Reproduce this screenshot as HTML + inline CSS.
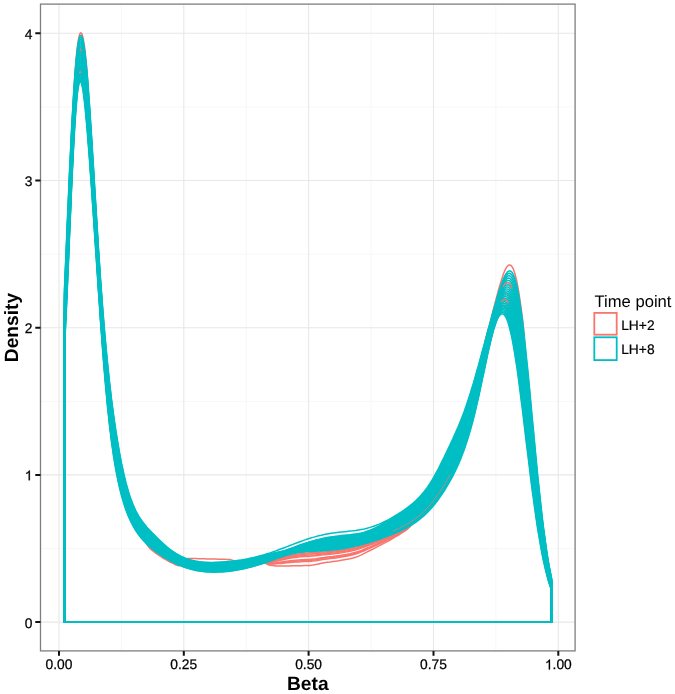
<!DOCTYPE html>
<html><head><meta charset="utf-8"><style>
html,body{margin:0;padding:0;background:#fff;}
svg{display:block;font-family:"Liberation Sans",sans-serif;text-rendering:geometricPrecision;filter:blur(0.3px);}
</style></head><body>
<svg width="675" height="694" viewBox="0 0 675 694">
<rect width="675" height="694" fill="#fff"/>
<path d="M121.4 4.1V650.9M246.2 4.1V650.9M371.1 4.1V650.9M495.9 4.1V650.9M40.5 548.5H575.1M40.5 401.3H575.1M40.5 254.1H575.1M40.5 106.9H575.1" stroke="#F7F7F7" stroke-width="1" fill="none"/>
<path d="M59.0 4.1V650.9M183.8 4.1V650.9M308.6 4.1V650.9M433.5 4.1V650.9M558.3 4.1V650.9M40.5 622.1H575.1M40.5 474.9H575.1M40.5 327.7H575.1M40.5 180.5H575.1M40.5 33.3H575.1" stroke="#E8E8E8" stroke-width="1.1" fill="none"/>
<g fill="none" stroke-width="1.5" stroke-linejoin="round">
<path d="M64.5 622.1L64.5 317.9L64.9 308.5L65.4 298.9L65.8 289.1L66.3 279.2L66.7 269.3L67.1 259.2L67.6 249.0L68.0 238.9L68.5 228.7L68.9 218.6L69.3 208.5L69.8 198.5L70.2 188.6L70.7 178.9L71.1 169.3L71.5 160.0L72.0 150.9L72.4 140.7L72.9 128.1L73.3 114.6L73.7 101.3L74.2 89.1L74.6 79.0L75.1 71.8L75.5 66.2L75.9 61.0L76.4 56.2L76.8 51.9L77.2 47.9L77.7 44.5L78.1 41.5L78.6 38.9L79.0 36.8L79.4 35.1L79.9 33.9L80.3 33.1L80.8 32.8L81.2 32.9L81.6 33.4L82.1 34.4L82.5 35.8L83.0 37.6L83.4 39.8L83.8 42.4L84.3 45.4L84.7 48.8L85.2 52.5L85.6 56.5L86.0 60.9L86.5 65.5L86.9 70.5L87.4 76.9L87.8 86.2L88.2 97.5L88.7 109.6L89.1 121.4L89.6 131.7L90.0 139.6L90.4 146.0L90.9 152.5L91.3 159.0L91.8 165.7L92.2 172.4L92.6 179.1L93.1 186.0L93.5 192.8L94.0 199.7L94.4 206.6L94.8 213.5L95.3 220.4L95.7 227.3L96.2 234.1L96.6 241.0L97.0 247.8L97.5 254.6L97.9 261.3L98.3 267.9L98.8 274.5L99.2 281.0L99.7 287.5L100.1 293.8L100.5 300.1L101.0 306.2L101.4 312.3L101.9 318.3L102.3 324.1L102.7 329.9L103.2 335.5L103.6 341.0L104.1 346.4L104.5 351.7L104.9 356.9L105.4 361.9L105.8 366.9L106.3 371.7L106.7 376.3L107.1 380.9L107.6 385.4L108.0 389.7L108.5 393.9L108.9 398.0L109.3 402.0L109.8 405.9L110.2 409.7L110.7 413.4L111.1 417.0L111.5 420.5L112.0 423.9L112.4 427.2L112.9 430.4L113.3 433.5L113.7 436.6L114.2 439.5L114.6 442.4L115.1 445.2L115.5 448.0L115.9 450.7L116.4 453.3L116.8 455.8L117.3 458.3L117.7 460.7L118.1 463.0L118.6 465.3L119.0 467.6L119.4 469.7L119.9 471.9L120.3 473.9L120.8 475.9L121.2 477.9L121.6 479.8L122.1 481.7L122.5 483.5L123.0 485.3L123.4 487.0L123.8 488.7L124.3 490.4L124.7 492.0L125.2 493.6L125.6 495.1L126.0 496.6L126.5 498.0L126.9 499.4L127.4 500.8L127.8 502.1L128.2 503.4L128.7 504.6L129.1 505.9L129.6 507.1L130.0 508.2L132.9 515.0L135.7 520.6L138.6 525.3L141.4 529.3L144.3 532.8L147.1 535.9L150.0 538.8L152.9 541.5L155.7 544.0L158.6 546.5L161.4 548.8L164.3 551.0L167.1 553.1L170.0 555.0L172.9 556.8L175.7 558.5L178.6 560.0L181.4 561.3L184.3 562.5L187.1 563.5L190.0 564.4L192.9 565.1L195.7 565.7L198.6 566.2L201.4 566.6L204.3 566.9L207.1 567.1L210.0 567.2L212.9 567.3L215.7 567.3L218.6 567.2L221.4 567.0L224.3 566.8L227.1 566.6L230.0 566.3L232.9 565.9L235.7 565.5L238.6 565.1L241.4 564.6L244.3 564.0L247.1 563.4L250.0 562.8L252.9 562.1L255.7 561.4L258.6 560.6L261.4 559.7L264.3 558.8L267.1 557.9L270.0 556.9L272.9 555.9L275.7 554.9L278.6 553.9L281.4 552.8L284.3 551.8L287.1 550.9L290.0 549.9L292.9 549.0L295.7 548.2L298.6 547.4L301.4 546.7L304.3 546.0L307.1 545.4L310.0 544.8L312.9 544.3L315.7 543.9L318.6 543.4L321.4 543.0L324.3 542.6L327.1 542.3L330.0 541.9L332.9 541.5L335.7 541.2L338.6 540.8L341.4 540.4L344.3 540.1L347.1 539.6L350.0 539.2L352.9 538.7L355.7 538.2L358.6 537.7L361.4 537.0L364.3 536.4L367.1 535.6L370.0 534.8L372.9 533.9L375.7 533.0L378.6 531.9L381.4 530.8L384.3 529.6L387.1 528.4L390.0 527.1L392.9 525.7L395.7 524.2L398.6 522.7L401.4 521.1L404.3 519.5L407.1 517.7L410.0 515.8L412.9 513.7L415.7 511.5L418.6 509.1L421.4 506.4L424.3 503.4L427.1 500.1L430.0 496.5L432.9 492.6L435.7 488.3L438.6 483.7L441.4 478.9L444.3 473.8L447.1 468.5L450.0 463.0L452.9 457.2L455.7 451.2L458.6 444.8L461.4 437.9L464.3 430.3L467.1 422.0L470.0 412.9L470.9 409.8L471.8 406.6L472.8 403.3L473.7 400.0L474.6 396.6L475.5 393.1L476.4 389.5L477.3 385.9L478.3 382.2L479.2 377.6L480.1 372.1L481.0 366.1L481.9 360.0L482.8 354.0L483.8 348.4L484.7 343.4L485.6 339.1L486.5 335.6L487.4 332.2L488.3 328.8L489.3 325.4L490.2 321.9L491.1 318.4L492.0 314.9L492.9 311.4L493.8 307.8L494.8 304.3L495.7 300.8L496.6 297.3L497.5 293.9L498.4 290.5L499.3 287.1L500.3 283.9L501.2 280.9L502.1 278.0L503.0 275.3L503.9 272.8L504.8 270.6L505.8 268.7L506.7 267.1L507.6 266.0L508.5 265.2L509.4 264.9L510.3 265.1L511.3 265.7L512.2 266.9L513.1 268.6L514.0 270.9L514.9 273.8L515.8 277.3L516.8 281.3L517.7 285.9L518.6 291.1L519.5 296.8L520.4 303.1L521.3 309.9L522.3 317.2L523.2 325.0L524.1 335.3L525.0 348.7L525.9 363.9L526.8 380.1L527.8 396.4L528.7 411.8L529.6 425.6L530.5 437.1L531.4 446.2L532.3 454.7L533.3 463.1L534.2 471.4L535.1 479.6L536.0 487.6L536.9 495.4L537.8 503.0L538.8 510.4L539.7 517.5L540.6 524.3L541.5 530.9L542.4 537.2L543.3 543.2L544.3 548.9L545.2 554.3L546.1 559.5L547.0 564.3L547.9 568.9L548.8 573.2L549.8 577.2L550.7 581.0L551.6 584.4L551.6 622.1Z" stroke="#F8766D"/>
<path d="M64.5 622.1L64.5 329.6L64.9 320.6L65.4 311.4L65.8 301.9L66.3 292.3L66.7 282.5L67.1 272.5L67.6 262.4L68.0 252.3L68.5 242.1L68.9 231.8L69.3 221.6L69.8 211.5L70.2 201.4L70.7 191.4L71.1 181.7L71.5 172.1L72.0 162.7L72.4 153.7L72.9 144.9L73.3 136.5L73.7 128.5L74.2 120.9L74.6 113.7L75.1 107.0L75.5 100.8L75.9 95.0L76.4 89.8L76.8 85.1L77.2 81.0L77.7 77.4L78.1 74.3L78.6 71.8L79.0 69.9L79.4 68.4L79.9 67.5L80.3 67.1L80.8 67.2L81.2 67.8L81.6 68.9L82.1 70.4L82.5 72.3L83.0 74.7L83.4 77.4L83.8 80.5L84.3 83.9L84.7 87.7L85.2 91.8L85.6 96.1L86.0 100.7L86.5 105.5L86.9 110.6L87.4 115.8L87.8 121.3L88.2 126.9L88.7 132.6L89.1 138.5L89.6 144.6L90.0 150.7L90.4 157.0L90.9 163.3L91.3 169.7L91.8 176.2L92.2 182.8L92.6 189.4L93.1 196.1L93.5 202.8L94.0 209.5L94.4 216.3L94.8 223.0L95.3 229.8L95.7 236.6L96.2 243.3L96.6 250.0L97.0 256.8L97.5 263.4L97.9 270.1L98.3 276.7L98.8 283.2L99.2 289.7L99.7 296.1L100.1 302.4L100.5 308.6L101.0 314.8L101.4 320.9L101.9 326.8L102.3 332.7L102.7 338.4L103.2 344.1L103.6 349.6L104.1 355.1L104.5 360.4L104.9 365.6L105.4 370.6L105.8 375.6L106.3 380.4L106.7 385.1L107.1 389.7L107.6 394.1L108.0 398.5L108.5 402.7L108.9 406.8L109.3 410.8L109.8 414.7L110.2 418.4L110.7 422.1L111.1 425.6L111.5 429.1L112.0 432.4L112.4 435.7L112.9 438.8L113.3 441.9L113.7 444.9L114.2 447.8L114.6 450.6L115.1 453.3L115.5 456.0L115.9 458.6L116.4 461.1L116.8 463.5L117.3 465.9L117.7 468.2L118.1 470.4L118.6 472.6L119.0 474.7L119.4 476.8L119.9 478.8L120.3 480.8L120.8 482.7L121.2 484.6L121.6 486.4L122.1 488.1L122.5 489.8L123.0 491.5L123.4 493.1L123.8 494.7L124.3 496.3L124.7 497.8L125.2 499.2L125.6 500.6L126.0 502.0L126.5 503.4L126.9 504.7L127.4 506.0L127.8 507.2L128.2 508.4L128.7 509.6L129.1 510.7L129.6 511.8L130.0 512.9L132.9 519.3L135.7 524.6L138.6 529.1L141.4 533.3L144.3 539.0L147.1 544.7L150.0 548.6L152.9 550.9L155.7 553.1L158.6 555.1L161.4 557.0L164.3 558.8L167.1 560.4L170.0 562.0L172.9 563.4L175.7 564.7L178.6 565.9L181.4 564.7L184.3 561.4L187.1 558.6L190.0 558.4L192.9 558.5L195.7 558.6L198.6 558.7L201.4 558.7L204.3 558.8L207.1 558.9L210.0 558.9L212.9 559.0L215.7 559.1L218.6 559.2L221.4 559.2L224.3 559.3L227.1 559.4L230.0 559.4L232.9 560.4L235.7 562.3L238.6 564.0L241.4 564.5L244.3 564.0L247.1 563.4L250.0 562.8L252.9 562.1L255.7 561.4L258.6 560.6L261.4 559.7L264.3 558.8L267.1 557.9L270.0 556.9L272.9 555.9L275.7 554.9L278.6 553.9L281.4 552.8L284.3 551.8L287.1 550.9L290.0 549.9L292.9 549.0L295.7 548.2L298.6 547.4L301.4 546.7L304.3 546.0L307.1 545.4L310.0 544.8L312.9 544.3L315.7 543.9L318.6 543.4L321.4 543.0L324.3 542.6L327.1 542.3L330.0 541.9L332.9 541.5L335.7 541.2L338.6 540.8L341.4 540.4L344.3 540.1L347.1 539.6L350.0 539.2L352.9 538.7L355.7 538.2L358.6 537.7L361.4 537.0L364.3 536.4L367.1 535.6L370.0 534.8L372.9 533.9L375.7 533.0L378.6 531.9L381.4 530.8L384.3 529.6L387.1 528.4L390.0 527.1L392.9 525.7L395.7 524.2L398.6 522.7L401.4 521.1L404.3 519.5L407.1 517.7L410.0 515.8L412.9 513.7L415.7 511.5L418.6 509.1L421.4 506.4L424.3 503.4L427.1 500.1L430.0 496.5L432.9 492.6L435.7 488.3L438.6 483.7L441.4 478.9L444.3 473.8L447.1 468.5L450.0 463.0L452.9 457.2L455.7 451.2L458.6 444.8L461.4 437.9L464.3 430.3L467.1 422.0L470.0 412.9L470.9 409.8L471.8 406.6L472.8 403.3L473.7 400.0L474.6 396.6L475.5 393.1L476.4 389.5L477.3 385.9L478.3 382.2L479.2 378.5L480.1 374.7L481.0 370.9L481.9 367.1L482.8 363.2L483.8 359.3L484.7 355.5L485.6 351.6L486.5 347.7L487.4 343.9L488.3 340.1L489.3 336.3L490.2 332.6L491.1 329.0L492.0 325.4L492.9 321.9L493.8 318.5L494.8 315.3L495.7 312.2L496.6 309.2L497.5 306.4L498.4 303.9L499.3 301.5L500.3 299.4L501.2 297.5L502.1 295.9L503.0 294.7L503.9 293.7L504.8 293.1L505.8 292.9L506.7 293.1L507.6 293.7L508.5 294.7L509.4 296.1L510.3 298.0L511.3 300.4L512.2 303.2L513.1 306.5L514.0 310.2L514.9 314.4L515.8 319.1L516.8 324.2L517.7 329.7L518.6 335.6L519.5 342.0L520.4 348.6L521.3 355.7L522.3 363.0L523.2 370.6L524.1 378.5L525.0 386.6L525.9 394.8L526.8 403.2L527.8 411.7L528.7 420.3L529.6 428.9L530.5 437.6L531.4 446.2L532.3 454.7L533.3 463.1L534.2 471.4L535.1 479.6L536.0 487.6L536.9 495.4L537.8 503.0L538.8 510.4L539.7 517.5L540.6 524.3L541.5 530.9L542.4 537.2L543.3 543.2L544.3 548.9L545.2 554.3L546.1 559.5L547.0 564.3L547.9 568.9L548.8 573.2L549.8 577.2L550.7 581.0L551.6 584.4L551.6 622.1Z" stroke="#F8766D"/>
<path d="M64.5 622.1L64.5 335.5L64.9 326.7L65.4 317.6L65.8 308.3L66.3 298.8L66.7 289.1L67.1 279.2L67.6 269.1L68.0 259.0L68.5 248.7L68.9 238.5L69.3 228.2L69.8 217.9L70.2 207.8L70.7 197.7L71.1 187.8L71.5 178.1L72.0 168.6L72.4 159.4L72.9 150.6L73.3 142.0L73.7 133.9L74.2 126.1L74.6 118.8L75.1 112.0L75.5 105.7L75.9 99.9L76.4 94.6L76.8 89.9L77.2 85.7L77.7 82.1L78.1 79.0L78.6 76.5L79.0 74.6L79.4 73.2L79.9 72.3L80.3 72.0L80.8 72.2L81.2 72.8L81.6 74.0L82.1 75.5L82.5 77.6L83.0 80.0L83.4 82.8L83.8 85.9L84.3 89.4L84.7 93.3L85.2 97.4L85.6 101.7L86.0 106.4L86.5 111.2L86.9 116.3L87.4 121.5L87.8 127.0L88.2 132.6L88.7 138.3L89.1 144.2L89.6 150.2L90.0 156.3L90.4 162.5L90.9 168.7L91.3 175.1L91.8 181.5L92.2 188.0L92.6 194.6L93.1 201.2L93.5 207.8L94.0 214.4L94.4 221.1L94.8 227.8L95.3 234.5L95.7 241.2L96.2 247.9L96.6 254.6L97.0 261.2L97.5 267.9L97.9 274.5L98.3 281.0L98.8 287.5L99.2 294.0L99.7 300.4L100.1 306.7L100.5 312.9L101.0 319.1L101.4 325.1L101.9 331.1L102.3 337.0L102.7 342.7L103.2 348.4L103.6 353.9L104.1 359.4L104.5 364.7L104.9 369.9L105.4 375.0L105.8 379.9L106.3 384.8L106.7 389.5L107.1 394.1L107.6 398.5L108.0 402.9L108.5 407.1L108.9 411.2L109.3 415.2L109.8 419.0L110.2 422.8L110.7 426.4L111.1 430.0L111.5 433.4L112.0 436.7L112.4 439.9L112.9 443.1L113.3 446.1L113.7 449.0L114.2 451.9L114.6 454.7L115.1 457.4L115.5 460.0L115.9 462.5L116.4 465.0L116.8 467.4L117.3 469.7L117.7 471.9L118.1 474.1L118.6 476.3L119.0 478.3L119.4 480.4L119.9 482.3L120.3 484.2L120.8 486.1L121.2 487.9L121.6 489.6L122.1 491.3L122.5 493.0L123.0 494.6L123.4 496.2L123.8 497.7L124.3 499.2L124.7 500.7L125.2 502.1L125.6 503.4L126.0 504.8L126.5 506.1L126.9 507.3L127.4 508.6L127.8 509.8L128.2 510.9L128.7 512.1L129.1 513.2L129.6 514.2L130.0 515.3L132.9 521.4L135.7 526.6L138.6 531.0L141.4 534.7L144.3 538.0L147.1 541.0L150.0 543.7L152.9 546.2L155.7 548.6L158.6 550.8L161.4 552.9L164.3 554.9L167.1 556.8L170.0 558.5L172.9 560.1L175.7 561.6L178.6 563.0L181.4 564.2L184.3 565.3L187.1 566.3L190.0 567.1L192.9 567.9L195.7 568.5L198.6 569.0L201.4 569.5L204.3 569.8L207.1 570.0L210.0 570.2L212.9 570.2L215.7 570.2L218.6 570.1L221.4 570.0L224.3 569.8L227.1 569.5L230.0 569.2L232.9 568.8L235.7 568.4L238.6 567.9L241.4 567.4L244.3 566.8L247.1 566.2L250.0 565.5L252.9 564.8L255.7 564.0L258.6 563.2L261.4 562.3L264.3 561.6L267.1 562.3L270.0 561.4L272.9 560.5L275.7 559.6L278.6 558.7L281.4 557.8L284.3 557.0L287.1 556.2L290.0 555.5L292.9 554.9L295.7 554.3L298.6 553.9L301.4 553.5L304.3 553.2L307.1 553.0L310.0 552.8L312.9 552.7L315.7 552.5L318.6 552.3L321.4 552.1L324.3 551.9L327.1 551.7L330.0 551.5L332.9 551.2L335.7 550.8L338.6 550.5L341.4 550.0L344.3 549.5L347.1 549.0L350.0 548.5L352.9 547.8L355.7 547.2L358.6 546.5L361.4 545.7L364.3 544.8L367.1 544.0L370.0 543.1L372.9 542.1L375.7 541.1L378.6 540.1L381.4 539.1L384.3 538.0L387.1 536.9L390.0 535.7L392.9 534.6L395.7 533.3L398.6 532.0L401.4 530.7L404.3 529.2L407.1 527.7L410.0 525.4L412.9 522.4L415.7 519.1L418.6 516.1L421.4 513.3L424.3 510.6L427.1 507.7L430.0 504.4L432.9 500.9L435.7 497.1L438.6 493.0L441.4 488.6L444.3 484.0L447.1 479.1L450.0 473.9L452.9 468.4L455.7 462.6L458.6 456.3L461.4 449.4L464.3 441.8L467.1 433.4L470.0 424.1L470.9 420.9L471.8 417.6L472.8 414.2L473.7 410.8L474.6 407.2L475.5 403.5L476.4 399.8L477.3 395.9L478.3 392.0L479.2 388.0L480.1 384.0L481.0 379.9L481.9 375.8L482.8 371.6L483.8 367.5L484.7 363.3L485.6 359.1L486.5 355.0L487.4 350.9L488.3 346.9L489.3 342.9L490.2 339.1L491.1 335.3L492.0 331.7L492.9 328.2L493.8 325.0L494.8 321.9L495.7 319.0L496.6 316.4L497.5 314.0L498.4 311.9L499.3 310.1L500.3 308.6L501.2 307.5L502.1 306.7L503.0 306.3L503.9 306.3L504.8 306.6L505.8 307.4L506.7 308.6L507.6 310.3L508.5 312.3L509.4 314.8L510.3 317.8L511.3 321.1L512.2 324.9L513.1 329.2L514.0 333.8L514.9 338.8L515.8 344.2L516.8 349.9L517.7 356.0L518.6 362.4L519.5 369.0L520.4 376.0L521.3 383.1L522.3 390.5L523.2 398.1L524.1 405.8L525.0 413.6L525.9 421.5L526.8 429.4L527.8 437.4L528.7 445.3L529.6 453.3L530.5 461.1L531.4 468.9L532.3 476.6L533.3 484.1L534.2 491.5L535.1 498.7L536.0 505.7L536.9 512.5L537.8 519.1L538.8 525.4L539.7 531.5L540.6 537.4L541.5 543.0L542.4 548.3L543.3 553.4L544.3 558.3L545.2 562.9L546.1 567.2L547.0 571.3L547.9 575.1L548.8 578.7L549.8 582.1L550.7 585.2L551.6 588.1L551.6 622.1Z" stroke="#F8766D"/>
<path d="M64.5 622.1L64.5 335.5L64.9 326.7L65.4 317.6L65.8 308.3L66.3 298.8L66.7 289.1L67.1 279.2L67.6 269.1L68.0 259.0L68.5 248.7L68.9 238.5L69.3 228.2L69.8 217.9L70.2 207.8L70.7 197.7L71.1 187.8L71.5 178.1L72.0 168.6L72.4 159.4L72.9 150.6L73.3 142.0L73.7 133.9L74.2 126.1L74.6 118.8L75.1 112.0L75.5 105.7L75.9 99.9L76.4 94.6L76.8 89.9L77.2 85.7L77.7 82.1L78.1 79.0L78.6 76.5L79.0 74.6L79.4 73.2L79.9 72.3L80.3 72.0L80.8 72.2L81.2 72.8L81.6 74.0L82.1 75.5L82.5 77.6L83.0 80.0L83.4 82.8L83.8 85.9L84.3 89.4L84.7 93.3L85.2 97.4L85.6 101.7L86.0 106.4L86.5 111.2L86.9 116.3L87.4 121.5L87.8 127.0L88.2 132.6L88.7 138.3L89.1 144.2L89.6 150.2L90.0 156.3L90.4 162.5L90.9 168.7L91.3 175.1L91.8 181.5L92.2 188.0L92.6 194.6L93.1 201.2L93.5 207.8L94.0 214.4L94.4 221.1L94.8 227.8L95.3 234.5L95.7 241.2L96.2 247.9L96.6 254.6L97.0 261.2L97.5 267.9L97.9 274.5L98.3 281.0L98.8 287.5L99.2 294.0L99.7 300.4L100.1 306.7L100.5 312.9L101.0 319.1L101.4 325.1L101.9 331.1L102.3 337.0L102.7 342.7L103.2 348.4L103.6 353.9L104.1 359.4L104.5 364.7L104.9 369.9L105.4 375.0L105.8 379.9L106.3 384.8L106.7 389.5L107.1 394.1L107.6 398.5L108.0 402.9L108.5 407.1L108.9 411.2L109.3 415.2L109.8 419.0L110.2 422.8L110.7 426.4L111.1 430.0L111.5 433.4L112.0 436.7L112.4 439.9L112.9 443.1L113.3 446.1L113.7 449.0L114.2 451.9L114.6 454.7L115.1 457.4L115.5 460.0L115.9 462.5L116.4 465.0L116.8 467.4L117.3 469.7L117.7 471.9L118.1 474.1L118.6 476.3L119.0 478.3L119.4 480.4L119.9 482.3L120.3 484.2L120.8 486.1L121.2 487.9L121.6 489.6L122.1 491.3L122.5 493.0L123.0 494.6L123.4 496.2L123.8 497.7L124.3 499.2L124.7 500.7L125.2 502.1L125.6 503.4L126.0 504.8L126.5 506.1L126.9 507.3L127.4 508.6L127.8 509.8L128.2 510.9L128.7 512.1L129.1 513.2L129.6 514.2L130.0 515.3L132.9 521.4L135.7 526.6L138.6 531.0L141.4 534.7L144.3 538.0L147.1 541.0L150.0 543.7L152.9 546.2L155.7 548.6L158.6 550.8L161.4 552.9L164.3 554.9L167.1 556.8L170.0 558.5L172.9 560.1L175.7 561.6L178.6 563.0L181.4 564.2L184.3 565.3L187.1 566.3L190.0 567.1L192.9 567.9L195.7 568.5L198.6 569.0L201.4 569.5L204.3 569.8L207.1 570.0L210.0 570.2L212.9 570.2L215.7 570.2L218.6 570.1L221.4 570.0L224.3 569.8L227.1 569.5L230.0 569.2L232.9 568.8L235.7 568.4L238.6 567.9L241.4 567.4L244.3 566.8L247.1 566.2L250.0 565.5L252.9 564.8L255.7 564.0L258.6 563.2L261.4 562.3L264.3 561.6L267.1 562.4L270.0 561.8L272.9 561.0L275.7 560.2L278.6 559.4L281.4 558.6L284.3 557.8L287.1 557.1L290.0 556.4L292.9 555.8L295.7 555.3L298.6 554.9L301.4 554.6L304.3 554.3L307.1 554.1L310.0 554.0L312.9 553.8L315.7 553.6L318.6 553.4L321.4 553.1L324.3 552.9L327.1 552.7L330.0 552.4L332.9 552.1L335.7 551.8L338.6 551.4L341.4 550.9L344.3 550.5L347.1 549.9L350.0 549.4L352.9 548.7L355.7 548.1L358.6 547.3L361.4 546.5L364.3 545.6L367.1 544.7L370.0 543.7L372.9 542.7L375.7 541.7L378.6 540.7L381.4 539.6L384.3 538.5L387.1 537.3L390.0 536.1L392.9 534.9L395.7 533.6L398.6 532.3L401.4 530.9L404.3 529.4L407.1 527.8L410.0 525.5L412.9 522.5L415.7 519.2L418.6 516.1L421.4 513.3L424.3 510.6L427.1 507.7L430.0 504.4L432.9 500.9L435.7 497.1L438.6 493.0L441.4 488.6L444.3 484.0L447.1 479.1L450.0 473.9L452.9 468.4L455.7 462.6L458.6 456.3L461.4 449.4L464.3 441.8L467.1 433.4L470.0 424.1L470.9 420.9L471.8 417.6L472.8 414.2L473.7 410.8L474.6 407.2L475.5 403.5L476.4 399.8L477.3 395.9L478.3 392.0L479.2 388.0L480.1 384.0L481.0 379.9L481.9 375.8L482.8 371.6L483.8 367.5L484.7 363.3L485.6 359.1L486.5 355.0L487.4 350.9L488.3 346.9L489.3 342.9L490.2 339.1L491.1 335.3L492.0 331.7L492.9 328.2L493.8 325.0L494.8 321.9L495.7 319.0L496.6 316.4L497.5 314.0L498.4 311.9L499.3 310.1L500.3 308.6L501.2 307.5L502.1 306.7L503.0 306.3L503.9 306.3L504.8 306.6L505.8 307.4L506.7 308.6L507.6 310.3L508.5 312.3L509.4 314.8L510.3 317.8L511.3 321.1L512.2 324.9L513.1 329.2L514.0 333.8L514.9 338.8L515.8 344.2L516.8 349.9L517.7 356.0L518.6 362.4L519.5 369.0L520.4 376.0L521.3 383.1L522.3 390.5L523.2 398.1L524.1 405.8L525.0 413.6L525.9 421.5L526.8 429.4L527.8 437.4L528.7 445.3L529.6 453.3L530.5 461.1L531.4 468.9L532.3 476.6L533.3 484.1L534.2 491.5L535.1 498.7L536.0 505.7L536.9 512.5L537.8 519.1L538.8 525.4L539.7 531.5L540.6 537.4L541.5 543.0L542.4 548.3L543.3 553.4L544.3 558.3L545.2 562.9L546.1 567.2L547.0 571.3L547.9 575.1L548.8 578.7L549.8 582.1L550.7 585.2L551.6 588.1L551.6 622.1Z" stroke="#F8766D"/>
<path d="M64.5 622.1L64.5 335.5L64.9 326.7L65.4 317.6L65.8 308.3L66.3 298.8L66.7 289.1L67.1 279.2L67.6 269.1L68.0 259.0L68.5 248.7L68.9 238.5L69.3 228.2L69.8 217.9L70.2 207.8L70.7 197.7L71.1 187.8L71.5 178.1L72.0 168.6L72.4 159.4L72.9 150.6L73.3 142.0L73.7 133.9L74.2 126.1L74.6 118.8L75.1 112.0L75.5 105.7L75.9 99.9L76.4 94.6L76.8 89.9L77.2 85.7L77.7 82.1L78.1 79.0L78.6 76.5L79.0 74.6L79.4 73.2L79.9 72.3L80.3 72.0L80.8 72.2L81.2 72.8L81.6 74.0L82.1 75.5L82.5 77.6L83.0 80.0L83.4 82.8L83.8 85.9L84.3 89.4L84.7 93.3L85.2 97.4L85.6 101.7L86.0 106.4L86.5 111.2L86.9 116.3L87.4 121.5L87.8 127.0L88.2 132.6L88.7 138.3L89.1 144.2L89.6 150.2L90.0 156.3L90.4 162.5L90.9 168.7L91.3 175.1L91.8 181.5L92.2 188.0L92.6 194.6L93.1 201.2L93.5 207.8L94.0 214.4L94.4 221.1L94.8 227.8L95.3 234.5L95.7 241.2L96.2 247.9L96.6 254.6L97.0 261.2L97.5 267.9L97.9 274.5L98.3 281.0L98.8 287.5L99.2 294.0L99.7 300.4L100.1 306.7L100.5 312.9L101.0 319.1L101.4 325.1L101.9 331.1L102.3 337.0L102.7 342.7L103.2 348.4L103.6 353.9L104.1 359.4L104.5 364.7L104.9 369.9L105.4 375.0L105.8 379.9L106.3 384.8L106.7 389.5L107.1 394.1L107.6 398.5L108.0 402.9L108.5 407.1L108.9 411.2L109.3 415.2L109.8 419.0L110.2 422.8L110.7 426.4L111.1 430.0L111.5 433.4L112.0 436.7L112.4 439.9L112.9 443.1L113.3 446.1L113.7 449.0L114.2 451.9L114.6 454.7L115.1 457.4L115.5 460.0L115.9 462.5L116.4 465.0L116.8 467.4L117.3 469.7L117.7 471.9L118.1 474.1L118.6 476.3L119.0 478.3L119.4 480.4L119.9 482.3L120.3 484.2L120.8 486.1L121.2 487.9L121.6 489.6L122.1 491.3L122.5 493.0L123.0 494.6L123.4 496.2L123.8 497.7L124.3 499.2L124.7 500.7L125.2 502.1L125.6 503.4L126.0 504.8L126.5 506.1L126.9 507.3L127.4 508.6L127.8 509.8L128.2 510.9L128.7 512.1L129.1 513.2L129.6 514.2L130.0 515.3L132.9 521.4L135.7 526.6L138.6 531.0L141.4 534.7L144.3 538.0L147.1 541.0L150.0 543.7L152.9 546.2L155.7 548.6L158.6 550.8L161.4 552.9L164.3 554.9L167.1 556.8L170.0 558.5L172.9 560.1L175.7 561.6L178.6 563.0L181.4 564.2L184.3 565.3L187.1 566.3L190.0 567.1L192.9 567.9L195.7 568.5L198.6 569.0L201.4 569.5L204.3 569.8L207.1 570.0L210.0 570.2L212.9 570.2L215.7 570.2L218.6 570.1L221.4 570.0L224.3 569.8L227.1 569.5L230.0 569.2L232.9 568.8L235.7 568.4L238.6 567.9L241.4 567.4L244.3 566.8L247.1 566.2L250.0 565.5L252.9 564.8L255.7 564.0L258.6 563.2L261.4 562.3L264.3 561.6L267.1 562.6L270.0 562.1L272.9 561.4L275.7 560.7L278.6 560.0L281.4 559.3L284.3 558.6L287.1 557.9L290.0 557.3L292.9 556.8L295.7 556.4L298.6 556.0L301.4 555.7L304.3 555.4L307.1 555.2L310.0 555.1L312.9 554.9L315.7 554.7L318.6 554.4L321.4 554.1L324.3 553.9L327.1 553.6L330.0 553.3L332.9 553.0L335.7 552.7L338.6 552.3L341.4 551.8L344.3 551.4L347.1 550.8L350.0 550.3L352.9 549.6L355.7 549.0L358.6 548.2L361.4 547.3L364.3 546.4L367.1 545.4L370.0 544.4L372.9 543.4L375.7 542.3L378.6 541.2L381.4 540.1L384.3 538.9L387.1 537.7L390.0 536.5L392.9 535.2L395.7 533.9L398.6 532.6L401.4 531.1L404.3 529.6L407.1 528.0L410.0 525.7L412.9 522.6L415.7 519.2L418.6 516.1L421.4 513.3L424.3 510.6L427.1 507.7L430.0 504.4L432.9 500.9L435.7 497.1L438.6 493.0L441.4 488.6L444.3 484.0L447.1 479.1L450.0 473.9L452.9 468.4L455.7 462.6L458.6 456.3L461.4 449.4L464.3 441.8L467.1 433.4L470.0 424.1L470.9 420.9L471.8 417.6L472.8 414.2L473.7 410.8L474.6 407.2L475.5 403.5L476.4 399.8L477.3 395.9L478.3 392.0L479.2 388.0L480.1 384.0L481.0 379.9L481.9 375.8L482.8 371.6L483.8 367.5L484.7 363.3L485.6 359.1L486.5 355.0L487.4 350.9L488.3 346.9L489.3 342.9L490.2 339.1L491.1 335.3L492.0 331.7L492.9 328.2L493.8 325.0L494.8 321.9L495.7 319.0L496.6 316.4L497.5 314.0L498.4 311.9L499.3 310.1L500.3 308.6L501.2 307.5L502.1 306.7L503.0 306.3L503.9 306.3L504.8 306.6L505.8 307.4L506.7 308.6L507.6 310.3L508.5 312.3L509.4 314.8L510.3 317.8L511.3 321.1L512.2 324.9L513.1 329.2L514.0 333.8L514.9 338.8L515.8 344.2L516.8 349.9L517.7 356.0L518.6 362.4L519.5 369.0L520.4 376.0L521.3 383.1L522.3 390.5L523.2 398.1L524.1 405.8L525.0 413.6L525.9 421.5L526.8 429.4L527.8 437.4L528.7 445.3L529.6 453.3L530.5 461.1L531.4 468.9L532.3 476.6L533.3 484.1L534.2 491.5L535.1 498.7L536.0 505.7L536.9 512.5L537.8 519.1L538.8 525.4L539.7 531.5L540.6 537.4L541.5 543.0L542.4 548.3L543.3 553.4L544.3 558.3L545.2 562.9L546.1 567.2L547.0 571.3L547.9 575.1L548.8 578.7L549.8 582.1L550.7 585.2L551.6 588.1L551.6 622.1Z" stroke="#F8766D"/>
<path d="M64.5 622.1L64.5 335.5L64.9 326.7L65.4 317.6L65.8 308.3L66.3 298.8L66.7 289.1L67.1 279.2L67.6 269.1L68.0 259.0L68.5 248.7L68.9 238.5L69.3 228.2L69.8 217.9L70.2 207.8L70.7 197.7L71.1 187.8L71.5 178.1L72.0 168.6L72.4 159.4L72.9 150.6L73.3 142.0L73.7 133.9L74.2 126.1L74.6 118.8L75.1 112.0L75.5 105.7L75.9 99.9L76.4 94.6L76.8 89.9L77.2 85.7L77.7 82.1L78.1 79.0L78.6 76.5L79.0 74.6L79.4 73.2L79.9 72.3L80.3 72.0L80.8 72.2L81.2 72.8L81.6 74.0L82.1 75.5L82.5 77.6L83.0 80.0L83.4 82.8L83.8 85.9L84.3 89.4L84.7 93.3L85.2 97.4L85.6 101.7L86.0 106.4L86.5 111.2L86.9 116.3L87.4 121.5L87.8 127.0L88.2 132.6L88.7 138.3L89.1 144.2L89.6 150.2L90.0 156.3L90.4 162.5L90.9 168.7L91.3 175.1L91.8 181.5L92.2 188.0L92.6 194.6L93.1 201.2L93.5 207.8L94.0 214.4L94.4 221.1L94.8 227.8L95.3 234.5L95.7 241.2L96.2 247.9L96.6 254.6L97.0 261.2L97.5 267.9L97.9 274.5L98.3 281.0L98.8 287.5L99.2 294.0L99.7 300.4L100.1 306.7L100.5 312.9L101.0 319.1L101.4 325.1L101.9 331.1L102.3 337.0L102.7 342.7L103.2 348.4L103.6 353.9L104.1 359.4L104.5 364.7L104.9 369.9L105.4 375.0L105.8 379.9L106.3 384.8L106.7 389.5L107.1 394.1L107.6 398.5L108.0 402.9L108.5 407.1L108.9 411.2L109.3 415.2L109.8 419.0L110.2 422.8L110.7 426.4L111.1 430.0L111.5 433.4L112.0 436.7L112.4 439.9L112.9 443.1L113.3 446.1L113.7 449.0L114.2 451.9L114.6 454.7L115.1 457.4L115.5 460.0L115.9 462.5L116.4 465.0L116.8 467.4L117.3 469.7L117.7 471.9L118.1 474.1L118.6 476.3L119.0 478.3L119.4 480.4L119.9 482.3L120.3 484.2L120.8 486.1L121.2 487.9L121.6 489.6L122.1 491.3L122.5 493.0L123.0 494.6L123.4 496.2L123.8 497.7L124.3 499.2L124.7 500.7L125.2 502.1L125.6 503.4L126.0 504.8L126.5 506.1L126.9 507.3L127.4 508.6L127.8 509.8L128.2 510.9L128.7 512.1L129.1 513.2L129.6 514.2L130.0 515.3L132.9 521.4L135.7 526.6L138.6 531.0L141.4 534.7L144.3 538.0L147.1 541.0L150.0 543.7L152.9 546.2L155.7 548.6L158.6 550.8L161.4 552.9L164.3 554.9L167.1 556.8L170.0 558.5L172.9 560.1L175.7 561.6L178.6 563.0L181.4 564.2L184.3 565.3L187.1 566.3L190.0 567.1L192.9 567.9L195.7 568.5L198.6 569.0L201.4 569.5L204.3 569.8L207.1 570.0L210.0 570.2L212.9 570.2L215.7 570.2L218.6 570.1L221.4 570.0L224.3 569.8L227.1 569.5L230.0 569.2L232.9 568.8L235.7 568.4L238.6 567.9L241.4 567.4L244.3 566.8L247.1 566.2L250.0 565.5L252.9 564.8L255.7 564.0L258.6 563.2L261.4 562.3L264.3 561.7L267.1 562.8L270.0 562.5L272.9 561.9L275.7 561.3L278.6 560.7L281.4 560.0L284.3 559.4L287.1 558.8L290.0 558.3L292.9 557.8L295.7 557.4L298.6 557.0L301.4 556.8L304.3 556.5L307.1 556.4L310.0 556.2L312.9 556.0L315.7 555.7L318.6 555.4L321.4 555.1L324.3 554.8L327.1 554.6L330.0 554.3L332.9 554.0L335.7 553.6L338.6 553.2L341.4 552.8L344.3 552.3L347.1 551.8L350.0 551.2L352.9 550.5L355.7 549.9L358.6 549.0L361.4 548.1L364.3 547.1L367.1 546.1L370.0 545.0L372.9 544.0L375.7 542.9L378.6 541.8L381.4 540.6L384.3 539.4L387.1 538.2L390.0 536.9L392.9 535.6L395.7 534.2L398.6 532.8L401.4 531.3L404.3 529.8L407.1 528.2L410.0 525.8L412.9 522.7L415.7 519.3L418.6 516.1L421.4 513.3L424.3 510.6L427.1 507.7L430.0 504.4L432.9 500.9L435.7 497.1L438.6 493.0L441.4 488.6L444.3 484.0L447.1 479.1L450.0 473.9L452.9 468.4L455.7 462.6L458.6 456.3L461.4 449.4L464.3 441.8L467.1 433.4L470.0 424.1L470.9 420.9L471.8 417.6L472.8 414.2L473.7 410.8L474.6 407.2L475.5 403.5L476.4 399.8L477.3 395.9L478.3 392.0L479.2 388.0L480.1 384.0L481.0 379.9L481.9 375.8L482.8 371.6L483.8 367.5L484.7 363.3L485.6 359.1L486.5 355.0L487.4 350.9L488.3 346.9L489.3 342.9L490.2 339.1L491.1 335.3L492.0 331.7L492.9 328.2L493.8 325.0L494.8 321.9L495.7 319.0L496.6 316.4L497.5 314.0L498.4 311.9L499.3 310.1L500.3 308.6L501.2 307.5L502.1 306.7L503.0 306.3L503.9 306.3L504.8 306.6L505.8 307.4L506.7 308.6L507.6 310.3L508.5 312.3L509.4 314.8L510.3 317.8L511.3 321.1L512.2 324.9L513.1 329.2L514.0 333.8L514.9 338.8L515.8 344.2L516.8 349.9L517.7 356.0L518.6 362.4L519.5 369.0L520.4 376.0L521.3 383.1L522.3 390.5L523.2 398.1L524.1 405.8L525.0 413.6L525.9 421.5L526.8 429.4L527.8 437.4L528.7 445.3L529.6 453.3L530.5 461.1L531.4 468.9L532.3 476.6L533.3 484.1L534.2 491.5L535.1 498.7L536.0 505.7L536.9 512.5L537.8 519.1L538.8 525.4L539.7 531.5L540.6 537.4L541.5 543.0L542.4 548.3L543.3 553.4L544.3 558.3L545.2 562.9L546.1 567.2L547.0 571.3L547.9 575.1L548.8 578.7L549.8 582.1L550.7 585.2L551.6 588.1L551.6 622.1Z" stroke="#F8766D"/>
<path d="M64.5 622.1L64.5 335.5L64.9 326.7L65.4 317.6L65.8 308.3L66.3 298.8L66.7 289.1L67.1 279.2L67.6 269.1L68.0 259.0L68.5 248.7L68.9 238.5L69.3 228.2L69.8 217.9L70.2 207.8L70.7 197.7L71.1 187.8L71.5 178.1L72.0 168.6L72.4 159.4L72.9 150.6L73.3 142.0L73.7 133.9L74.2 126.1L74.6 118.8L75.1 112.0L75.5 105.7L75.9 99.9L76.4 94.6L76.8 89.9L77.2 85.7L77.7 82.1L78.1 79.0L78.6 76.5L79.0 74.6L79.4 73.2L79.9 72.3L80.3 72.0L80.8 72.2L81.2 72.8L81.6 74.0L82.1 75.5L82.5 77.6L83.0 80.0L83.4 82.8L83.8 85.9L84.3 89.4L84.7 93.3L85.2 97.4L85.6 101.7L86.0 106.4L86.5 111.2L86.9 116.3L87.4 121.5L87.8 127.0L88.2 132.6L88.7 138.3L89.1 144.2L89.6 150.2L90.0 156.3L90.4 162.5L90.9 168.7L91.3 175.1L91.8 181.5L92.2 188.0L92.6 194.6L93.1 201.2L93.5 207.8L94.0 214.4L94.4 221.1L94.8 227.8L95.3 234.5L95.7 241.2L96.2 247.9L96.6 254.6L97.0 261.2L97.5 267.9L97.9 274.5L98.3 281.0L98.8 287.5L99.2 294.0L99.7 300.4L100.1 306.7L100.5 312.9L101.0 319.1L101.4 325.1L101.9 331.1L102.3 337.0L102.7 342.7L103.2 348.4L103.6 353.9L104.1 359.4L104.5 364.7L104.9 369.9L105.4 375.0L105.8 379.9L106.3 384.8L106.7 389.5L107.1 394.1L107.6 398.5L108.0 402.9L108.5 407.1L108.9 411.2L109.3 415.2L109.8 419.0L110.2 422.8L110.7 426.4L111.1 430.0L111.5 433.4L112.0 436.7L112.4 439.9L112.9 443.1L113.3 446.1L113.7 449.0L114.2 451.9L114.6 454.7L115.1 457.4L115.5 460.0L115.9 462.5L116.4 465.0L116.8 467.4L117.3 469.7L117.7 471.9L118.1 474.1L118.6 476.3L119.0 478.3L119.4 480.4L119.9 482.3L120.3 484.2L120.8 486.1L121.2 487.9L121.6 489.6L122.1 491.3L122.5 493.0L123.0 494.6L123.4 496.2L123.8 497.7L124.3 499.2L124.7 500.7L125.2 502.1L125.6 503.4L126.0 504.8L126.5 506.1L126.9 507.3L127.4 508.6L127.8 509.8L128.2 510.9L128.7 512.1L129.1 513.2L129.6 514.2L130.0 515.3L132.9 521.4L135.7 526.6L138.6 531.0L141.4 534.7L144.3 538.0L147.1 541.0L150.0 543.7L152.9 546.2L155.7 548.6L158.6 550.8L161.4 552.9L164.3 554.9L167.1 556.8L170.0 558.5L172.9 560.1L175.7 561.6L178.6 563.0L181.4 564.2L184.3 565.3L187.1 566.3L190.0 567.1L192.9 567.9L195.7 568.5L198.6 569.0L201.4 569.5L204.3 569.8L207.1 570.0L210.0 570.2L212.9 570.2L215.7 570.2L218.6 570.1L221.4 570.0L224.3 569.8L227.1 569.5L230.0 569.2L232.9 568.8L235.7 568.4L238.6 567.9L241.4 567.4L244.3 566.8L247.1 566.2L250.0 565.5L252.9 564.8L255.7 564.0L258.6 563.2L261.4 562.3L264.3 561.8L267.1 563.3L270.0 563.4L272.9 563.1L275.7 562.8L278.6 562.4L281.4 562.0L284.3 561.6L287.1 561.2L290.0 560.8L292.9 560.5L295.7 560.2L298.6 559.9L301.4 559.7L304.3 559.6L307.1 559.4L310.0 559.3L312.9 559.0L315.7 558.7L318.6 558.3L321.4 557.8L324.3 557.5L327.1 557.1L330.0 556.8L332.9 556.5L335.7 556.1L338.6 555.7L341.4 555.3L344.3 554.8L347.1 554.3L350.0 553.7L352.9 553.0L355.7 552.3L358.6 551.4L361.4 550.4L364.3 549.2L367.1 548.0L370.0 546.9L372.9 545.7L375.7 544.5L378.6 543.2L381.4 542.0L384.3 540.7L387.1 539.3L390.0 537.9L392.9 536.5L395.7 535.0L398.6 533.5L401.4 532.0L404.3 530.3L407.1 528.6L410.0 526.1L412.9 522.9L415.7 519.4L418.6 516.2L421.4 513.3L424.3 510.6L427.1 507.7L430.0 504.4L432.9 500.9L435.7 497.1L438.6 493.0L441.4 488.6L444.3 484.0L447.1 479.1L450.0 473.9L452.9 468.4L455.7 462.6L458.6 456.3L461.4 449.4L464.3 441.8L467.1 433.4L470.0 424.1L470.9 420.9L471.8 417.6L472.8 414.2L473.7 410.8L474.6 407.2L475.5 403.5L476.4 399.8L477.3 395.9L478.3 392.0L479.2 388.0L480.1 384.0L481.0 379.9L481.9 375.8L482.8 371.6L483.8 367.5L484.7 363.3L485.6 359.1L486.5 355.0L487.4 350.9L488.3 346.9L489.3 342.9L490.2 339.1L491.1 335.3L492.0 331.7L492.9 328.2L493.8 325.0L494.8 321.9L495.7 319.0L496.6 316.4L497.5 314.0L498.4 311.9L499.3 310.1L500.3 308.6L501.2 307.5L502.1 306.7L503.0 306.3L503.9 306.3L504.8 306.6L505.8 307.4L506.7 308.6L507.6 310.3L508.5 312.3L509.4 314.8L510.3 317.8L511.3 321.1L512.2 324.9L513.1 329.2L514.0 333.8L514.9 338.8L515.8 344.2L516.8 349.9L517.7 356.0L518.6 362.4L519.5 369.0L520.4 376.0L521.3 383.1L522.3 390.5L523.2 398.1L524.1 405.8L525.0 413.6L525.9 421.5L526.8 429.4L527.8 437.4L528.7 445.3L529.6 453.3L530.5 461.1L531.4 468.9L532.3 476.6L533.3 484.1L534.2 491.5L535.1 498.7L536.0 505.7L536.9 512.5L537.8 519.1L538.8 525.4L539.7 531.5L540.6 537.4L541.5 543.0L542.4 548.3L543.3 553.4L544.3 558.3L545.2 562.9L546.1 567.2L547.0 571.3L547.9 575.1L548.8 578.7L549.8 582.1L550.7 585.2L551.6 588.1L551.6 622.1Z" stroke="#F8766D"/>
<path d="M64.5 622.1L64.5 335.5L64.9 326.7L65.4 317.6L65.8 308.3L66.3 298.8L66.7 289.1L67.1 279.2L67.6 269.1L68.0 259.0L68.5 248.7L68.9 238.5L69.3 228.2L69.8 217.9L70.2 207.8L70.7 197.7L71.1 187.8L71.5 178.1L72.0 168.6L72.4 159.4L72.9 150.6L73.3 142.0L73.7 133.9L74.2 126.1L74.6 118.8L75.1 112.0L75.5 105.7L75.9 99.9L76.4 94.6L76.8 89.9L77.2 85.7L77.7 82.1L78.1 79.0L78.6 76.5L79.0 74.6L79.4 73.2L79.9 72.3L80.3 72.0L80.8 72.2L81.2 72.8L81.6 74.0L82.1 75.5L82.5 77.6L83.0 80.0L83.4 82.8L83.8 85.9L84.3 89.4L84.7 93.3L85.2 97.4L85.6 101.7L86.0 106.4L86.5 111.2L86.9 116.3L87.4 121.5L87.8 127.0L88.2 132.6L88.7 138.3L89.1 144.2L89.6 150.2L90.0 156.3L90.4 162.5L90.9 168.7L91.3 175.1L91.8 181.5L92.2 188.0L92.6 194.6L93.1 201.2L93.5 207.8L94.0 214.4L94.4 221.1L94.8 227.8L95.3 234.5L95.7 241.2L96.2 247.9L96.6 254.6L97.0 261.2L97.5 267.9L97.9 274.5L98.3 281.0L98.8 287.5L99.2 294.0L99.7 300.4L100.1 306.7L100.5 312.9L101.0 319.1L101.4 325.1L101.9 331.1L102.3 337.0L102.7 342.7L103.2 348.4L103.6 353.9L104.1 359.4L104.5 364.7L104.9 369.9L105.4 375.0L105.8 379.9L106.3 384.8L106.7 389.5L107.1 394.1L107.6 398.5L108.0 402.9L108.5 407.1L108.9 411.2L109.3 415.2L109.8 419.0L110.2 422.8L110.7 426.4L111.1 430.0L111.5 433.4L112.0 436.7L112.4 439.9L112.9 443.1L113.3 446.1L113.7 449.0L114.2 451.9L114.6 454.7L115.1 457.4L115.5 460.0L115.9 462.5L116.4 465.0L116.8 467.4L117.3 469.7L117.7 471.9L118.1 474.1L118.6 476.3L119.0 478.3L119.4 480.4L119.9 482.3L120.3 484.2L120.8 486.1L121.2 487.9L121.6 489.6L122.1 491.3L122.5 493.0L123.0 494.6L123.4 496.2L123.8 497.7L124.3 499.2L124.7 500.7L125.2 502.1L125.6 503.4L126.0 504.8L126.5 506.1L126.9 507.3L127.4 508.6L127.8 509.8L128.2 510.9L128.7 512.1L129.1 513.2L129.6 514.2L130.0 515.3L132.9 521.4L135.7 526.6L138.6 531.0L141.4 534.7L144.3 538.0L147.1 541.0L150.0 543.7L152.9 546.2L155.7 548.6L158.6 550.8L161.4 552.9L164.3 554.9L167.1 556.8L170.0 558.5L172.9 560.1L175.7 561.6L178.6 563.0L181.4 564.2L184.3 565.3L187.1 566.3L190.0 567.1L192.9 567.9L195.7 568.5L198.6 569.0L201.4 569.5L204.3 569.8L207.1 570.0L210.0 570.2L212.9 570.2L215.7 570.2L218.6 570.1L221.4 570.0L224.3 569.8L227.1 569.5L230.0 569.2L232.9 568.8L235.7 568.4L238.6 567.9L241.4 567.4L244.3 566.8L247.1 566.2L250.0 565.5L252.9 564.8L255.7 564.0L258.6 563.2L261.4 562.3L264.3 561.8L267.1 563.5L270.0 563.8L272.9 563.6L275.7 563.4L278.6 563.1L281.4 562.7L284.3 562.4L287.1 562.0L290.0 561.7L292.9 561.4L295.7 561.2L298.6 561.0L301.4 560.8L304.3 560.7L307.1 560.5L310.0 560.4L312.9 560.1L315.7 559.8L318.6 559.3L321.4 558.8L324.3 558.4L327.1 558.1L330.0 557.8L332.9 557.4L335.7 557.1L338.6 556.6L341.4 556.2L344.3 555.7L347.1 555.2L350.0 554.6L352.9 553.9L355.7 553.2L358.6 552.3L361.4 551.2L364.3 550.0L367.1 548.8L370.0 547.5L372.9 546.3L375.7 545.1L378.6 543.8L381.4 542.5L384.3 541.1L387.1 539.7L390.0 538.3L392.9 536.8L395.7 535.3L398.6 533.8L401.4 532.2L404.3 530.5L407.1 528.7L410.0 526.2L412.9 523.0L415.7 519.5L418.6 516.2L421.4 513.3L424.3 510.6L427.1 507.7L430.0 504.4L432.9 500.9L435.7 497.1L438.6 493.0L441.4 488.6L444.3 484.0L447.1 479.1L450.0 473.9L452.9 468.4L455.7 462.6L458.6 456.3L461.4 449.4L464.3 441.8L467.1 433.4L470.0 424.1L470.9 420.9L471.8 417.6L472.8 414.2L473.7 410.8L474.6 407.2L475.5 403.5L476.4 399.8L477.3 395.9L478.3 392.0L479.2 388.0L480.1 384.0L481.0 379.9L481.9 375.8L482.8 371.6L483.8 367.5L484.7 363.3L485.6 359.1L486.5 355.0L487.4 350.9L488.3 346.9L489.3 342.9L490.2 339.1L491.1 335.3L492.0 331.7L492.9 328.2L493.8 325.0L494.8 321.9L495.7 319.0L496.6 316.4L497.5 314.0L498.4 311.9L499.3 310.1L500.3 308.6L501.2 307.5L502.1 306.7L503.0 306.3L503.9 306.3L504.8 306.6L505.8 307.4L506.7 308.6L507.6 310.3L508.5 312.3L509.4 314.8L510.3 317.8L511.3 321.1L512.2 324.9L513.1 329.2L514.0 333.8L514.9 338.8L515.8 344.2L516.8 349.9L517.7 356.0L518.6 362.4L519.5 369.0L520.4 376.0L521.3 383.1L522.3 390.5L523.2 398.1L524.1 405.8L525.0 413.6L525.9 421.5L526.8 429.4L527.8 437.4L528.7 445.3L529.6 453.3L530.5 461.1L531.4 468.9L532.3 476.6L533.3 484.1L534.2 491.5L535.1 498.7L536.0 505.7L536.9 512.5L537.8 519.1L538.8 525.4L539.7 531.5L540.6 537.4L541.5 543.0L542.4 548.3L543.3 553.4L544.3 558.3L545.2 562.9L546.1 567.2L547.0 571.3L547.9 575.1L548.8 578.7L549.8 582.1L550.7 585.2L551.6 588.1L551.6 622.1Z" stroke="#F8766D"/>
<path d="M64.5 622.1L64.5 335.5L64.9 326.7L65.4 317.6L65.8 308.3L66.3 298.8L66.7 289.1L67.1 279.2L67.6 269.1L68.0 259.0L68.5 248.7L68.9 238.5L69.3 228.2L69.8 217.9L70.2 207.8L70.7 197.7L71.1 187.8L71.5 178.1L72.0 168.6L72.4 159.4L72.9 150.6L73.3 142.0L73.7 133.9L74.2 126.1L74.6 118.8L75.1 112.0L75.5 105.7L75.9 99.9L76.4 94.6L76.8 89.9L77.2 85.7L77.7 82.1L78.1 79.0L78.6 76.5L79.0 74.6L79.4 73.2L79.9 72.3L80.3 72.0L80.8 72.2L81.2 72.8L81.6 74.0L82.1 75.5L82.5 77.6L83.0 80.0L83.4 82.8L83.8 85.9L84.3 89.4L84.7 93.3L85.2 97.4L85.6 101.7L86.0 106.4L86.5 111.2L86.9 116.3L87.4 121.5L87.8 127.0L88.2 132.6L88.7 138.3L89.1 144.2L89.6 150.2L90.0 156.3L90.4 162.5L90.9 168.7L91.3 175.1L91.8 181.5L92.2 188.0L92.6 194.6L93.1 201.2L93.5 207.8L94.0 214.4L94.4 221.1L94.8 227.8L95.3 234.5L95.7 241.2L96.2 247.9L96.6 254.6L97.0 261.2L97.5 267.9L97.9 274.5L98.3 281.0L98.8 287.5L99.2 294.0L99.7 300.4L100.1 306.7L100.5 312.9L101.0 319.1L101.4 325.1L101.9 331.1L102.3 337.0L102.7 342.7L103.2 348.4L103.6 353.9L104.1 359.4L104.5 364.7L104.9 369.9L105.4 375.0L105.8 379.9L106.3 384.8L106.7 389.5L107.1 394.1L107.6 398.5L108.0 402.9L108.5 407.1L108.9 411.2L109.3 415.2L109.8 419.0L110.2 422.8L110.7 426.4L111.1 430.0L111.5 433.4L112.0 436.7L112.4 439.9L112.9 443.1L113.3 446.1L113.7 449.0L114.2 451.9L114.6 454.7L115.1 457.4L115.5 460.0L115.9 462.5L116.4 465.0L116.8 467.4L117.3 469.7L117.7 471.9L118.1 474.1L118.6 476.3L119.0 478.3L119.4 480.4L119.9 482.3L120.3 484.2L120.8 486.1L121.2 487.9L121.6 489.6L122.1 491.3L122.5 493.0L123.0 494.6L123.4 496.2L123.8 497.7L124.3 499.2L124.7 500.7L125.2 502.1L125.6 503.4L126.0 504.8L126.5 506.1L126.9 507.3L127.4 508.6L127.8 509.8L128.2 510.9L128.7 512.1L129.1 513.2L129.6 514.2L130.0 515.3L132.9 521.4L135.7 526.6L138.6 531.0L141.4 534.7L144.3 538.0L147.1 541.0L150.0 543.7L152.9 546.2L155.7 548.6L158.6 550.8L161.4 552.9L164.3 554.9L167.1 556.8L170.0 558.5L172.9 560.1L175.7 561.6L178.6 563.0L181.4 564.2L184.3 565.3L187.1 566.3L190.0 567.1L192.9 567.9L195.7 568.5L198.6 569.0L201.4 569.5L204.3 569.8L207.1 570.0L210.0 570.2L212.9 570.2L215.7 570.2L218.6 570.1L221.4 570.0L224.3 569.8L227.1 569.5L230.0 569.2L232.9 568.8L235.7 568.4L238.6 567.9L241.4 567.4L244.3 566.8L247.1 566.2L250.0 565.5L252.9 564.8L255.7 564.0L258.6 563.2L261.4 562.3L264.3 561.8L267.1 563.7L270.0 564.1L272.9 564.0L275.7 563.8L278.6 563.6L281.4 563.4L284.3 563.1L287.1 562.8L290.0 562.5L292.9 562.3L295.7 562.1L298.6 561.9L301.4 561.8L304.3 561.6L307.1 561.5L310.0 561.4L312.9 561.1L315.7 560.7L318.6 560.2L321.4 559.7L324.3 559.3L327.1 558.9L330.0 558.6L332.9 558.2L335.7 557.9L338.6 557.4L341.4 557.0L344.3 556.5L347.1 556.0L350.0 555.4L352.9 554.7L355.7 554.0L358.6 553.0L361.4 551.9L364.3 550.7L367.1 549.4L370.0 548.1L372.9 546.8L375.7 545.6L378.6 544.2L381.4 542.9L384.3 541.5L387.1 540.1L390.0 538.6L392.9 537.1L395.7 535.6L398.6 534.0L401.4 532.4L404.3 530.7L407.1 528.9L410.0 526.3L412.9 523.0L415.7 519.5L418.6 516.2L421.4 513.3L424.3 510.6L427.1 507.7L430.0 504.4L432.9 500.9L435.7 497.1L438.6 493.0L441.4 488.6L444.3 484.0L447.1 479.1L450.0 473.9L452.9 468.4L455.7 462.6L458.6 456.3L461.4 449.4L464.3 441.8L467.1 433.4L470.0 424.1L470.9 420.9L471.8 417.6L472.8 414.2L473.7 410.8L474.6 407.2L475.5 403.5L476.4 399.8L477.3 395.9L478.3 392.0L479.2 388.0L480.1 384.0L481.0 379.9L481.9 375.8L482.8 371.6L483.8 367.5L484.7 363.3L485.6 359.1L486.5 355.0L487.4 350.9L488.3 346.9L489.3 342.9L490.2 339.1L491.1 335.3L492.0 331.7L492.9 328.2L493.8 325.0L494.8 321.9L495.7 319.0L496.6 316.4L497.5 314.0L498.4 311.9L499.3 310.1L500.3 308.6L501.2 307.5L502.1 306.7L503.0 306.3L503.9 306.3L504.8 306.6L505.8 307.4L506.7 308.6L507.6 310.3L508.5 312.3L509.4 314.8L510.3 317.8L511.3 321.1L512.2 324.9L513.1 329.2L514.0 333.8L514.9 338.8L515.8 344.2L516.8 349.9L517.7 356.0L518.6 362.4L519.5 369.0L520.4 376.0L521.3 383.1L522.3 390.5L523.2 398.1L524.1 405.8L525.0 413.6L525.9 421.5L526.8 429.4L527.8 437.4L528.7 445.3L529.6 453.3L530.5 461.1L531.4 468.9L532.3 476.6L533.3 484.1L534.2 491.5L535.1 498.7L536.0 505.7L536.9 512.5L537.8 519.1L538.8 525.4L539.7 531.5L540.6 537.4L541.5 543.0L542.4 548.3L543.3 553.4L544.3 558.3L545.2 562.9L546.1 567.2L547.0 571.3L547.9 575.1L548.8 578.7L549.8 582.1L550.7 585.2L551.6 588.1L551.6 622.1Z" stroke="#F8766D"/>
<path d="M64.5 622.1L64.5 335.5L64.9 326.7L65.4 317.6L65.8 308.3L66.3 298.8L66.7 289.1L67.1 279.2L67.6 269.1L68.0 259.0L68.5 248.7L68.9 238.5L69.3 228.2L69.8 217.9L70.2 207.8L70.7 197.7L71.1 187.8L71.5 178.1L72.0 168.6L72.4 159.4L72.9 150.6L73.3 142.0L73.7 133.9L74.2 126.1L74.6 118.8L75.1 112.0L75.5 105.7L75.9 99.9L76.4 94.6L76.8 89.9L77.2 85.7L77.7 82.1L78.1 79.0L78.6 76.5L79.0 74.6L79.4 73.2L79.9 72.3L80.3 72.0L80.8 72.2L81.2 72.8L81.6 74.0L82.1 75.5L82.5 77.6L83.0 80.0L83.4 82.8L83.8 85.9L84.3 89.4L84.7 93.3L85.2 97.4L85.6 101.7L86.0 106.4L86.5 111.2L86.9 116.3L87.4 121.5L87.8 127.0L88.2 132.6L88.7 138.3L89.1 144.2L89.6 150.2L90.0 156.3L90.4 162.5L90.9 168.7L91.3 175.1L91.8 181.5L92.2 188.0L92.6 194.6L93.1 201.2L93.5 207.8L94.0 214.4L94.4 221.1L94.8 227.8L95.3 234.5L95.7 241.2L96.2 247.9L96.6 254.6L97.0 261.2L97.5 267.9L97.9 274.5L98.3 281.0L98.8 287.5L99.2 294.0L99.7 300.4L100.1 306.7L100.5 312.9L101.0 319.1L101.4 325.1L101.9 331.1L102.3 337.0L102.7 342.7L103.2 348.4L103.6 353.9L104.1 359.4L104.5 364.7L104.9 369.9L105.4 375.0L105.8 379.9L106.3 384.8L106.7 389.5L107.1 394.1L107.6 398.5L108.0 402.9L108.5 407.1L108.9 411.2L109.3 415.2L109.8 419.0L110.2 422.8L110.7 426.4L111.1 430.0L111.5 433.4L112.0 436.7L112.4 439.9L112.9 443.1L113.3 446.1L113.7 449.0L114.2 451.9L114.6 454.7L115.1 457.4L115.5 460.0L115.9 462.5L116.4 465.0L116.8 467.4L117.3 469.7L117.7 471.9L118.1 474.1L118.6 476.3L119.0 478.3L119.4 480.4L119.9 482.3L120.3 484.2L120.8 486.1L121.2 487.9L121.6 489.6L122.1 491.3L122.5 493.0L123.0 494.6L123.4 496.2L123.8 497.7L124.3 499.2L124.7 500.7L125.2 502.1L125.6 503.4L126.0 504.8L126.5 506.1L126.9 507.3L127.4 508.6L127.8 509.8L128.2 510.9L128.7 512.1L129.1 513.2L129.6 514.2L130.0 515.3L132.9 521.4L135.7 526.6L138.6 531.0L141.4 534.7L144.3 538.0L147.1 541.0L150.0 543.7L152.9 546.2L155.7 548.6L158.6 550.8L161.4 552.9L164.3 554.9L167.1 556.8L170.0 558.5L172.9 560.1L175.7 561.6L178.6 563.0L181.4 564.2L184.3 565.3L187.1 566.3L190.0 567.1L192.9 567.9L195.7 568.5L198.6 569.0L201.4 569.5L204.3 569.8L207.1 570.0L210.0 570.2L212.9 570.2L215.7 570.2L218.6 570.1L221.4 570.0L224.3 569.8L227.1 569.5L230.0 569.2L232.9 568.8L235.7 568.4L238.6 567.9L241.4 567.4L244.3 566.8L247.1 566.2L250.0 565.5L252.9 564.8L255.7 564.0L258.6 563.2L261.4 562.3L264.3 561.9L267.1 564.3L270.0 565.3L272.9 565.6L275.7 565.9L278.6 566.0L281.4 566.0L284.3 566.0L287.1 565.9L290.0 565.9L292.9 565.8L295.7 565.8L298.6 565.7L301.4 565.7L304.3 565.6L307.1 565.5L310.0 565.4L312.9 565.1L315.7 564.6L318.6 563.9L321.4 563.3L324.3 562.8L327.1 562.3L330.0 562.0L332.9 561.6L335.7 561.2L338.6 560.8L341.4 560.3L344.3 559.8L347.1 559.3L350.0 558.7L352.9 558.0L355.7 557.2L358.6 556.1L361.4 554.9L364.3 553.4L367.1 551.9L370.0 550.5L372.9 549.1L375.7 547.7L378.6 546.2L381.4 544.7L384.3 543.2L387.1 541.6L390.0 540.0L392.9 538.4L395.7 536.7L398.6 535.0L401.4 533.2L404.3 531.4L407.1 529.4L410.0 526.8L412.9 523.4L415.7 519.7L418.6 516.3L421.4 513.3L424.3 510.6L427.1 507.7L430.0 504.4L432.9 500.9L435.7 497.1L438.6 493.0L441.4 488.6L444.3 484.0L447.1 479.1L450.0 473.9L452.9 468.4L455.7 462.6L458.6 456.3L461.4 449.4L464.3 441.8L467.1 433.4L470.0 424.1L470.9 420.9L471.8 417.6L472.8 414.2L473.7 410.8L474.6 407.2L475.5 403.5L476.4 399.8L477.3 395.9L478.3 392.0L479.2 388.0L480.1 384.0L481.0 379.9L481.9 375.8L482.8 371.6L483.8 367.5L484.7 363.3L485.6 359.1L486.5 355.0L487.4 350.9L488.3 346.9L489.3 342.9L490.2 339.1L491.1 335.3L492.0 331.7L492.9 328.2L493.8 325.0L494.8 321.9L495.7 319.0L496.6 316.4L497.5 314.0L498.4 311.9L499.3 310.1L500.3 308.6L501.2 307.5L502.1 306.7L503.0 306.3L503.9 306.3L504.8 306.6L505.8 307.4L506.7 308.6L507.6 310.3L508.5 312.3L509.4 314.8L510.3 317.8L511.3 321.1L512.2 324.9L513.1 329.2L514.0 333.8L514.9 338.8L515.8 344.2L516.8 349.9L517.7 356.0L518.6 362.4L519.5 369.0L520.4 376.0L521.3 383.1L522.3 390.5L523.2 398.1L524.1 405.8L525.0 413.6L525.9 421.5L526.8 429.4L527.8 437.4L528.7 445.3L529.6 453.3L530.5 461.1L531.4 468.9L532.3 476.6L533.3 484.1L534.2 491.5L535.1 498.7L536.0 505.7L536.9 512.5L537.8 519.1L538.8 525.4L539.7 531.5L540.6 537.4L541.5 543.0L542.4 548.3L543.3 553.4L544.3 558.3L545.2 562.9L546.1 567.2L547.0 571.3L547.9 575.1L548.8 578.7L549.8 582.1L550.7 585.2L551.6 588.1L551.6 622.1Z" stroke="#F8766D"/>
<path d="M64.5 622.1L64.5 347.2L64.9 338.8L65.4 330.1L65.8 321.1L66.3 311.8L66.7 302.3L67.1 292.5L67.6 282.5L68.0 272.4L68.5 262.1L68.9 251.7L69.3 241.3L69.8 230.9L70.2 220.6L70.7 210.3L71.1 200.2L71.5 190.2L72.0 180.4L72.4 171.0L72.9 161.8L73.3 153.0L73.7 144.6L74.2 136.6L74.6 129.1L75.1 122.1L75.5 115.6L75.9 109.6L76.4 104.2L76.8 99.4L77.2 95.1L77.7 91.5L78.1 88.4L78.6 85.9L79.0 84.0L79.4 82.7L79.9 81.9L80.3 81.7L80.8 82.0L81.2 82.8L81.6 84.1L82.1 85.8L82.5 88.0L83.0 90.6L83.4 93.5L83.8 96.8L84.3 100.5L84.7 104.4L85.2 108.6L85.6 113.1L86.0 117.7L86.5 122.6L86.9 127.7L87.4 133.0L87.8 138.4L88.2 144.0L88.7 149.7L89.1 155.5L89.6 161.4L90.0 167.4L90.4 173.5L90.9 179.6L91.3 185.8L91.8 192.1L92.2 198.5L92.6 204.9L93.1 211.3L93.5 217.8L94.0 224.3L94.4 230.8L94.8 237.3L95.3 243.9L95.7 250.5L96.2 257.1L96.6 263.6L97.0 270.2L97.5 276.7L97.9 283.3L98.3 289.8L98.8 296.2L99.2 302.6L99.7 309.0L100.1 315.2L100.5 321.5L101.0 327.6L101.4 333.7L101.9 339.6L102.3 345.5L102.7 351.3L103.2 357.0L103.6 362.6L104.1 368.0L104.5 373.3L104.9 378.6L105.4 383.7L105.8 388.6L106.3 393.5L106.7 398.2L107.1 402.8L107.6 407.3L108.0 411.6L108.5 415.8L108.9 419.9L109.3 423.9L109.8 427.8L110.2 431.5L110.7 435.1L111.1 438.6L111.5 442.0L112.0 445.3L112.4 448.4L112.9 451.5L113.3 454.5L113.7 457.4L114.2 460.1L114.6 462.8L115.1 465.4L115.5 468.0L115.9 470.4L116.4 472.8L116.8 475.1L117.3 477.3L117.7 479.5L118.1 481.5L118.6 483.6L119.0 485.5L119.4 487.4L119.9 489.3L120.3 491.1L120.8 492.8L121.2 494.5L121.6 496.2L122.1 497.7L122.5 499.3L123.0 500.8L123.4 502.3L123.8 503.7L124.3 505.1L124.7 506.4L125.2 507.7L125.6 509.0L126.0 510.2L126.5 511.5L126.9 512.6L127.4 513.8L127.8 514.9L128.2 516.0L128.7 517.0L129.1 518.0L129.6 519.0L130.0 520.0L132.9 525.7L135.7 530.6L138.6 534.7L141.4 538.3L144.3 541.5L147.1 544.4L150.0 547.0L152.9 549.4L155.7 551.6L158.6 553.7L161.4 555.6L164.3 557.5L167.1 559.2L170.0 560.8L172.9 562.3L175.7 563.7L178.6 565.0L181.4 566.1L184.3 567.2L187.1 568.1L190.0 569.0L192.9 569.7L195.7 570.4L198.6 570.9L201.4 571.3L204.3 571.7L207.1 571.9L210.0 572.1L212.9 572.2L215.7 572.2L218.6 572.1L221.4 572.0L224.3 571.8L227.1 571.5L230.0 571.2L232.9 570.8L235.7 570.3L238.6 569.8L241.4 569.3L244.3 568.7L247.1 568.0L250.0 567.3L252.9 566.6L255.7 565.8L258.6 564.9L261.4 564.0L264.3 563.0L267.1 562.0L270.0 561.0L272.9 560.0L275.7 558.9L278.6 557.9L281.4 556.9L284.3 556.0L287.1 555.1L290.0 554.3L292.9 553.6L295.7 553.1L298.6 552.6L301.4 552.2L304.3 551.9L307.1 551.6L310.0 551.4L312.9 551.3L315.7 551.2L318.6 551.0L321.4 550.9L324.3 550.7L327.1 550.5L330.0 550.3L332.9 550.0L335.7 549.7L338.6 549.3L341.4 548.9L344.3 548.4L347.1 547.9L350.0 547.3L352.9 546.7L355.7 546.1L358.6 545.4L361.4 544.7L364.3 543.9L367.1 543.1L370.0 542.2L372.9 541.3L375.7 540.4L378.6 539.5L381.4 538.5L384.3 537.4L387.1 536.4L390.0 535.3L392.9 534.1L395.7 532.9L398.6 531.7L401.4 530.4L404.3 529.0L407.1 527.5L410.0 525.9L412.9 524.2L415.7 522.3L418.6 520.2L421.4 517.9L424.3 515.4L427.1 512.7L430.0 509.7L432.9 506.5L435.7 503.0L438.6 499.2L441.4 495.1L444.3 490.8L447.1 486.2L450.0 481.2L452.9 475.9L455.7 470.2L458.6 463.9L461.4 457.1L464.3 449.5L467.1 441.0L470.0 431.6L470.9 428.3L471.8 425.0L472.8 421.5L473.7 417.9L474.6 414.2L475.5 410.5L476.4 406.6L477.3 402.6L478.3 398.5L479.2 394.4L480.1 390.2L481.0 385.9L481.9 381.6L482.8 377.2L483.8 372.9L484.7 368.5L485.6 364.2L486.5 359.8L487.4 355.6L488.3 351.4L489.3 347.3L490.2 343.4L491.1 339.5L492.0 335.9L492.9 332.5L493.8 329.2L494.8 326.3L495.7 323.5L496.6 321.1L497.5 319.0L498.4 317.2L499.3 315.8L500.3 314.8L501.2 314.1L502.1 313.9L503.0 314.0L503.9 314.6L504.8 315.6L505.8 317.1L506.7 319.0L507.6 321.3L508.5 324.1L509.4 327.3L510.3 331.0L511.3 335.0L512.2 339.5L513.1 344.3L514.0 349.5L514.9 355.0L515.8 360.9L516.8 367.0L517.7 373.5L518.6 380.2L519.5 387.1L520.4 394.2L521.3 401.5L522.3 408.9L523.2 416.4L524.1 423.9L525.0 431.6L525.9 439.2L526.8 446.9L527.8 454.5L528.7 462.0L529.6 469.5L530.5 476.8L531.4 484.1L532.3 491.2L533.3 498.1L534.2 504.8L535.1 511.4L536.0 517.7L536.9 523.8L537.8 529.8L538.8 535.4L539.7 540.9L540.6 546.1L541.5 551.1L542.4 555.8L543.3 560.3L544.3 564.5L545.2 568.5L546.1 572.3L547.0 575.9L547.9 579.2L548.8 582.4L549.8 585.3L550.7 588.0L551.6 590.6L551.6 622.1Z" stroke="#00BFC4"/>
<path d="M64.5 622.1L64.5 344.6L64.9 336.2L65.4 327.4L65.8 318.3L66.3 309.0L66.7 299.4L67.1 289.6L67.6 279.6L68.0 269.5L68.5 259.2L68.9 248.9L69.3 238.5L69.8 228.1L70.2 217.8L70.7 207.6L71.1 197.5L71.5 187.6L72.0 177.9L72.4 168.5L72.9 159.4L73.3 150.7L73.7 142.3L74.2 134.4L74.6 126.9L75.1 120.0L75.5 113.5L75.9 107.6L76.4 102.2L76.8 97.4L77.2 93.2L77.7 89.5L78.1 86.5L78.6 84.0L79.0 82.1L79.4 80.7L79.9 80.0L80.3 79.7L80.8 80.0L81.2 80.8L81.6 82.0L82.1 83.7L82.5 85.8L83.0 88.4L83.4 91.3L83.8 94.5L84.3 98.1L84.7 102.0L85.2 106.2L85.6 110.7L86.0 115.3L86.5 120.2L86.9 125.3L87.4 130.6L87.8 136.0L88.2 141.5L88.7 147.2L89.1 153.0L89.6 159.0L90.0 165.0L90.4 171.1L90.9 177.3L91.3 183.5L91.8 189.8L92.2 196.2L92.6 202.6L93.1 209.1L93.5 215.6L94.0 222.1L94.4 228.7L94.8 235.3L95.3 241.9L95.7 248.5L96.2 255.1L96.6 261.7L97.0 268.2L97.5 274.8L97.9 281.4L98.3 287.9L98.8 294.3L99.2 300.7L99.7 307.1L100.1 313.4L100.5 319.6L101.0 325.7L101.4 331.8L101.9 337.8L102.3 343.7L102.7 349.4L103.2 355.1L103.6 360.7L104.1 366.1L104.5 371.5L104.9 376.7L105.4 381.8L105.8 386.7L106.3 391.6L106.7 396.3L107.1 400.9L107.6 405.4L108.0 409.7L108.5 413.9L108.9 418.0L109.3 422.0L109.8 425.9L110.2 429.6L110.7 433.2L111.1 436.7L111.5 440.1L112.0 443.4L112.4 446.6L112.9 449.7L113.3 452.7L113.7 455.6L114.2 458.4L114.6 461.1L115.1 463.7L115.5 466.2L115.9 468.7L116.4 471.1L116.8 473.4L117.3 475.6L117.7 477.8L118.1 479.9L118.6 482.0L119.0 484.0L119.4 485.9L119.9 487.8L120.3 489.6L120.8 491.4L121.2 493.1L121.6 494.7L122.1 496.4L122.5 497.9L123.0 499.5L123.4 500.9L123.8 502.4L124.3 503.8L124.7 505.2L125.2 506.5L125.6 507.8L126.0 509.1L126.5 510.3L126.9 511.5L127.4 512.6L127.8 513.8L128.2 514.9L128.7 515.9L129.1 517.0L129.6 518.0L130.0 519.0L132.9 524.8L135.7 529.7L138.6 533.9L141.4 537.6L144.3 540.8L147.1 543.6L150.0 546.3L152.9 548.7L155.7 550.9L158.6 553.1L161.4 555.0L164.3 556.9L167.1 558.7L170.0 560.3L172.9 561.8L175.7 563.2L178.6 564.5L181.4 565.7L184.3 566.8L187.1 567.7L190.0 568.6L192.9 569.3L195.7 570.0L198.6 570.5L201.4 570.9L204.3 571.3L207.1 571.5L210.0 571.7L212.9 571.8L215.7 571.8L218.6 571.7L221.4 571.6L224.3 571.4L227.1 571.1L230.0 570.8L232.9 570.4L235.7 569.9L238.6 569.4L241.4 568.9L244.3 568.3L247.1 567.6L250.0 566.9L252.9 566.2L255.7 565.4L258.6 564.5L261.4 563.6L264.3 562.7L267.1 561.7L270.0 560.7L272.9 559.7L275.7 558.6L278.6 557.6L281.4 556.7L284.3 555.7L287.1 554.9L290.0 554.1L292.9 553.4L295.7 552.8L298.6 552.2L301.4 551.8L304.3 551.5L307.1 551.2L310.0 551.0L312.9 550.8L315.7 550.7L318.6 550.5L321.4 550.4L324.3 550.2L327.1 550.0L330.0 549.7L332.9 549.4L335.7 549.1L338.6 548.7L341.4 548.3L344.3 547.8L347.1 547.3L350.0 546.8L352.9 546.2L355.7 545.5L358.6 544.8L361.4 544.1L364.3 543.4L367.1 542.5L370.0 541.7L372.9 540.8L375.7 539.8L378.6 538.9L381.4 537.8L384.3 536.8L387.1 535.7L390.0 534.6L392.9 533.4L395.7 532.2L398.6 530.9L401.4 529.6L404.3 528.2L407.1 526.7L410.0 525.0L412.9 523.3L415.7 521.3L418.6 519.2L421.4 516.9L424.3 514.4L427.1 511.6L430.0 508.6L432.9 505.3L435.7 501.7L438.6 497.8L441.4 493.7L444.3 489.3L447.1 484.6L450.0 479.6L452.9 474.3L455.7 468.5L458.6 462.3L461.4 455.4L464.3 447.8L467.1 439.4L470.0 430.0L470.9 426.7L471.8 423.4L472.8 419.9L473.7 416.4L474.6 412.7L475.5 409.0L476.4 405.1L477.3 401.2L478.3 397.1L479.2 393.0L480.1 388.8L481.0 384.6L481.9 380.3L482.8 376.0L483.8 371.7L484.7 367.4L485.6 363.1L486.5 358.8L487.4 354.6L488.3 350.4L489.3 346.4L490.2 342.4L491.1 338.7L492.0 335.0L492.9 331.6L493.8 328.4L494.8 325.4L495.7 322.6L496.6 320.2L497.5 318.0L498.4 316.2L499.3 314.7L500.3 313.6L501.2 312.9L502.1 312.5L503.0 312.6L503.9 313.0L504.8 313.9L505.8 315.2L506.7 317.0L507.6 319.2L508.5 321.8L509.4 324.9L510.3 328.4L511.3 332.2L512.2 336.5L513.1 341.2L514.0 346.3L514.9 351.7L515.8 357.5L516.8 363.5L517.7 369.9L518.6 376.5L519.5 383.3L520.4 390.4L521.3 397.6L522.3 405.0L523.2 412.5L524.1 420.1L525.0 427.7L525.9 435.4L526.8 443.1L527.8 450.8L528.7 458.4L529.6 466.0L530.5 473.4L531.4 480.8L532.3 488.0L533.3 495.0L534.2 501.9L535.1 508.6L536.0 515.1L536.9 521.4L537.8 527.4L538.8 533.3L539.7 538.8L540.6 544.2L541.5 549.3L542.4 554.2L543.3 558.8L544.3 563.2L545.2 567.3L546.1 571.2L547.0 574.9L547.9 578.3L548.8 581.6L549.8 584.6L550.7 587.4L551.6 590.0L551.6 622.1Z" stroke="#00BFC4"/>
<path d="M64.5 622.1L64.5 342.1L64.9 333.5L65.4 324.7L65.8 315.5L66.3 306.1L66.7 296.5L67.1 286.7L67.6 276.7L68.0 266.5L68.5 256.3L68.9 246.0L69.3 235.6L69.8 225.3L70.2 215.0L70.7 204.8L71.1 194.8L71.5 185.0L72.0 175.3L72.4 166.0L72.9 157.0L73.3 148.3L73.7 140.0L74.2 132.1L74.6 124.7L75.1 117.8L75.5 111.4L75.9 105.5L76.4 100.2L76.8 95.4L77.2 91.2L77.7 87.6L78.1 84.5L78.6 82.0L79.0 80.1L79.4 78.8L79.9 78.0L80.3 77.7L80.8 78.0L81.2 78.7L81.6 79.9L82.1 81.6L82.5 83.7L83.0 86.2L83.4 89.0L83.8 92.3L84.3 95.8L84.7 99.7L85.2 103.9L85.6 108.3L86.0 112.9L86.5 117.8L86.9 122.9L87.4 128.1L87.8 133.5L88.2 139.1L88.7 144.8L89.1 150.6L89.6 156.5L90.0 162.6L90.4 168.7L90.9 174.9L91.3 181.2L91.8 187.5L92.2 193.9L92.6 200.4L93.1 206.9L93.5 213.4L94.0 220.0L94.4 226.6L94.8 233.2L95.3 239.8L95.7 246.4L96.2 253.1L96.6 259.7L97.0 266.3L97.5 272.9L97.9 279.4L98.3 286.0L98.8 292.4L99.2 298.8L99.7 305.2L100.1 311.5L100.5 317.7L101.0 323.9L101.4 329.9L101.9 335.9L102.3 341.8L102.7 347.6L103.2 353.2L103.6 358.8L104.1 364.3L104.5 369.6L104.9 374.8L105.4 379.9L105.8 384.9L106.3 389.7L106.7 394.4L107.1 399.0L107.6 403.5L108.0 407.8L108.5 412.0L108.9 416.1L109.3 420.1L109.8 424.0L110.2 427.7L110.7 431.3L111.1 434.8L111.5 438.2L112.0 441.5L112.4 444.7L112.9 447.8L113.3 450.8L113.7 453.7L114.2 456.6L114.6 459.3L115.1 461.9L115.5 464.5L115.9 467.0L116.4 469.4L116.8 471.7L117.3 474.0L117.7 476.2L118.1 478.3L118.6 480.4L119.0 482.4L119.4 484.4L119.9 486.3L120.3 488.1L120.8 489.9L121.2 491.6L121.6 493.3L122.1 495.0L122.5 496.6L123.0 498.1L123.4 499.6L123.8 501.1L124.3 502.5L124.7 503.9L125.2 505.3L125.6 506.6L126.0 507.9L126.5 509.1L126.9 510.3L127.4 511.5L127.8 512.7L128.2 513.8L128.7 514.9L129.1 515.9L129.6 517.0L130.0 518.0L132.9 523.9L135.7 528.8L138.6 533.1L141.4 536.8L144.3 540.0L147.1 542.9L150.0 545.5L152.9 548.0L155.7 550.3L158.6 552.4L161.4 554.4L164.3 556.3L167.1 558.1L170.0 559.8L172.9 561.4L175.7 562.8L178.6 564.1L181.4 565.3L184.3 566.4L187.1 567.3L190.0 568.2L192.9 568.9L195.7 569.6L198.6 570.1L201.4 570.5L204.3 570.9L207.1 571.1L210.0 571.3L212.9 571.3L215.7 571.3L218.6 571.3L221.4 571.1L224.3 570.9L227.1 570.7L230.0 570.3L232.9 569.9L235.7 569.5L238.6 569.0L241.4 568.5L244.3 567.9L247.1 567.2L250.0 566.5L252.9 565.8L255.7 565.0L258.6 564.1L261.4 563.2L264.3 562.3L267.1 561.3L270.0 560.4L272.9 559.4L275.7 558.4L278.6 557.4L281.4 556.4L284.3 555.5L287.1 554.6L290.0 553.8L292.9 553.1L295.7 552.5L298.6 551.9L301.4 551.5L304.3 551.1L307.1 550.8L310.0 550.6L312.9 550.4L315.7 550.2L318.6 550.0L321.4 549.8L324.3 549.6L327.1 549.4L330.0 549.1L332.9 548.8L335.7 548.5L338.6 548.1L341.4 547.7L344.3 547.2L347.1 546.7L350.0 546.2L352.9 545.6L355.7 545.0L358.6 544.3L361.4 543.6L364.3 542.8L367.1 542.0L370.0 541.1L372.9 540.2L375.7 539.3L378.6 538.2L381.4 537.2L384.3 536.1L387.1 535.0L390.0 533.8L392.9 532.7L395.7 531.4L398.6 530.1L401.4 528.8L404.3 527.3L407.1 525.8L410.0 524.1L412.9 522.4L415.7 520.4L418.6 518.3L421.4 515.9L424.3 513.3L427.1 510.5L430.0 507.4L432.9 504.0L435.7 500.4L438.6 496.5L441.4 492.3L444.3 487.8L447.1 483.1L450.0 478.0L452.9 472.7L455.7 466.9L458.6 460.6L461.4 453.7L464.3 446.2L467.1 437.7L470.0 428.3L470.9 425.1L471.8 421.8L472.8 418.3L473.7 414.8L474.6 411.2L475.5 407.4L476.4 403.6L477.3 399.7L478.3 395.7L479.2 391.6L480.1 387.5L481.0 383.3L481.9 379.1L482.8 374.8L483.8 370.5L484.7 366.3L485.6 362.0L486.5 357.8L487.4 353.6L488.3 349.5L489.3 345.4L490.2 341.5L491.1 337.8L492.0 334.2L492.9 330.7L493.8 327.5L494.8 324.5L495.7 321.7L496.6 319.2L497.5 317.0L498.4 315.2L499.3 313.6L500.3 312.4L501.2 311.6L502.1 311.1L503.0 311.1L503.9 311.4L504.8 312.2L505.8 313.4L506.7 315.0L507.6 317.0L508.5 319.5L509.4 322.4L510.3 325.7L511.3 329.5L512.2 333.6L513.1 338.2L514.0 343.1L514.9 348.4L515.8 354.0L516.8 360.0L517.7 366.2L518.6 372.7L519.5 379.5L520.4 386.5L521.3 393.7L522.3 401.1L523.2 408.6L524.1 416.2L525.0 423.9L525.9 431.6L526.8 439.4L527.8 447.1L528.7 454.8L529.6 462.5L530.5 470.0L531.4 477.5L532.3 484.8L533.3 492.0L534.2 499.0L535.1 505.9L536.0 512.5L536.9 518.9L537.8 525.1L538.8 531.1L539.7 536.8L540.6 542.3L541.5 547.5L542.4 552.5L543.3 557.3L544.3 561.8L545.2 566.1L546.1 570.1L547.0 573.9L547.9 577.4L548.8 580.8L549.8 583.9L550.7 586.8L551.6 589.5L551.6 622.1Z" stroke="#00BFC4"/>
<path d="M64.5 622.1L64.5 339.5L64.9 330.9L65.4 322.0L65.8 312.8L66.3 303.3L66.7 293.7L67.1 283.8L67.6 273.8L68.0 263.6L68.5 253.4L68.9 243.1L69.3 232.8L69.8 222.5L70.2 212.2L70.7 202.1L71.1 192.1L71.5 182.4L72.0 172.8L72.4 163.5L72.9 154.5L73.3 145.9L73.7 137.7L74.2 129.9L74.6 122.5L75.1 115.7L75.5 109.3L75.9 103.5L76.4 98.2L76.8 93.4L77.2 89.2L77.7 85.6L78.1 82.6L78.6 80.1L79.0 78.2L79.4 76.8L79.9 76.0L80.3 75.7L80.8 75.9L81.2 76.6L81.6 77.8L82.1 79.4L82.5 81.5L83.0 84.0L83.4 86.8L83.8 90.0L84.3 93.5L84.7 97.4L85.2 101.5L85.6 105.9L86.0 110.5L86.5 115.4L86.9 120.4L87.4 125.6L87.8 131.1L88.2 136.6L88.7 142.3L89.1 148.2L89.6 154.1L90.0 160.2L90.4 166.3L90.9 172.6L91.3 178.9L91.8 185.2L92.2 191.7L92.6 198.2L93.1 204.7L93.5 211.3L94.0 217.9L94.4 224.5L94.8 231.1L95.3 237.8L95.7 244.4L96.2 251.1L96.6 257.7L97.0 264.4L97.5 271.0L97.9 277.5L98.3 284.1L98.8 290.5L99.2 297.0L99.7 303.3L100.1 309.6L100.5 315.9L101.0 322.0L101.4 328.1L101.9 334.1L102.3 339.9L102.7 345.7L103.2 351.4L103.6 356.9L104.1 362.4L104.5 367.7L104.9 372.9L105.4 378.0L105.8 383.0L106.3 387.8L106.7 392.5L107.1 397.1L107.6 401.6L108.0 405.9L108.5 410.1L108.9 414.2L109.3 418.2L109.8 422.1L110.2 425.8L110.7 429.4L111.1 433.0L111.5 436.4L112.0 439.7L112.4 442.9L112.9 446.0L113.3 449.0L113.7 451.9L114.2 454.8L114.6 457.5L115.1 460.2L115.5 462.8L115.9 465.3L116.4 467.7L116.8 470.0L117.3 472.3L117.7 474.6L118.1 476.7L118.6 478.8L119.0 480.8L119.4 482.8L119.9 484.7L120.3 486.6L120.8 488.4L121.2 490.2L121.6 491.9L122.1 493.6L122.5 495.2L123.0 496.8L123.4 498.3L123.8 499.8L124.3 501.2L124.7 502.7L125.2 504.0L125.6 505.4L126.0 506.7L126.5 507.9L126.9 509.2L127.4 510.4L127.8 511.5L128.2 512.7L128.7 513.8L129.1 514.9L129.6 515.9L130.0 516.9L132.9 522.9L135.7 528.0L138.6 532.3L141.4 536.0L144.3 539.2L147.1 542.2L150.0 544.8L152.9 547.3L155.7 549.6L158.6 551.8L161.4 553.9L164.3 555.8L167.1 557.6L170.0 559.3L172.9 560.9L175.7 562.3L178.6 563.7L181.4 564.9L184.3 566.0L187.1 566.9L190.0 567.8L192.9 568.5L195.7 569.2L198.6 569.7L201.4 570.1L204.3 570.4L207.1 570.7L210.0 570.8L212.9 570.9L215.7 570.9L218.6 570.8L221.4 570.7L224.3 570.5L227.1 570.2L230.0 569.9L232.9 569.5L235.7 569.1L238.6 568.6L241.4 568.1L244.3 567.5L247.1 566.8L250.0 566.1L252.9 565.4L255.7 564.6L258.6 563.8L261.4 562.9L264.3 561.9L267.1 561.0L270.0 560.0L272.9 559.0L275.7 558.1L278.6 557.1L281.4 556.2L284.3 555.2L287.1 554.4L290.0 553.6L292.9 552.8L295.7 552.2L298.6 551.6L301.4 551.1L304.3 550.7L307.1 550.4L310.0 550.1L312.9 549.9L315.7 549.7L318.6 549.5L321.4 549.2L324.3 549.0L327.1 548.8L330.0 548.5L332.9 548.2L335.7 547.9L338.6 547.5L341.4 547.1L344.3 546.6L347.1 546.1L350.0 545.6L352.9 545.0L355.7 544.4L358.6 543.8L361.4 543.1L364.3 542.3L367.1 541.5L370.0 540.6L372.9 539.7L375.7 538.7L378.6 537.6L381.4 536.6L384.3 535.5L387.1 534.3L390.0 533.1L392.9 531.9L395.7 530.7L398.6 529.4L401.4 528.0L404.3 526.5L407.1 524.9L410.0 523.3L412.9 521.4L415.7 519.5L418.6 517.3L421.4 514.9L424.3 512.3L427.1 509.4L430.0 506.3L432.9 502.8L435.7 499.1L438.6 495.1L441.4 490.9L444.3 486.3L447.1 481.5L450.0 476.5L452.9 471.0L455.7 465.2L458.6 459.0L461.4 452.1L464.3 444.5L467.1 436.1L470.0 426.7L470.9 423.5L471.8 420.2L472.8 416.8L473.7 413.2L474.6 409.6L475.5 405.9L476.4 402.1L477.3 398.2L478.3 394.3L479.2 390.2L480.1 386.2L481.0 382.0L481.9 377.8L482.8 373.6L483.8 369.4L484.7 365.1L485.6 360.9L486.5 356.7L487.4 352.6L488.3 348.5L489.3 344.5L490.2 340.6L491.1 336.9L492.0 333.3L492.9 329.9L493.8 326.6L494.8 323.6L495.7 320.8L496.6 318.3L497.5 316.1L498.4 314.1L499.3 312.5L500.3 311.2L501.2 310.3L502.1 309.7L503.0 309.6L503.9 309.8L504.8 310.5L505.8 311.5L506.7 313.0L507.6 314.9L508.5 317.2L509.4 320.0L510.3 323.1L511.3 326.7L512.2 330.7L513.1 335.1L514.0 339.9L514.9 345.1L515.8 350.6L516.8 356.4L517.7 362.6L518.6 369.0L519.5 375.7L520.4 382.7L521.3 389.8L522.3 397.2L523.2 404.7L524.1 412.3L525.0 420.0L525.9 427.8L526.8 435.6L527.8 443.4L528.7 451.2L529.6 459.0L530.5 466.6L531.4 474.2L532.3 481.7L533.3 489.0L534.2 496.1L535.1 503.1L536.0 509.9L536.9 516.4L537.8 522.8L538.8 528.9L539.7 534.8L540.6 540.4L541.5 545.8L542.4 550.9L543.3 555.8L544.3 560.4L545.2 564.8L546.1 569.0L547.0 572.9L547.9 576.5L548.8 580.0L549.8 583.2L550.7 586.2L551.6 589.0L551.6 622.1Z" stroke="#00BFC4"/>
<path d="M64.5 622.1L64.5 337.0L64.9 328.3L65.4 319.2L65.8 310.0L66.3 300.5L66.7 290.8L67.1 280.9L67.6 270.9L68.0 260.7L68.5 250.5L68.9 240.2L69.3 229.9L69.8 219.7L70.2 209.5L70.7 199.4L71.1 189.5L71.5 179.7L72.0 170.2L72.4 161.0L72.9 152.1L73.3 143.6L73.7 135.4L74.2 127.7L74.6 120.4L75.1 113.5L75.5 107.2L75.9 101.4L76.4 96.1L76.8 91.4L77.2 87.3L77.7 83.7L78.1 80.6L78.6 78.2L79.0 76.2L79.4 74.9L79.9 74.0L80.3 73.7L80.8 73.9L81.2 74.6L81.6 75.7L82.1 77.3L82.5 79.3L83.0 81.8L83.4 84.6L83.8 87.7L84.3 91.2L84.7 95.0L85.2 99.1L85.6 103.5L86.0 108.1L86.5 112.9L86.9 118.0L87.4 123.2L87.8 128.6L88.2 134.2L88.7 139.9L89.1 145.7L89.6 151.7L90.0 157.8L90.4 163.9L90.9 170.2L91.3 176.5L91.8 182.9L92.2 189.4L92.6 195.9L93.1 202.5L93.5 209.1L94.0 215.7L94.4 222.4L94.8 229.0L95.3 235.7L95.7 242.4L96.2 249.1L96.6 255.8L97.0 262.4L97.5 269.0L97.9 275.6L98.3 282.2L98.8 288.7L99.2 295.1L99.7 301.5L100.1 307.8L100.5 314.0L101.0 320.2L101.4 326.2L101.9 332.2L102.3 338.1L102.7 343.9L103.2 349.5L103.6 355.1L104.1 360.5L104.5 365.8L104.9 371.0L105.4 376.1L105.8 381.1L106.3 385.9L106.7 390.6L107.1 395.2L107.6 399.7L108.0 404.0L108.5 408.2L108.9 412.3L109.3 416.3L109.8 420.2L110.2 423.9L110.7 427.6L111.1 431.1L111.5 434.5L112.0 437.8L112.4 441.0L112.9 444.2L113.3 447.2L113.7 450.1L114.2 453.0L114.6 455.7L115.1 458.4L115.5 461.0L115.9 463.5L116.4 466.0L116.8 468.4L117.3 470.7L117.7 472.9L118.1 475.1L118.6 477.2L119.0 479.3L119.4 481.3L119.9 483.2L120.3 485.1L120.8 487.0L121.2 488.7L121.6 490.5L122.1 492.2L122.5 493.8L123.0 495.4L123.4 497.0L123.8 498.5L124.3 500.0L124.7 501.4L125.2 502.8L125.6 504.2L126.0 505.5L126.5 506.8L126.9 508.0L127.4 509.2L127.8 510.4L128.2 511.6L128.7 512.7L129.1 513.8L129.6 514.9L130.0 515.9L132.9 522.0L135.7 527.1L138.6 531.5L141.4 535.2L144.3 538.5L147.1 541.4L150.0 544.1L152.9 546.6L155.7 549.0L158.6 551.2L161.4 553.3L164.3 555.2L167.1 557.1L170.0 558.8L172.9 560.4L175.7 561.9L178.6 563.2L181.4 564.4L184.3 565.5L187.1 566.5L190.0 567.4L192.9 568.1L195.7 568.8L198.6 569.3L201.4 569.7L204.3 570.0L207.1 570.3L210.0 570.4L212.9 570.5L215.7 570.5L218.6 570.4L221.4 570.3L224.3 570.1L227.1 569.8L230.0 569.5L232.9 569.1L235.7 568.7L238.6 568.2L241.4 567.6L244.3 567.1L247.1 566.4L250.0 565.7L252.9 565.0L255.7 564.2L258.6 563.4L261.4 562.5L264.3 561.6L267.1 560.6L270.0 559.7L272.9 558.7L275.7 557.8L278.6 556.8L281.4 555.9L284.3 555.0L287.1 554.1L290.0 553.3L292.9 552.6L295.7 551.9L298.6 551.3L301.4 550.8L304.3 550.3L307.1 550.0L310.0 549.7L312.9 549.4L315.7 549.2L318.6 548.9L321.4 548.7L324.3 548.4L327.1 548.2L330.0 547.9L332.9 547.6L335.7 547.2L338.6 546.9L341.4 546.5L344.3 546.0L347.1 545.5L350.0 545.0L352.9 544.5L355.7 543.9L358.6 543.2L361.4 542.5L364.3 541.8L367.1 540.9L370.0 540.0L372.9 539.1L375.7 538.1L378.6 537.0L381.4 535.9L384.3 534.8L387.1 533.6L390.0 532.4L392.9 531.2L395.7 529.9L398.6 528.6L401.4 527.2L404.3 525.7L407.1 524.1L410.0 522.4L412.9 520.5L415.7 518.5L418.6 516.3L421.4 513.9L424.3 511.2L427.1 508.3L430.0 505.1L432.9 501.6L435.7 497.9L438.6 493.8L441.4 489.5L444.3 484.9L447.1 480.0L450.0 474.9L452.9 469.4L455.7 463.6L458.6 457.3L461.4 450.4L464.3 442.8L467.1 434.4L470.0 425.1L470.9 421.9L471.8 418.6L472.8 415.2L473.7 411.7L474.6 408.1L475.5 404.4L476.4 400.6L477.3 396.8L478.3 392.9L479.2 388.9L480.1 384.8L481.0 380.7L481.9 376.6L482.8 372.4L483.8 368.2L484.7 364.0L485.6 359.8L486.5 355.7L487.4 351.6L488.3 347.5L489.3 343.6L490.2 339.7L491.1 336.0L492.0 332.4L492.9 329.0L493.8 325.7L494.8 322.7L495.7 319.9L496.6 317.4L497.5 315.1L498.4 313.1L499.3 311.4L500.3 310.0L501.2 309.0L502.1 308.4L503.0 308.1L503.9 308.2L504.8 308.7L505.8 309.6L506.7 311.0L507.6 312.7L508.5 314.9L509.4 317.5L510.3 320.5L511.3 324.0L512.2 327.8L513.1 332.1L514.0 336.7L514.9 341.8L515.8 347.2L516.8 352.9L517.7 358.9L518.6 365.3L519.5 372.0L520.4 378.8L521.3 386.0L522.3 393.3L523.2 400.8L524.1 408.4L525.0 416.2L525.9 424.0L526.8 431.9L527.8 439.7L528.7 447.6L529.6 455.5L530.5 463.2L531.4 470.9L532.3 478.5L533.3 486.0L534.2 493.2L535.1 500.3L536.0 507.3L536.9 514.0L537.8 520.5L538.8 526.7L539.7 532.7L540.6 538.5L541.5 544.0L542.4 549.3L543.3 554.3L544.3 559.1L545.2 563.6L546.1 567.9L547.0 571.9L547.9 575.6L548.8 579.2L549.8 582.5L550.7 585.6L551.6 588.4L551.6 622.1Z" stroke="#00BFC4"/>
<path d="M64.5 622.1L64.5 334.5L64.9 325.6L65.4 316.5L65.8 307.2L66.3 297.7L66.7 287.9L67.1 278.0L67.6 268.0L68.0 257.8L68.5 247.6L68.9 237.3L69.3 227.1L69.8 216.8L70.2 206.7L70.7 196.7L71.1 186.8L71.5 177.1L72.0 167.7L72.4 158.5L72.9 149.7L73.3 141.2L73.7 133.1L74.2 125.4L74.6 118.2L75.1 111.4L75.5 105.1L75.9 99.4L76.4 94.1L76.8 89.4L77.2 85.3L77.7 81.7L78.1 78.7L78.6 76.2L79.0 74.3L79.4 72.9L79.9 72.0L80.3 71.7L80.8 71.9L81.2 72.5L81.6 73.6L82.1 75.2L82.5 77.2L83.0 79.6L83.4 82.3L83.8 85.4L84.3 88.9L84.7 92.7L85.2 96.7L85.6 101.1L86.0 105.7L86.5 110.5L86.9 115.5L87.4 120.7L87.8 126.2L88.2 131.7L88.7 137.4L89.1 143.3L89.6 149.3L90.0 155.4L90.4 161.6L90.9 167.8L91.3 174.2L91.8 180.6L92.2 187.1L92.6 193.7L93.1 200.3L93.5 206.9L94.0 213.6L94.4 220.3L94.8 227.0L95.3 233.7L95.7 240.4L96.2 247.1L96.6 253.8L97.0 260.5L97.5 267.1L97.9 273.7L98.3 280.3L98.8 286.8L99.2 293.2L99.7 299.6L100.1 305.9L100.5 312.2L101.0 318.3L101.4 324.4L101.9 330.4L102.3 336.2L102.7 342.0L103.2 347.6L103.6 353.2L104.1 358.6L104.5 363.9L104.9 369.1L105.4 374.2L105.8 379.2L106.3 384.0L106.7 388.7L107.1 393.3L107.6 397.8L108.0 402.1L108.5 406.3L108.9 410.4L109.3 414.4L109.8 418.3L110.2 422.0L110.7 425.7L111.1 429.2L111.5 432.6L112.0 436.0L112.4 439.2L112.9 442.3L113.3 445.4L113.7 448.3L114.2 451.2L114.6 454.0L115.1 456.7L115.5 459.3L115.9 461.8L116.4 464.3L116.8 466.7L117.3 469.0L117.7 471.3L118.1 473.5L118.6 475.6L119.0 477.7L119.4 479.7L119.9 481.7L120.3 483.6L120.8 485.5L121.2 487.3L121.6 489.1L122.1 490.8L122.5 492.4L123.0 494.1L123.4 495.7L123.8 497.2L124.3 498.7L124.7 500.1L125.2 501.6L125.6 502.9L126.0 504.3L126.5 505.6L126.9 506.9L127.4 508.1L127.8 509.3L128.2 510.5L128.7 511.6L129.1 512.7L129.6 513.8L130.0 514.9L132.9 521.1L135.7 526.2L138.6 530.6L141.4 534.4L144.3 537.7L147.1 540.7L150.0 543.4L152.9 545.9L155.7 548.3L158.6 550.5L161.4 552.7L164.3 554.7L167.1 556.5L170.0 558.3L172.9 559.9L175.7 561.4L178.6 562.8L181.4 564.0L184.3 565.1L187.1 566.1L190.0 567.0L192.9 567.7L195.7 568.3L198.6 568.9L201.4 569.3L204.3 569.6L207.1 569.8L210.0 570.0L212.9 570.1L215.7 570.1L218.6 570.0L221.4 569.8L224.3 569.6L227.1 569.4L230.0 569.0L232.9 568.7L235.7 568.2L238.6 567.8L241.4 567.2L244.3 566.7L247.1 566.0L250.0 565.4L252.9 564.6L255.7 563.8L258.6 563.0L261.4 562.1L264.3 561.2L267.1 560.3L270.0 559.4L272.9 558.4L275.7 557.5L278.6 556.6L281.4 555.7L284.3 554.8L287.1 553.9L290.0 553.1L292.9 552.3L295.7 551.6L298.6 551.0L301.4 550.4L304.3 550.0L307.1 549.6L310.0 549.2L312.9 548.9L315.7 548.7L318.6 548.4L321.4 548.1L324.3 547.9L327.1 547.6L330.0 547.3L332.9 547.0L335.7 546.6L338.6 546.3L341.4 545.9L344.3 545.4L347.1 545.0L350.0 544.4L352.9 543.9L355.7 543.3L358.6 542.7L361.4 542.0L364.3 541.2L367.1 540.4L370.0 539.5L372.9 538.5L375.7 537.5L378.6 536.4L381.4 535.3L384.3 534.1L387.1 532.9L390.0 531.7L392.9 530.5L395.7 529.2L398.6 527.8L401.4 526.4L404.3 524.8L407.1 523.2L410.0 521.5L412.9 519.6L415.7 517.6L418.6 515.4L421.4 512.9L424.3 510.2L427.1 507.2L430.0 504.0L432.9 500.4L435.7 496.6L438.6 492.5L441.4 488.1L444.3 483.4L447.1 478.5L450.0 473.3L452.9 467.8L455.7 461.9L458.6 455.6L461.4 448.7L464.3 441.2L467.1 432.8L470.0 423.5L470.9 420.3L471.8 417.0L472.8 413.6L473.7 410.1L474.6 406.6L475.5 402.9L476.4 399.2L477.3 395.3L478.3 391.4L479.2 387.5L480.1 383.5L481.0 379.4L481.9 375.3L482.8 371.2L483.8 367.0L484.7 362.9L485.6 358.7L486.5 354.6L487.4 350.6L488.3 346.6L489.3 342.6L490.2 338.8L491.1 335.1L492.0 331.5L492.9 328.1L493.8 324.9L494.8 321.8L495.7 319.0L496.6 316.4L497.5 314.1L498.4 312.0L499.3 310.3L500.3 308.8L501.2 307.7L502.1 307.0L503.0 306.6L503.9 306.6L504.8 307.0L505.8 307.8L506.7 309.0L507.6 310.6L508.5 312.6L509.4 315.1L510.3 317.9L511.3 321.2L512.2 324.9L513.1 329.0L514.0 333.6L514.9 338.5L515.8 343.7L516.8 349.3L517.7 355.3L518.6 361.6L519.5 368.2L520.4 375.0L521.3 382.1L522.3 389.4L523.2 396.9L524.1 404.5L525.0 412.3L525.9 420.2L526.8 428.1L527.8 436.1L528.7 444.0L529.6 452.0L530.5 459.8L531.4 467.7L532.3 475.4L533.3 482.9L534.2 490.3L535.1 497.6L536.0 504.6L536.9 511.5L537.8 518.1L538.8 524.5L539.7 530.7L540.6 536.6L541.5 542.3L542.4 547.7L543.3 552.8L544.3 557.7L545.2 562.4L546.1 566.7L547.0 570.9L547.9 574.7L548.8 578.4L549.8 581.8L550.7 584.9L551.6 587.9L551.6 622.1Z" stroke="#00BFC4"/>
<path d="M64.5 622.1L64.5 331.9L64.9 323.0L65.4 313.8L65.8 304.4L66.3 294.8L66.7 285.0L67.1 275.1L67.6 265.1L68.0 254.9L68.5 244.7L68.9 234.5L69.3 224.2L69.8 214.0L70.2 203.9L70.7 193.9L71.1 184.1L71.5 174.5L72.0 165.1L72.4 156.1L72.9 147.3L73.3 138.8L73.7 130.8L74.2 123.2L74.6 116.0L75.1 109.3L75.5 103.0L75.9 97.3L76.4 92.1L76.8 87.4L77.2 83.3L77.7 79.8L78.1 76.7L78.6 74.3L79.0 72.3L79.4 70.9L79.9 70.1L80.3 69.7L80.8 69.8L81.2 70.5L81.6 71.5L82.1 73.1L82.5 75.0L83.0 77.4L83.4 80.1L83.8 83.2L84.3 86.6L84.7 90.3L85.2 94.4L85.6 98.7L86.0 103.3L86.5 108.1L86.9 113.1L87.4 118.3L87.8 123.7L88.2 129.3L88.7 135.0L89.1 140.9L89.6 146.9L90.0 153.0L90.4 159.2L90.9 165.5L91.3 171.9L91.8 178.3L92.2 184.9L92.6 191.5L93.1 198.1L93.5 204.7L94.0 211.4L94.4 218.2L94.8 224.9L95.3 231.6L95.7 238.4L96.2 245.1L96.6 251.8L97.0 258.5L97.5 265.2L97.9 271.8L98.3 278.4L98.8 284.9L99.2 291.3L99.7 297.7L100.1 304.1L100.5 310.3L101.0 316.5L101.4 322.5L101.9 328.5L102.3 334.4L102.7 340.1L103.2 345.8L103.6 351.3L104.1 356.8L104.5 362.1L104.9 367.3L105.4 372.3L105.8 377.3L106.3 382.1L106.7 386.8L107.1 391.4L107.6 395.8L108.0 400.2L108.5 404.4L108.9 408.5L109.3 412.5L109.8 416.4L110.2 420.1L110.7 423.8L111.1 427.3L111.5 430.8L112.0 434.1L112.4 437.3L112.9 440.5L113.3 443.5L113.7 446.5L114.2 449.4L114.6 452.2L115.1 454.9L115.5 457.5L115.9 460.1L116.4 462.6L116.8 465.0L117.3 467.4L117.7 469.7L118.1 471.9L118.6 474.0L119.0 476.2L119.4 478.2L119.9 480.2L120.3 482.1L120.8 484.0L121.2 485.9L121.6 487.6L122.1 489.4L122.5 491.1L123.0 492.7L123.4 494.3L123.8 495.9L124.3 497.4L124.7 498.9L125.2 500.3L125.6 501.7L126.0 503.1L126.5 504.4L126.9 505.7L127.4 507.0L127.8 508.2L128.2 509.4L128.7 510.6L129.1 511.7L129.6 512.8L130.0 513.9L132.9 520.1L135.7 525.4L138.6 529.8L141.4 533.6L144.3 537.0L147.1 540.0L150.0 542.7L152.9 545.2L155.7 547.6L158.6 549.9L161.4 552.1L164.3 554.1L167.1 556.0L170.0 557.8L172.9 559.4L175.7 561.0L178.6 562.4L181.4 563.6L184.3 564.7L187.1 565.7L190.0 566.6L192.9 567.3L195.7 567.9L198.6 568.5L201.4 568.9L204.3 569.2L207.1 569.4L210.0 569.6L212.9 569.6L215.7 569.6L218.6 569.5L221.4 569.4L224.3 569.2L227.1 568.9L230.0 568.6L232.9 568.2L235.7 567.8L238.6 567.3L241.4 566.8L244.3 566.3L247.1 565.6L250.0 565.0L252.9 564.2L255.7 563.5L258.6 562.6L261.4 561.8L264.3 560.9L267.1 559.9L270.0 559.0L272.9 558.1L275.7 557.2L278.6 556.3L281.4 555.4L284.3 554.5L287.1 553.6L290.0 552.8L292.9 552.0L295.7 551.3L298.6 550.6L301.4 550.1L304.3 549.6L307.1 549.2L310.0 548.8L312.9 548.5L315.7 548.1L318.6 547.9L321.4 547.6L324.3 547.3L327.1 547.0L330.0 546.7L332.9 546.4L335.7 546.0L338.6 545.7L341.4 545.3L344.3 544.8L347.1 544.4L350.0 543.9L352.9 543.3L355.7 542.8L358.6 542.1L361.4 541.5L364.3 540.7L367.1 539.9L370.0 539.0L372.9 538.0L375.7 536.9L378.6 535.8L381.4 534.7L384.3 533.5L387.1 532.3L390.0 531.0L392.9 529.7L395.7 528.4L398.6 527.0L401.4 525.6L404.3 524.0L407.1 522.4L410.0 520.6L412.9 518.7L415.7 516.7L418.6 514.4L421.4 511.9L424.3 509.2L427.1 506.1L430.0 502.8L432.9 499.2L435.7 495.3L438.6 491.1L441.4 486.6L444.3 481.9L447.1 476.9L450.0 471.7L452.9 466.2L455.7 460.3L458.6 454.0L461.4 447.1L464.3 439.5L467.1 431.1L470.0 421.8L470.9 418.7L471.8 415.4L472.8 412.0L473.7 408.6L474.6 405.0L475.5 401.4L476.4 397.7L477.3 393.9L478.3 390.0L479.2 386.1L480.1 382.1L481.0 378.1L481.9 374.0L482.8 369.9L483.8 365.8L484.7 361.7L485.6 357.7L486.5 353.6L487.4 349.6L488.3 345.6L489.3 341.7L490.2 337.9L491.1 334.2L492.0 330.7L492.9 327.2L493.8 324.0L494.8 320.9L495.7 318.1L496.6 315.5L497.5 313.1L498.4 311.0L499.3 309.2L500.3 307.7L501.2 306.5L502.1 305.6L503.0 305.1L503.9 305.0L504.8 305.3L505.8 305.9L506.7 307.0L507.6 308.4L508.5 310.3L509.4 312.6L510.3 315.3L511.3 318.5L512.2 322.0L513.1 326.0L514.0 330.4L514.9 335.1L515.8 340.3L516.8 345.8L517.7 351.7L518.6 357.9L519.5 364.4L520.4 371.2L521.3 378.2L522.3 385.5L523.2 393.0L524.1 400.7L525.0 408.4L525.9 416.4L526.8 424.3L527.8 432.4L528.7 440.4L529.6 448.5L530.5 456.4L531.4 464.4L532.3 472.2L533.3 479.9L534.2 487.4L535.1 494.8L536.0 502.0L536.9 509.0L537.8 515.8L538.8 522.4L539.7 528.7L540.6 534.7L541.5 540.5L542.4 546.1L543.3 551.4L544.3 556.4L545.2 561.1L546.1 565.6L547.0 569.9L547.9 573.8L548.8 577.6L549.8 581.1L550.7 584.3L551.6 587.4L551.6 622.1Z" stroke="#00BFC4"/>
<path d="M64.5 622.1L64.5 329.4L64.9 320.3L65.4 311.1L65.8 301.6L66.3 292.0L66.7 282.2L67.1 272.2L67.6 262.1L68.0 252.0L68.5 241.8L68.9 231.6L69.3 221.4L69.8 211.2L70.2 201.2L70.7 191.2L71.1 181.5L71.5 171.9L72.0 162.6L72.4 153.6L72.9 144.8L73.3 136.5L73.7 128.5L74.2 120.9L74.6 113.8L75.1 107.1L75.5 100.9L75.9 95.3L76.4 90.1L76.8 85.5L77.2 81.4L77.7 77.8L78.1 74.8L78.6 72.3L79.0 70.4L79.4 69.0L79.9 68.1L80.3 67.7L80.8 67.8L81.2 68.4L81.6 69.4L82.1 70.9L82.5 72.8L83.0 75.2L83.4 77.8L83.8 80.9L84.3 84.3L84.7 88.0L85.2 92.0L85.6 96.3L86.0 100.8L86.5 105.6L86.9 110.6L87.4 115.8L87.8 121.2L88.2 126.8L88.7 132.6L89.1 138.4L89.6 144.4L90.0 150.6L90.4 156.8L90.9 163.1L91.3 169.6L91.8 176.1L92.2 182.6L92.6 189.2L93.1 195.9L93.5 202.6L94.0 209.3L94.4 216.1L94.8 222.8L95.3 229.6L95.7 236.4L96.2 243.1L96.6 249.9L97.0 256.6L97.5 263.2L97.9 269.9L98.3 276.5L98.8 283.0L99.2 289.5L99.7 295.9L100.1 302.2L100.5 308.4L101.0 314.6L101.4 320.7L101.9 326.6L102.3 332.5L102.7 338.3L103.2 343.9L103.6 349.5L104.1 354.9L104.5 360.2L104.9 365.4L105.4 370.4L105.8 375.4L106.3 380.2L106.7 384.9L107.1 389.5L107.6 393.9L108.0 398.3L108.5 402.5L108.9 406.6L109.3 410.6L109.8 414.5L110.2 418.2L110.7 421.9L111.1 425.4L111.5 428.9L112.0 432.2L112.4 435.5L112.9 438.7L113.3 441.7L113.7 444.7L114.2 447.6L114.6 450.4L115.1 453.1L115.5 455.8L115.9 458.4L116.4 460.9L116.8 463.3L117.3 465.7L117.7 468.0L118.1 470.3L118.6 472.5L119.0 474.6L119.4 476.7L119.9 478.7L120.3 480.6L120.8 482.5L121.2 484.4L121.6 486.2L122.1 488.0L122.5 489.7L123.0 491.4L123.4 493.0L123.8 494.6L124.3 496.1L124.7 497.6L125.2 499.1L125.6 500.5L126.0 501.9L126.5 503.3L126.9 504.6L127.4 505.9L127.8 507.1L128.2 508.3L128.7 509.5L129.1 510.6L129.6 511.7L130.0 512.8L132.9 519.2L135.7 524.5L138.6 529.0L141.4 532.8L144.3 536.2L147.1 539.2L150.0 542.0L152.9 544.6L155.7 547.0L158.6 549.3L161.4 551.5L164.3 553.5L167.1 555.5L170.0 557.3L172.9 559.0L175.7 560.5L178.6 561.9L181.4 563.2L184.3 564.3L187.1 565.3L190.0 566.2L192.9 566.9L195.7 567.5L198.6 568.1L201.4 568.5L204.3 568.8L207.1 569.0L210.0 569.1L212.9 569.2L215.7 569.2L218.6 569.1L221.4 569.0L224.3 568.8L227.1 568.5L230.0 568.2L232.9 567.8L235.7 567.4L238.6 566.9L241.4 566.4L244.3 565.9L247.1 565.2L250.0 564.6L252.9 563.9L255.7 563.1L258.6 562.3L261.4 561.4L264.3 560.5L267.1 559.6L270.0 558.7L272.9 557.8L275.7 556.9L278.6 556.0L281.4 555.1L284.3 554.3L287.1 553.4L290.0 552.6L292.9 551.7L295.7 551.0L298.6 550.3L301.4 549.7L304.3 549.2L307.1 548.8L310.0 548.3L312.9 548.0L315.7 547.6L318.6 547.3L321.4 547.0L324.3 546.7L327.1 546.4L330.0 546.1L332.9 545.8L335.7 545.4L338.6 545.1L341.4 544.7L344.3 544.2L347.1 543.8L350.0 543.3L352.9 542.8L355.7 542.2L358.6 541.6L361.4 540.9L364.3 540.2L367.1 539.3L370.0 538.4L372.9 537.4L375.7 536.4L378.6 535.2L381.4 534.0L384.3 532.8L387.1 531.6L390.0 530.3L392.9 529.0L395.7 527.6L398.6 526.2L401.4 524.7L404.3 523.2L407.1 521.5L410.0 519.7L412.9 517.8L415.7 515.7L418.6 513.4L421.4 510.9L424.3 508.1L427.1 505.0L430.0 501.7L432.9 498.0L435.7 494.0L438.6 489.8L441.4 485.2L444.3 480.4L447.1 475.4L450.0 470.1L452.9 464.5L455.7 458.6L458.6 452.3L461.4 445.4L464.3 437.8L467.1 429.5L470.0 420.2L470.9 417.0L471.8 413.8L472.8 410.4L473.7 407.0L474.6 403.5L475.5 399.9L476.4 396.2L477.3 392.4L478.3 388.6L479.2 384.7L480.1 380.8L481.0 376.8L481.9 372.8L482.8 368.7L483.8 364.7L484.7 360.6L485.6 356.6L486.5 352.5L487.4 348.6L488.3 344.6L489.3 340.8L490.2 337.0L491.1 333.3L492.0 329.8L492.9 326.4L493.8 323.1L494.8 320.1L495.7 317.2L496.6 314.5L497.5 312.1L498.4 310.0L499.3 308.1L500.3 306.5L501.2 305.2L502.1 304.2L503.0 303.6L503.9 303.4L504.8 303.5L505.8 304.0L506.7 305.0L507.6 306.3L508.5 308.0L509.4 310.2L510.3 312.7L511.3 315.7L512.2 319.1L513.1 322.9L514.0 327.2L514.9 331.8L515.8 336.9L516.8 342.3L517.7 348.0L518.6 354.2L519.5 360.6L520.4 367.3L521.3 374.4L522.3 381.6L523.2 389.1L524.1 396.8L525.0 404.6L525.9 412.5L526.8 420.6L527.8 428.7L528.7 436.8L529.6 445.0L530.5 453.1L531.4 461.1L532.3 469.0L533.3 476.9L534.2 484.5L535.1 492.1L536.0 499.4L536.9 506.6L537.8 513.5L538.8 520.2L539.7 526.6L540.6 532.8L541.5 538.8L542.4 544.5L543.3 549.9L544.3 555.0L545.2 559.9L546.1 564.5L547.0 568.9L547.9 572.9L548.8 576.8L549.8 580.4L550.7 583.7L551.6 586.8L551.6 622.1Z" stroke="#00BFC4"/>
<path d="M64.5 622.1L64.5 326.8L64.9 317.7L65.4 308.4L65.8 298.9L66.3 289.2L66.7 279.3L67.1 269.3L67.6 259.2L68.0 249.1L68.5 238.9L68.9 228.7L69.3 218.5L69.8 208.4L70.2 198.4L70.7 188.5L71.1 178.8L71.5 169.3L72.0 160.0L72.4 151.1L72.9 142.4L73.3 134.1L73.7 126.2L74.2 118.7L74.6 111.6L75.1 105.0L75.5 98.8L75.9 93.2L76.4 88.1L76.8 83.5L77.2 79.4L77.7 75.8L78.1 72.8L78.6 70.4L79.0 68.4L79.4 67.0L79.9 66.1L80.3 65.7L80.8 65.8L81.2 66.3L81.6 67.4L82.1 68.8L82.5 70.7L83.0 73.0L83.4 75.6L83.8 78.6L84.3 82.0L84.7 85.7L85.2 89.6L85.6 93.9L86.0 98.4L86.5 103.2L86.9 108.2L87.4 113.4L87.8 118.8L88.2 124.4L88.7 130.1L89.1 136.0L89.6 142.0L90.0 148.2L90.4 154.4L90.9 160.8L91.3 167.2L91.8 173.8L92.2 180.3L92.6 187.0L93.1 193.7L93.5 200.4L94.0 207.2L94.4 214.0L94.8 220.7L95.3 227.5L95.7 234.3L96.2 241.1L96.6 247.9L97.0 254.6L97.5 261.3L97.9 268.0L98.3 274.6L98.8 281.1L99.2 287.6L99.7 294.0L100.1 300.3L100.5 306.6L101.0 312.7L101.4 318.8L101.9 324.8L102.3 330.6L102.7 336.4L103.2 342.0L103.6 347.6L104.1 353.0L104.5 358.3L104.9 363.5L105.4 368.5L105.8 373.5L106.3 378.3L106.7 383.0L107.1 387.6L107.6 392.0L108.0 396.4L108.5 400.6L108.9 404.7L109.3 408.7L109.8 412.6L110.2 416.3L110.7 420.0L111.1 423.6L111.5 427.0L112.0 430.4L112.4 433.6L112.9 436.8L113.3 439.9L113.7 442.9L114.2 445.8L114.6 448.6L115.1 451.4L115.5 454.1L115.9 456.7L116.4 459.2L116.8 461.7L117.3 464.1L117.7 466.4L118.1 468.7L118.6 470.9L119.0 473.0L119.4 475.1L119.9 477.2L120.3 479.1L120.8 481.1L121.2 483.0L121.6 484.8L122.1 486.6L122.5 488.3L123.0 490.0L123.4 491.7L123.8 493.3L124.3 494.9L124.7 496.4L125.2 497.9L125.6 499.3L126.0 500.7L126.5 502.1L126.9 503.4L127.4 504.7L127.8 506.0L128.2 507.2L128.7 508.4L129.1 509.6L129.6 510.7L130.0 511.8L132.9 518.2L135.7 523.6L138.6 528.2L141.4 532.0L144.3 535.4L147.1 538.5L150.0 541.3L152.9 543.9L155.7 546.3L158.6 548.7L161.4 550.9L164.3 553.0L167.1 554.9L170.0 556.8L172.9 558.5L175.7 560.1L178.6 561.5L181.4 562.8L184.3 563.9L187.1 564.9L190.0 565.8L192.9 566.5L195.7 567.1L198.6 567.7L201.4 568.1L204.3 568.4L207.1 568.6L210.0 568.7L212.9 568.8L215.7 568.8L218.6 568.7L221.4 568.5L224.3 568.3L227.1 568.1L230.0 567.8L232.9 567.4L235.7 567.0L238.6 566.5L241.4 566.0L244.3 565.4L247.1 564.8L250.0 564.2L252.9 563.5L255.7 562.7L258.6 561.9L261.4 561.0L264.3 560.1L267.1 559.3L270.0 558.4L272.9 557.5L275.7 556.6L278.6 555.8L281.4 554.9L284.3 554.0L287.1 553.2L290.0 552.3L292.9 551.5L295.7 550.7L298.6 550.0L301.4 549.4L304.3 548.8L307.1 548.3L310.0 547.9L312.9 547.5L315.7 547.1L318.6 546.8L321.4 546.5L324.3 546.2L327.1 545.8L330.0 545.5L332.9 545.2L335.7 544.8L338.6 544.4L341.4 544.1L344.3 543.6L347.1 543.2L350.0 542.7L352.9 542.2L355.7 541.7L358.6 541.1L361.4 540.4L364.3 539.7L367.1 538.8L370.0 537.9L372.9 536.9L375.7 535.8L378.6 534.6L381.4 533.4L384.3 532.2L387.1 530.9L390.0 529.6L392.9 528.3L395.7 526.9L398.6 525.5L401.4 523.9L404.3 522.4L407.1 520.7L410.0 518.9L412.9 516.9L415.7 514.8L418.6 512.5L421.4 509.9L424.3 507.1L427.1 503.9L430.0 500.5L432.9 496.8L435.7 492.8L438.6 488.4L441.4 483.8L444.3 479.0L447.1 473.9L450.0 468.5L452.9 462.9L455.7 457.0L458.6 450.6L461.4 443.7L464.3 436.2L467.1 427.8L470.0 418.6L470.9 415.4L471.8 412.2L472.8 408.9L473.7 405.5L474.6 401.9L475.5 398.4L476.4 394.7L477.3 391.0L478.3 387.2L479.2 383.3L480.1 379.4L481.0 375.5L481.9 371.5L482.8 367.5L483.8 363.5L484.7 359.5L485.6 355.5L486.5 351.5L487.4 347.6L488.3 343.7L489.3 339.8L490.2 336.1L491.1 332.4L492.0 328.9L492.9 325.5L493.8 322.3L494.8 319.2L495.7 316.3L496.6 313.6L497.5 311.1L498.4 308.9L499.3 307.0L500.3 305.3L501.2 303.9L502.1 302.9L503.0 302.2L503.9 301.8L504.8 301.8L505.8 302.2L506.7 303.0L507.6 304.1L508.5 305.7L509.4 307.7L510.3 310.1L511.3 313.0L512.2 316.2L513.1 319.9L514.0 324.0L514.9 328.5L515.8 333.4L516.8 338.7L517.7 344.4L518.6 350.4L519.5 356.8L520.4 363.5L521.3 370.5L522.3 377.7L523.2 385.2L524.1 392.9L525.0 400.7L525.9 408.7L526.8 416.8L527.8 425.0L528.7 433.2L529.6 441.4L530.5 449.7L531.4 457.8L532.3 465.9L533.3 473.8L534.2 481.7L535.1 489.3L536.0 496.8L536.9 504.1L537.8 511.2L538.8 518.0L539.7 524.6L540.6 530.9L541.5 537.0L542.4 542.8L543.3 548.4L544.3 553.7L545.2 558.7L546.1 563.4L547.0 567.9L547.9 572.0L548.8 576.0L549.8 579.7L550.7 583.1L551.6 586.3L551.6 622.1Z" stroke="#00BFC4"/>
<path d="M64.5 622.1L64.5 324.3L64.9 315.1L65.4 305.7L65.8 296.1L66.3 286.3L66.7 276.4L67.1 266.4L67.6 256.3L68.0 246.2L68.5 236.0L68.9 225.8L69.3 215.7L69.8 205.6L70.2 195.6L70.7 185.8L71.1 176.1L71.5 166.7L72.0 157.5L72.4 148.6L72.9 140.0L73.3 131.8L73.7 123.9L74.2 116.4L74.6 109.4L75.1 102.9L75.5 96.8L75.9 91.2L76.4 86.1L76.8 81.5L77.2 77.4L77.7 73.9L78.1 70.9L78.6 68.4L79.0 66.5L79.4 65.0L79.9 64.1L80.3 63.7L80.8 63.8L81.2 64.3L81.6 65.3L82.1 66.7L82.5 68.5L83.0 70.8L83.4 73.4L83.8 76.4L84.3 79.7L84.7 83.3L85.2 87.3L85.6 91.5L86.0 96.0L86.5 100.8L86.9 105.7L87.4 110.9L87.8 116.3L88.2 121.9L88.7 127.7L89.1 133.6L89.6 139.6L90.0 145.8L90.4 152.1L90.9 158.4L91.3 164.9L91.8 171.5L92.2 178.1L92.6 184.8L93.1 191.5L93.5 198.2L94.0 205.0L94.4 211.9L94.8 218.7L95.3 225.5L95.7 232.3L96.2 239.1L96.6 245.9L97.0 252.7L97.5 259.4L97.9 266.1L98.3 272.7L98.8 279.2L99.2 285.7L99.7 292.1L100.1 298.5L100.5 304.7L101.0 310.9L101.4 317.0L101.9 322.9L102.3 328.8L102.7 334.5L103.2 340.2L103.6 345.7L104.1 351.1L104.5 356.4L104.9 361.6L105.4 366.7L105.8 371.6L106.3 376.4L106.7 381.1L107.1 385.7L107.6 390.1L108.0 394.5L108.5 398.7L108.9 402.8L109.3 406.8L109.8 410.7L110.2 414.4L110.7 418.1L111.1 421.7L111.5 425.2L112.0 428.5L112.4 431.8L112.9 435.0L113.3 438.1L113.7 441.1L114.2 444.0L114.6 446.9L115.1 449.6L115.5 452.3L115.9 455.0L116.4 457.5L116.8 460.0L117.3 462.4L117.7 464.8L118.1 467.1L118.6 469.3L119.0 471.5L119.4 473.6L119.9 475.6L120.3 477.7L120.8 479.6L121.2 481.5L121.6 483.4L122.1 485.2L122.5 487.0L123.0 488.7L123.4 490.4L123.8 492.0L124.3 493.6L124.7 495.1L125.2 496.6L125.6 498.1L126.0 499.5L126.5 500.9L126.9 502.3L127.4 503.6L127.8 504.9L128.2 506.1L128.7 507.3L129.1 508.5L129.6 509.7L130.0 510.8L132.9 517.3L135.7 522.8L138.6 527.3L141.4 531.3L144.3 534.7L147.1 537.7L150.0 540.6L152.9 543.2L155.7 545.7L158.6 548.0L161.4 550.3L164.3 552.4L167.1 554.4L170.0 556.3L172.9 558.0L175.7 559.6L178.6 561.1L181.4 562.4L184.3 563.5L187.1 564.5L190.0 565.4L192.9 566.1L195.7 566.7L198.6 567.3L201.4 567.7L204.3 568.0L207.1 568.2L210.0 568.3L212.9 568.3L215.7 568.3L218.6 568.2L221.4 568.1L224.3 567.9L227.1 567.6L230.0 567.3L232.9 567.0L235.7 566.6L238.6 566.1L241.4 565.6L244.3 565.0L247.1 564.4L250.0 563.8L252.9 563.1L255.7 562.3L258.6 561.5L261.4 560.7L264.3 559.8L267.1 558.9L270.0 558.1L272.9 557.2L275.7 556.4L278.6 555.5L281.4 554.6L284.3 553.8L287.1 552.9L290.0 552.0L292.9 551.2L295.7 550.4L298.6 549.7L301.4 549.0L304.3 548.5L307.1 547.9L310.0 547.5L312.9 547.0L315.7 546.6L318.6 546.3L321.4 545.9L324.3 545.6L327.1 545.2L330.0 544.9L332.9 544.6L335.7 544.2L338.6 543.8L341.4 543.5L344.3 543.0L347.1 542.6L350.0 542.1L352.9 541.6L355.7 541.1L358.6 540.5L361.4 539.9L364.3 539.1L367.1 538.3L370.0 537.3L372.9 536.3L375.7 535.2L378.6 534.0L381.4 532.8L384.3 531.5L387.1 530.2L390.0 528.9L392.9 527.5L395.7 526.1L398.6 524.7L401.4 523.1L404.3 521.5L407.1 519.8L410.0 518.0L412.9 516.0L415.7 513.8L418.6 511.5L421.4 508.9L424.3 506.0L427.1 502.9L430.0 499.4L432.9 495.6L435.7 491.5L438.6 487.1L441.4 482.4L444.3 477.5L447.1 472.3L450.0 466.9L452.9 461.3L455.7 455.3L458.6 449.0L461.4 442.1L464.3 434.5L467.1 426.2L470.0 417.0L470.9 413.8L471.8 410.6L472.8 407.3L473.7 403.9L474.6 400.4L475.5 396.9L476.4 393.2L477.3 389.5L478.3 385.8L479.2 381.9L480.1 378.1L481.0 374.2L481.9 370.2L482.8 366.3L483.8 362.3L484.7 358.4L485.6 354.4L486.5 350.5L487.4 346.6L488.3 342.7L489.3 338.9L490.2 335.2L491.1 331.6L492.0 328.0L492.9 324.6L493.8 321.4L494.8 318.3L495.7 315.4L496.6 312.6L497.5 310.1L498.4 307.9L499.3 305.8L500.3 304.1L501.2 302.6L502.1 301.5L503.0 300.7L503.9 300.2L504.8 300.1L505.8 300.3L506.7 300.9L507.6 302.0L508.5 303.4L509.4 305.2L510.3 307.5L511.3 310.2L512.2 313.3L513.1 316.8L514.0 320.8L514.9 325.2L515.8 330.0L516.8 335.2L517.7 340.8L518.6 346.7L519.5 353.0L520.4 359.7L521.3 366.6L522.3 373.8L523.2 381.3L524.1 389.0L525.0 396.9L525.9 404.9L526.8 413.1L527.8 421.3L528.7 429.6L529.6 437.9L530.5 446.3L531.4 454.5L532.3 462.7L533.3 470.8L534.2 478.8L535.1 486.6L536.0 494.2L536.9 501.6L537.8 508.8L538.8 515.8L539.7 522.6L540.6 529.1L541.5 535.3L542.4 541.2L543.3 546.9L544.3 552.3L545.2 557.4L546.1 562.3L547.0 566.8L547.9 571.1L548.8 575.2L549.8 579.0L550.7 582.5L551.6 585.8L551.6 622.1Z" stroke="#00BFC4"/>
<path d="M64.5 622.1L64.5 321.7L64.9 312.4L65.4 302.9L65.8 293.3L66.3 283.5L66.7 273.6L67.1 263.5L67.6 253.4L68.0 243.3L68.5 233.1L68.9 222.9L69.3 212.8L69.8 202.8L70.2 192.8L70.7 183.0L71.1 173.5L71.5 164.1L72.0 154.9L72.4 146.1L72.9 137.6L73.3 129.4L73.7 121.6L74.2 114.2L74.6 107.2L75.1 100.7L75.5 94.7L75.9 89.1L76.4 84.0L76.8 79.5L77.2 75.5L77.7 71.9L78.1 68.9L78.6 66.5L79.0 64.5L79.4 63.1L79.9 62.1L80.3 61.7L80.8 61.7L81.2 62.2L81.6 63.2L82.1 64.6L82.5 66.4L83.0 68.6L83.4 71.1L83.8 74.1L84.3 77.4L84.7 81.0L85.2 84.9L85.6 89.1L86.0 93.6L86.5 98.3L86.9 103.3L87.4 108.5L87.8 113.9L88.2 119.5L88.7 125.2L89.1 131.1L89.6 137.2L90.0 143.4L90.4 149.7L90.9 156.1L91.3 162.6L91.8 169.2L92.2 175.8L92.6 182.5L93.1 189.3L93.5 196.1L94.0 202.9L94.4 209.7L94.8 216.6L95.3 223.5L95.7 230.3L96.2 237.1L96.6 243.9L97.0 250.7L97.5 257.5L97.9 264.1L98.3 270.8L98.8 277.3L99.2 283.8L99.7 290.3L100.1 296.6L100.5 302.9L101.0 309.0L101.4 315.1L101.9 321.1L102.3 326.9L102.7 332.7L103.2 338.3L103.6 343.8L104.1 349.3L104.5 354.5L104.9 359.7L105.4 364.8L105.8 369.7L106.3 374.5L106.7 379.2L107.1 383.8L107.6 388.2L108.0 392.6L108.5 396.8L108.9 400.9L109.3 404.9L109.8 408.8L110.2 412.6L110.7 416.2L111.1 419.8L111.5 423.3L112.0 426.7L112.4 429.9L112.9 433.1L113.3 436.3L113.7 439.3L114.2 442.2L114.6 445.1L115.1 447.9L115.5 450.6L115.9 453.2L116.4 455.8L116.8 458.3L117.3 460.8L117.7 463.1L118.1 465.4L118.6 467.7L119.0 469.9L119.4 472.0L119.9 474.1L120.3 476.2L120.8 478.1L121.2 480.1L121.6 482.0L122.1 483.8L122.5 485.6L123.0 487.3L123.4 489.0L123.8 490.7L124.3 492.3L124.7 493.9L125.2 495.4L125.6 496.9L126.0 498.3L126.5 499.8L126.9 501.1L127.4 502.5L127.8 503.8L128.2 505.0L128.7 506.3L129.1 507.5L129.6 508.6L130.0 509.7L132.9 516.4L135.7 521.9L138.6 526.5L141.4 530.5L144.3 533.9L147.1 537.0L150.0 539.8L152.9 542.5L155.7 545.0L158.6 547.4L161.4 549.7L164.3 551.8L167.1 553.9L170.0 555.8L172.9 557.5L175.7 559.2L178.6 560.6L181.4 561.9L184.3 563.1L187.1 564.1L190.0 565.0L192.9 565.7L195.7 566.3L198.6 566.8L201.4 567.2L204.3 567.5L207.1 567.7L210.0 567.9L212.9 567.9L215.7 567.9L218.6 567.8L221.4 567.7L224.3 567.5L227.1 567.2L230.0 566.9L232.9 566.5L235.7 566.1L238.6 565.7L241.4 565.2L244.3 564.6L247.1 564.0L250.0 563.4L252.9 562.7L255.7 561.9L258.6 561.1L261.4 560.3L264.3 559.4L267.1 558.6L270.0 557.7L272.9 556.9L275.7 556.1L278.6 555.2L281.4 554.4L284.3 553.5L287.1 552.7L290.0 551.8L292.9 550.9L295.7 550.1L298.6 549.4L301.4 548.7L304.3 548.1L307.1 547.5L310.0 547.0L312.9 546.6L315.7 546.1L318.6 545.7L321.4 545.4L324.3 545.0L327.1 544.7L330.0 544.3L332.9 544.0L335.7 543.6L338.6 543.2L341.4 542.8L344.3 542.4L347.1 542.0L350.0 541.6L352.9 541.1L355.7 540.6L358.6 540.0L361.4 539.3L364.3 538.6L367.1 537.7L370.0 536.8L372.9 535.7L375.7 534.6L378.6 533.4L381.4 532.1L384.3 530.8L387.1 529.5L390.0 528.2L392.9 526.8L395.7 525.4L398.6 523.9L401.4 522.3L404.3 520.7L407.1 519.0L410.0 517.1L412.9 515.1L415.7 512.9L418.6 510.5L421.4 507.9L424.3 505.0L427.1 501.8L430.0 498.2L432.9 494.4L435.7 490.2L438.6 485.7L441.4 481.0L444.3 476.0L447.1 470.8L450.0 465.4L452.9 459.7L455.7 453.7L458.6 447.3L461.4 440.4L464.3 432.8L467.1 424.5L470.0 415.3L470.9 412.2L471.8 409.0L472.8 405.7L473.7 402.3L474.6 398.9L475.5 395.3L476.4 391.7L477.3 388.1L478.3 384.3L479.2 380.6L480.1 376.7L481.0 372.9L481.9 369.0L482.8 365.1L483.8 361.2L484.7 357.2L485.6 353.3L486.5 349.4L487.4 345.6L488.3 341.7L489.3 338.0L490.2 334.3L491.1 330.7L492.0 327.2L492.9 323.8L493.8 320.5L494.8 317.4L495.7 314.5L496.6 311.7L497.5 309.2L498.4 306.8L499.3 304.7L500.3 302.9L501.2 301.4L502.1 300.1L503.0 299.2L503.9 298.6L504.8 298.3L505.8 298.5L506.7 298.9L507.6 299.8L508.5 301.1L509.4 302.8L510.3 304.9L511.3 307.4L512.2 310.4L513.1 313.8L514.0 317.6L514.9 321.9L515.8 326.6L516.8 331.6L517.7 337.1L518.6 343.0L519.5 349.2L520.4 355.8L521.3 362.7L522.3 369.9L523.2 377.4L524.1 385.1L525.0 393.0L525.9 401.1L526.8 409.3L527.8 417.6L528.7 426.0L529.6 434.4L530.5 442.9L531.4 451.2L532.3 459.5L533.3 467.8L534.2 475.9L535.1 483.8L536.0 491.6L536.9 499.2L537.8 506.5L538.8 513.6L539.7 520.5L540.6 527.2L541.5 533.5L542.4 539.6L543.3 545.4L544.3 551.0L545.2 556.2L546.1 561.2L547.0 565.8L547.9 570.3L548.8 574.4L549.8 578.3L550.7 581.9L551.6 585.2L551.6 622.1Z" stroke="#00BFC4"/>
<path d="M64.5 622.1L64.5 319.2L64.9 309.8L65.4 300.2L65.8 290.5L66.3 280.7L66.7 270.7L67.1 260.6L67.6 250.5L68.0 240.4L68.5 230.2L68.9 220.0L69.3 209.9L69.8 199.9L70.2 190.1L70.7 180.3L71.1 170.8L71.5 161.5L72.0 152.4L72.4 143.6L72.9 135.2L73.3 127.0L73.7 119.3L74.2 112.0L74.6 105.0L75.1 98.6L75.5 92.6L75.9 87.1L76.4 82.0L76.8 77.5L77.2 73.5L77.7 70.0L78.1 67.0L78.6 64.5L79.0 62.6L79.4 61.1L79.9 60.2L80.3 59.7L80.8 59.7L81.2 60.2L81.6 61.1L82.1 62.4L82.5 64.2L83.0 66.4L83.4 68.9L83.8 71.8L84.3 75.1L84.7 78.6L85.2 82.5L85.6 86.7L86.0 91.2L86.5 95.9L86.9 100.9L87.4 106.0L87.8 111.4L88.2 117.0L88.7 122.8L89.1 128.7L89.6 134.8L90.0 141.0L90.4 147.3L90.9 153.7L91.3 160.3L91.8 166.9L92.2 173.6L92.6 180.3L93.1 187.1L93.5 193.9L94.0 200.8L94.4 207.6L94.8 214.5L95.3 221.4L95.7 228.3L96.2 235.1L96.6 242.0L97.0 248.8L97.5 255.5L97.9 262.2L98.3 268.9L98.8 275.5L99.2 282.0L99.7 288.4L100.1 294.7L100.5 301.0L101.0 307.2L101.4 313.2L101.9 319.2L102.3 325.1L102.7 330.8L103.2 336.4L103.6 342.0L104.1 347.4L104.5 352.7L104.9 357.8L105.4 362.9L105.8 367.8L106.3 372.6L106.7 377.3L107.1 381.9L107.6 386.3L108.0 390.6L108.5 394.9L108.9 399.0L109.3 403.0L109.8 406.9L110.2 410.7L110.7 414.3L111.1 417.9L111.5 421.4L112.0 424.8L112.4 428.1L112.9 431.3L113.3 434.4L113.7 437.5L114.2 440.4L114.6 443.3L115.1 446.1L115.5 448.9L115.9 451.5L116.4 454.1L116.8 456.6L117.3 459.1L117.7 461.5L118.1 463.8L118.6 466.1L119.0 468.3L119.4 470.5L119.9 472.6L120.3 474.7L120.8 476.7L121.2 478.6L121.6 480.5L122.1 482.4L122.5 484.2L123.0 486.0L123.4 487.7L123.8 489.4L124.3 491.0L124.7 492.6L125.2 494.2L125.6 495.7L126.0 497.1L126.5 498.6L126.9 500.0L127.4 501.3L127.8 502.7L128.2 503.9L128.7 505.2L129.1 506.4L129.6 507.6L130.0 508.7L132.9 515.4L135.7 521.0L138.6 525.7L141.4 529.7L144.3 533.2L147.1 536.3L150.0 539.1L152.9 541.8L155.7 544.3L158.6 546.8L161.4 549.1L164.3 551.3L167.1 553.4L170.0 555.3L172.9 557.1L175.7 558.7L178.6 560.2L181.4 561.5L184.3 562.7L187.1 563.7L190.0 564.6L192.9 565.3L195.7 565.9L198.6 566.4L201.4 566.8L204.3 567.1L207.1 567.3L210.0 567.4L212.9 567.5L215.7 567.5L218.6 567.4L221.4 567.2L224.3 567.0L227.1 566.8L230.0 566.5L232.9 566.1L235.7 565.7L238.6 565.3L241.4 564.8L244.3 564.2L247.1 563.6L250.0 563.0L252.9 562.3L255.7 561.6L258.6 560.8L261.4 559.9L264.3 559.1L267.1 558.2L270.0 557.4L272.9 556.6L275.7 555.8L278.6 555.0L281.4 554.1L284.3 553.3L287.1 552.4L290.0 551.5L292.9 550.6L295.7 549.8L298.6 549.0L301.4 548.3L304.3 547.7L307.1 547.1L310.0 546.6L312.9 546.1L315.7 545.6L318.6 545.2L321.4 544.8L324.3 544.4L327.1 544.1L330.0 543.7L332.9 543.3L335.7 543.0L338.6 542.6L341.4 542.2L344.3 541.9L347.1 541.4L350.0 541.0L352.9 540.5L355.7 540.0L358.6 539.4L361.4 538.8L364.3 538.1L367.1 537.2L370.0 536.2L372.9 535.2L375.7 534.0L378.6 532.8L381.4 531.5L384.3 530.2L387.1 528.8L390.0 527.4L392.9 526.0L395.7 524.6L398.6 523.1L401.4 521.5L404.3 519.9L407.1 518.1L410.0 516.2L412.9 514.2L415.7 512.0L418.6 509.6L421.4 506.9L424.3 503.9L427.1 500.7L430.0 497.1L432.9 493.2L435.7 488.9L438.6 484.4L441.4 479.6L444.3 474.5L447.1 469.2L450.0 463.8L452.9 458.0L455.7 452.0L458.6 445.6L461.4 438.7L464.3 431.2L467.1 422.9L470.0 413.7L470.9 410.6L471.8 407.4L472.8 404.1L473.7 400.8L474.6 397.3L475.5 393.8L476.4 390.3L477.3 386.6L478.3 382.9L479.2 379.2L480.1 375.4L481.0 371.6L481.9 367.7L482.8 363.9L483.8 360.0L484.7 356.1L485.6 352.2L486.5 348.4L487.4 344.6L488.3 340.8L489.3 337.0L490.2 333.4L491.1 329.8L492.0 326.3L492.9 322.9L493.8 319.6L494.8 316.5L495.7 313.6L496.6 310.8L497.5 308.2L498.4 305.8L499.3 303.6L500.3 301.7L501.2 300.1L502.1 298.7L503.0 297.7L503.9 297.0L504.8 296.6L505.8 296.6L506.7 296.9L507.6 297.7L508.5 298.8L509.4 300.3L510.3 302.3L511.3 304.7L512.2 307.5L513.1 310.8L514.0 314.4L514.9 318.6L515.8 323.1L516.8 328.1L517.7 333.5L518.6 339.3L519.5 345.5L520.4 352.0L521.3 358.9L522.3 366.1L523.2 373.5L524.1 381.2L525.0 389.2L525.9 397.3L526.8 405.6L527.8 414.0L528.7 422.4L529.6 430.9L530.5 439.5L531.4 447.9L532.3 456.4L533.3 464.7L534.2 473.0L535.1 481.0L536.0 489.0L536.9 496.7L537.8 504.2L538.8 511.5L539.7 518.5L540.6 525.3L541.5 531.8L542.4 538.0L543.3 543.9L544.3 549.6L545.2 555.0L546.1 560.0L547.0 564.8L547.9 569.4L548.8 573.6L549.8 577.6L550.7 581.3L551.6 584.7L551.6 622.1Z" stroke="#00BFC4"/>
<path d="M64.5 622.1L64.5 316.6L64.9 307.1L65.4 297.5L65.8 287.7L66.3 277.8L66.7 267.8L67.1 257.7L67.6 247.6L68.0 237.4L68.5 227.3L68.9 217.2L69.3 207.1L69.8 197.1L70.2 187.3L70.7 177.6L71.1 168.1L71.5 158.8L72.0 149.8L72.4 141.1L72.9 132.7L73.3 124.7L73.7 117.0L74.2 109.7L74.6 102.9L75.1 96.4L75.5 90.5L75.9 85.0L76.4 80.0L76.8 75.5L77.2 71.5L77.7 68.0L78.1 65.1L78.6 62.6L79.0 60.6L79.4 59.2L79.9 58.2L80.3 57.7L80.8 57.7L81.2 58.1L81.6 59.0L82.1 60.3L82.5 62.0L83.0 64.1L83.4 66.7L83.8 69.5L84.3 72.7L84.7 76.3L85.2 80.2L85.6 84.3L86.0 88.8L86.5 93.5L86.9 98.4L87.4 103.6L87.8 109.0L88.2 114.6L88.7 120.3L89.1 126.3L89.6 132.4L90.0 138.6L90.4 144.9L90.9 151.4L91.3 157.9L91.8 164.6L92.2 171.3L92.6 178.1L93.1 184.9L93.5 191.7L94.0 198.6L94.4 205.5L94.8 212.5L95.3 219.4L95.7 226.3L96.2 233.2L96.6 240.0L97.0 246.8L97.5 253.6L97.9 260.3L98.3 267.0L98.8 273.6L99.2 280.1L99.7 286.5L100.1 292.9L100.5 299.1L101.0 305.3L101.4 311.4L101.9 317.3L102.3 323.2L102.7 328.9L103.2 334.6L103.6 340.1L104.1 345.5L104.5 350.8L104.9 355.9L105.4 361.0L105.8 365.9L106.3 370.7L106.7 375.4L107.1 380.0L107.6 384.4L108.0 388.7L108.5 393.0L108.9 397.1L109.3 401.1L109.8 405.0L110.2 408.8L110.7 412.5L111.1 416.0L111.5 419.5L112.0 422.9L112.4 426.3L112.9 429.5L113.3 432.6L113.7 435.7L114.2 438.6L114.6 441.5L115.1 444.4L115.5 447.1L115.9 449.8L116.4 452.4L116.8 455.0L117.3 457.4L117.7 459.9L118.1 462.2L118.6 464.5L119.0 466.8L119.4 469.0L119.9 471.1L120.3 473.2L120.8 475.2L121.2 477.2L121.6 479.1L122.1 481.0L122.5 482.8L123.0 484.6L123.4 486.4L123.8 488.1L124.3 489.7L124.7 491.4L125.2 492.9L125.6 494.5L126.0 496.0L126.5 497.4L126.9 498.8L127.4 500.2L127.8 501.5L128.2 502.8L128.7 504.1L129.1 505.3L129.6 506.5L130.0 507.7L132.9 514.5L135.7 520.1L138.6 524.9L141.4 528.9L144.3 532.4L147.1 535.5L150.0 538.4L152.9 541.1L155.7 543.7L158.6 546.1L161.4 548.5L164.3 550.7L167.1 552.8L170.0 554.8L172.9 556.6L175.7 558.3L178.6 559.8L181.4 561.1L184.3 562.3L187.1 563.3L190.0 564.2L192.9 564.9L195.7 565.5L198.6 566.0L201.4 566.4L204.3 566.7L207.1 566.9L210.0 567.0L212.9 567.1L215.7 567.0L218.6 566.9L221.4 566.8L224.3 566.6L227.1 566.3L230.0 566.0L232.9 565.7L235.7 565.3L238.6 564.9L241.4 564.4L244.3 563.8L247.1 563.2L250.0 562.6L252.9 561.9L255.7 561.2L258.6 560.4L261.4 559.6L264.3 558.7L267.1 557.9L270.0 557.1L272.9 556.3L275.7 555.5L278.6 554.7L281.4 553.9L284.3 553.1L287.1 552.2L290.0 551.3L292.9 550.4L295.7 549.5L298.6 548.7L301.4 548.0L304.3 547.3L307.1 546.7L310.0 546.1L312.9 545.6L315.7 545.1L318.6 544.7L321.4 544.3L324.3 543.9L327.1 543.5L330.0 543.1L332.9 542.7L335.7 542.4L338.6 542.0L341.4 541.6L344.3 541.3L347.1 540.9L350.0 540.4L352.9 540.0L355.7 539.5L358.6 538.9L361.4 538.3L364.3 537.5L367.1 536.7L370.0 535.7L372.9 534.6L375.7 533.4L378.6 532.2L381.4 530.9L384.3 529.5L387.1 528.1L390.0 526.7L392.9 525.3L395.7 523.9L398.6 522.3L401.4 520.7L404.3 519.0L407.1 517.2L410.0 515.3L412.9 513.3L415.7 511.0L418.6 508.6L421.4 505.9L424.3 502.9L427.1 499.6L430.0 495.9L432.9 492.0L435.7 487.7L438.6 483.0L441.4 478.2L444.3 473.0L447.1 467.7L450.0 462.2L452.9 456.4L455.7 450.4L458.6 444.0L461.4 437.0L464.3 429.5L467.1 421.2L470.0 412.1L470.9 409.0L471.8 405.8L472.8 402.6L473.7 399.2L474.6 395.8L475.5 392.3L476.4 388.8L477.3 385.2L478.3 381.5L479.2 377.8L480.1 374.0L481.0 370.3L481.9 366.5L482.8 362.6L483.8 358.8L484.7 355.0L485.6 351.1L486.5 347.3L487.4 343.6L488.3 339.8L489.3 336.1L490.2 332.5L491.1 328.9L492.0 325.4L492.9 322.0L493.8 318.8L494.8 315.6L495.7 312.6L496.6 309.8L497.5 307.2L498.4 304.7L499.3 302.5L500.3 300.5L501.2 298.8L502.1 297.4L503.0 296.2L503.9 295.4L504.8 294.9L505.8 294.7L506.7 294.9L507.6 295.5L508.5 296.5L509.4 297.9L510.3 299.7L511.3 301.9L512.2 304.6L513.1 307.7L514.0 311.3L514.9 315.3L515.8 319.7L516.8 324.6L517.7 329.9L518.6 335.6L519.5 341.7L520.4 348.2L521.3 355.0L522.3 362.2L523.2 369.6L524.1 377.4L525.0 385.3L525.9 393.5L526.8 401.8L527.8 410.3L528.7 418.8L529.6 427.4L530.5 436.1L531.4 444.7L532.3 453.2L533.3 461.7L534.2 470.1L535.1 478.3L536.0 486.3L536.9 494.2L537.8 501.9L538.8 509.3L539.7 516.5L540.6 523.4L541.5 530.0L542.4 536.4L543.3 542.5L544.3 548.2L545.2 553.7L546.1 558.9L547.0 563.8L547.9 568.5L548.8 572.8L549.8 576.9L550.7 580.6L551.6 584.2L551.6 622.1Z" stroke="#00BFC4"/>
<path d="M64.5 622.1L64.5 314.1L64.9 304.5L65.4 294.8L65.8 285.0L66.3 275.0L66.7 265.0L67.1 254.8L67.6 244.7L68.0 234.5L68.5 224.4L68.9 214.3L69.3 204.2L69.8 194.3L70.2 184.5L70.7 174.9L71.1 165.4L71.5 156.2L72.0 147.3L72.4 138.6L72.9 130.3L73.3 122.3L73.7 114.7L74.2 107.5L74.6 100.7L75.1 94.3L75.5 88.4L75.9 82.9L76.4 78.0L76.8 73.5L77.2 69.5L77.7 66.1L78.1 63.1L78.6 60.6L79.0 58.7L79.4 57.2L79.9 56.2L80.3 55.7L80.8 55.6L81.2 56.0L81.6 56.9L82.1 58.2L82.5 59.9L83.0 61.9L83.4 64.4L83.8 67.3L84.3 70.4L84.7 74.0L85.2 77.8L85.6 81.9L86.0 86.3L86.5 91.0L86.9 96.0L87.4 101.1L87.8 106.5L88.2 112.1L88.7 117.9L89.1 123.8L89.6 129.9L90.0 136.2L90.4 142.6L90.9 149.0L91.3 155.6L91.8 162.3L92.2 169.0L92.6 175.8L93.1 182.7L93.5 189.6L94.0 196.5L94.4 203.4L94.8 210.4L95.3 217.3L95.7 224.2L96.2 231.2L96.6 238.0L97.0 244.9L97.5 251.7L97.9 258.4L98.3 265.1L98.8 271.7L99.2 278.2L99.7 284.7L100.1 291.0L100.5 297.3L101.0 303.5L101.4 309.5L101.9 315.5L102.3 321.3L102.7 327.1L103.2 332.7L103.6 338.2L104.1 343.6L104.5 348.9L104.9 354.1L105.4 359.1L105.8 364.0L106.3 368.8L106.7 373.5L107.1 378.1L107.6 382.5L108.0 386.8L108.5 391.1L108.9 395.2L109.3 399.2L109.8 403.1L110.2 406.9L110.7 410.6L111.1 414.2L111.5 417.7L112.0 421.1L112.4 424.4L112.9 427.6L113.3 430.8L113.7 433.9L114.2 436.9L114.6 439.8L115.1 442.6L115.5 445.4L115.9 448.1L116.4 450.7L116.8 453.3L117.3 455.8L117.7 458.2L118.1 460.6L118.6 462.9L119.0 465.2L119.4 467.4L119.9 469.6L120.3 471.7L120.8 473.7L121.2 475.8L121.6 477.7L122.1 479.6L122.5 481.5L123.0 483.3L123.4 485.1L123.8 486.8L124.3 488.5L124.7 490.1L125.2 491.7L125.6 493.3L126.0 494.8L126.5 496.2L126.9 497.7L127.4 499.1L127.8 500.4L128.2 501.7L128.7 503.0L129.1 504.3L129.6 505.5L130.0 506.7L132.9 513.6L135.7 519.3L138.6 524.1L141.4 528.1L144.3 531.6L147.1 534.8L150.0 537.7L152.9 540.4L155.7 543.0L158.6 545.5L161.4 547.9L164.3 550.2L167.1 552.3L170.0 554.3L172.9 556.1L175.7 557.8L178.6 559.3L181.4 560.7L184.3 561.9L187.1 562.9L190.0 563.8L192.9 564.5L195.7 565.1L198.6 565.6L201.4 566.0L204.3 566.3L207.1 566.5L210.0 566.6L212.9 566.6L215.7 566.6L218.6 566.5L221.4 566.4L224.3 566.2L227.1 565.9L230.0 565.6L232.9 565.3L235.7 564.9L238.6 564.4L241.4 564.0L244.3 563.4L247.1 562.8L250.0 562.2L252.9 561.5L255.7 560.8L258.6 560.0L261.4 559.2L264.3 558.3L267.1 557.5L270.0 556.7L272.9 556.0L275.7 555.2L278.6 554.4L281.4 553.6L284.3 552.8L287.1 551.9L290.0 551.0L292.9 550.1L295.7 549.2L298.6 548.4L301.4 547.6L304.3 546.9L307.1 546.3L310.0 545.7L312.9 545.1L315.7 544.6L318.6 544.1L321.4 543.7L324.3 543.3L327.1 542.9L330.0 542.5L332.9 542.1L335.7 541.8L338.6 541.4L341.4 541.0L344.3 540.7L347.1 540.3L350.0 539.8L352.9 539.4L355.7 538.9L358.6 538.4L361.4 537.7L364.3 537.0L367.1 536.1L370.0 535.2L372.9 534.1L375.7 532.9L378.6 531.6L381.4 530.3L384.3 528.9L387.1 527.4L390.0 526.0L392.9 524.6L395.7 523.1L398.6 521.5L401.4 519.9L404.3 518.2L407.1 516.4L410.0 514.5L412.9 512.4L415.7 510.1L418.6 507.6L421.4 504.9L424.3 501.8L427.1 498.5L430.0 494.8L432.9 490.8L435.7 486.4L438.6 481.7L441.4 476.8L444.3 471.6L447.1 466.2L450.0 460.6L452.9 454.8L455.7 448.7L458.6 442.3L461.4 435.4L464.3 427.8L467.1 419.5L470.0 410.5L470.9 407.4L471.8 404.2L472.8 401.0L473.7 397.7L474.6 394.3L475.5 390.8L476.4 387.3L477.3 383.7L478.3 380.1L479.2 376.4L480.1 372.7L481.0 369.0L481.9 365.2L482.8 361.4L483.8 357.6L484.7 353.8L485.6 350.1L486.5 346.3L487.4 342.5L488.3 338.8L489.3 335.2L490.2 331.6L491.1 328.0L492.0 324.5L492.9 321.2L493.8 317.9L494.8 314.7L495.7 311.7L496.6 308.9L497.5 306.2L498.4 303.7L499.3 301.4L500.3 299.4L501.2 297.5L502.1 296.0L503.0 294.7L503.9 293.8L504.8 293.1L505.8 292.9L506.7 292.9L507.6 293.4L508.5 294.2L509.4 295.4L510.3 297.1L511.3 299.2L512.2 301.7L513.1 304.7L514.0 308.1L514.9 311.9L515.8 316.3L516.8 321.0L517.7 326.2L518.6 331.9L519.5 337.9L520.4 344.3L521.3 351.1L522.3 358.3L523.2 365.7L524.1 373.5L525.0 381.5L525.9 389.7L526.8 398.1L527.8 406.6L528.7 415.2L529.6 423.9L530.5 432.7L531.4 441.4L532.3 450.1L533.3 458.7L534.2 467.2L535.1 475.5L536.0 483.7L536.9 491.7L537.8 499.5L538.8 507.1L539.7 514.4L540.6 521.5L541.5 528.3L542.4 534.8L543.3 541.0L544.3 546.9L545.2 552.5L546.1 557.8L547.0 562.8L547.9 567.6L548.8 572.0L549.8 576.2L550.7 580.0L551.6 583.6L551.6 622.1Z" stroke="#00BFC4"/>
<path d="M64.5 622.1L64.5 311.5L64.9 301.9L65.4 292.1L65.8 282.2L66.3 272.2L66.7 262.1L67.1 252.0L67.6 241.8L68.0 231.6L68.5 221.5L68.9 211.4L69.3 201.4L69.8 191.5L70.2 181.7L70.7 172.2L71.1 162.8L71.5 153.6L72.0 144.7L72.4 136.1L72.9 127.9L73.3 119.9L73.7 112.4L74.2 105.2L74.6 98.5L75.1 92.2L75.5 86.3L75.9 80.9L76.4 76.0L76.8 71.5L77.2 67.6L77.7 64.1L78.1 61.2L78.6 58.7L79.0 56.7L79.4 55.2L79.9 54.2L80.3 53.7L80.8 53.6L81.2 54.0L81.6 54.8L82.1 56.0L82.5 57.7L83.0 59.7L83.4 62.2L83.8 65.0L84.3 68.1L84.7 71.6L85.2 75.4L85.6 79.5L86.0 83.9L86.5 88.6L86.9 93.5L87.4 98.7L87.8 104.1L88.2 109.7L88.7 115.4L89.1 121.4L89.6 127.5L90.0 133.8L90.4 140.2L90.9 146.7L91.3 153.3L91.8 160.0L92.2 166.8L92.6 173.6L93.1 180.5L93.5 187.4L94.0 194.4L94.4 201.3L94.8 208.3L95.3 215.3L95.7 222.2L96.2 229.2L96.6 236.1L97.0 242.9L97.5 249.7L97.9 256.5L98.3 263.2L98.8 269.8L99.2 276.3L99.7 282.8L100.1 289.2L100.5 295.4L101.0 301.6L101.4 307.7L101.9 313.6L102.3 319.5L102.7 325.2L103.2 330.8L103.6 336.4L104.1 341.7L104.5 347.0L104.9 352.2L105.4 357.2L105.8 362.1L106.3 366.9L106.7 371.6L107.1 376.1L107.6 380.6L108.0 384.9L108.5 389.2L108.9 393.3L109.3 397.3L109.8 401.2L110.2 405.0L110.7 408.7L111.1 412.3L111.5 415.8L112.0 419.2L112.4 422.6L112.9 425.8L113.3 429.0L113.7 432.1L114.2 435.1L114.6 438.0L115.1 440.9L115.5 443.6L115.9 446.4L116.4 449.0L116.8 451.6L117.3 454.1L117.7 456.6L118.1 459.0L118.6 461.4L119.0 463.6L119.4 465.9L119.9 468.1L120.3 470.2L120.8 472.3L121.2 474.3L121.6 476.3L122.1 478.2L122.5 480.1L123.0 481.9L123.4 483.7L123.8 485.5L124.3 487.2L124.7 488.8L125.2 490.5L125.6 492.0L126.0 493.6L126.5 495.1L126.9 496.5L127.4 497.9L127.8 499.3L128.2 500.7L128.7 502.0L129.1 503.2L129.6 504.5L130.0 505.6L132.9 512.6L135.7 518.4L138.6 523.2L141.4 527.3L144.3 530.9L147.1 534.0L150.0 537.0L152.9 539.7L155.7 542.4L158.6 544.9L161.4 547.3L164.3 549.6L167.1 551.8L170.0 553.8L172.9 555.6L175.7 557.3L178.6 558.9L181.4 560.3L184.3 561.5L187.1 562.5L190.0 563.4L192.9 564.1L195.7 564.7L198.6 565.2L201.4 565.6L204.3 565.9L207.1 566.1L210.0 566.2L212.9 566.2L215.7 566.2L218.6 566.1L221.4 565.9L224.3 565.7L227.1 565.5L230.0 565.2L232.9 564.8L235.7 564.5L238.6 564.0L241.4 563.5L244.3 563.0L247.1 562.4L250.0 561.8L252.9 561.1L255.7 560.4L258.6 559.6L261.4 558.8L264.3 558.0L267.1 557.2L270.0 556.4L272.9 555.7L275.7 554.9L278.6 554.2L281.4 553.4L284.3 552.6L287.1 551.7L290.0 550.8L292.9 549.8L295.7 548.9L298.6 548.1L301.4 547.3L304.3 546.6L307.1 545.9L310.0 545.2L312.9 544.7L315.7 544.1L318.6 543.6L321.4 543.1L324.3 542.7L327.1 542.3L330.0 541.9L332.9 541.5L335.7 541.2L338.6 540.8L341.4 540.4L344.3 540.1L347.1 539.7L350.0 539.3L352.9 538.8L355.7 538.3L358.6 537.8L361.4 537.2L364.3 536.5L367.1 535.6L370.0 534.6L372.9 533.5L375.7 532.3L378.6 531.0L381.4 529.6L384.3 528.2L387.1 526.8L390.0 525.3L392.9 523.8L395.7 522.3L398.6 520.8L401.4 519.1L404.3 517.4L407.1 515.5L410.0 513.6L412.9 511.5L415.7 509.2L418.6 506.6L421.4 503.9L424.3 500.8L427.1 497.4L430.0 493.6L432.9 489.5L435.7 485.1L438.6 480.4L441.4 475.3L444.3 470.1L447.1 464.6L450.0 459.0L452.9 453.2L455.7 447.1L458.6 440.6L461.4 433.7L464.3 426.2L467.1 417.9L470.0 408.8L470.9 405.8L471.8 402.6L472.8 399.4L473.7 396.1L474.6 392.7L475.5 389.3L476.4 385.8L477.3 382.3L478.3 378.7L479.2 375.0L480.1 371.4L481.0 367.7L481.9 363.9L482.8 360.2L483.8 356.5L484.7 352.7L485.6 349.0L486.5 345.3L487.4 341.5L488.3 337.9L489.3 334.2L490.2 330.6L491.1 327.1L492.0 323.7L492.9 320.3L493.8 317.0L494.8 313.9L495.7 310.8L496.6 307.9L497.5 305.2L498.4 302.7L499.3 300.3L500.3 298.2L501.2 296.3L502.1 294.6L503.0 293.3L503.9 292.2L504.8 291.4L505.8 291.0L506.7 290.9L507.6 291.2L508.5 291.9L509.4 293.0L510.3 294.5L511.3 296.4L512.2 298.8L513.1 301.6L514.0 304.9L514.9 308.6L515.8 312.8L516.8 317.5L517.7 322.6L518.6 328.1L519.5 334.1L520.4 340.5L521.3 347.3L522.3 354.4L523.2 361.8L524.1 369.6L525.0 377.6L525.9 385.9L526.8 394.3L527.8 402.9L528.7 411.6L529.6 420.4L530.5 429.3L531.4 438.1L532.3 446.9L533.3 455.6L534.2 464.3L535.1 472.8L536.0 481.1L536.9 489.3L537.8 497.2L538.8 504.9L539.7 512.4L540.6 519.6L541.5 526.5L542.4 533.2L543.3 539.5L544.3 545.5L545.2 551.3L546.1 556.7L547.0 561.8L547.9 566.7L548.8 571.2L549.8 575.4L550.7 579.4L551.6 583.1L551.6 622.1Z" stroke="#00BFC4"/>
<path d="M64.5 622.1L64.5 309.0L64.9 299.2L65.4 289.4L65.8 279.4L66.3 269.3L66.7 259.2L67.1 249.1L67.6 238.9L68.0 228.7L68.5 218.6L68.9 208.5L69.3 198.5L69.8 188.7L70.2 179.0L70.7 169.4L71.1 160.1L71.5 151.0L72.0 142.2L72.4 133.7L72.9 125.5L73.3 117.6L73.7 110.1L74.2 103.0L74.6 96.3L75.1 90.0L75.5 84.2L75.9 78.8L76.4 74.0L76.8 69.5L77.2 65.6L77.7 62.2L78.1 59.2L78.6 56.7L79.0 54.8L79.4 53.3L79.9 52.2L80.3 51.7L80.8 51.6L81.2 51.9L81.6 52.7L82.1 53.9L82.5 55.5L83.0 57.5L83.4 59.9L83.8 62.7L84.3 65.8L84.7 69.3L85.2 73.1L85.6 77.1L86.0 81.5L86.5 86.2L86.9 91.1L87.4 96.2L87.8 101.6L88.2 107.2L88.7 113.0L89.1 119.0L89.6 125.1L90.0 131.4L90.4 137.8L90.9 144.3L91.3 151.0L91.8 157.7L92.2 164.5L92.6 171.4L93.1 178.3L93.5 185.2L94.0 192.2L94.4 199.2L94.8 206.2L95.3 213.2L95.7 220.2L96.2 227.2L96.6 234.1L97.0 241.0L97.5 247.8L97.9 254.6L98.3 261.3L98.8 267.9L99.2 274.5L99.7 280.9L100.1 287.3L100.5 293.6L101.0 299.7L101.4 305.8L101.9 311.8L102.3 317.6L102.7 323.4L103.2 329.0L103.6 334.5L104.1 339.9L104.5 345.1L104.9 350.3L105.4 355.3L105.8 360.2L106.3 365.0L106.7 369.7L107.1 374.2L107.6 378.7L108.0 383.0L108.5 387.2L108.9 391.4L109.3 395.4L109.8 399.3L110.2 403.1L110.7 406.8L111.1 410.4L111.5 413.9L112.0 417.4L112.4 420.7L112.9 424.0L113.3 427.1L113.7 430.2L114.2 433.3L114.6 436.2L115.1 439.1L115.5 441.9L115.9 444.6L116.4 447.3L116.8 449.9L117.3 452.5L117.7 455.0L118.1 457.4L118.6 459.8L119.0 462.1L119.4 464.3L119.9 466.5L120.3 468.7L120.8 470.8L121.2 472.9L121.6 474.9L122.1 476.8L122.5 478.7L123.0 480.6L123.4 482.4L123.8 484.2L124.3 485.9L124.7 487.6L125.2 489.2L125.6 490.8L126.0 492.4L126.5 493.9L126.9 495.4L127.4 496.8L127.8 498.2L128.2 499.6L128.7 500.9L129.1 502.2L129.6 503.4L130.0 504.6L132.9 511.7L135.7 517.5L138.6 522.4L141.4 526.5L144.3 530.1L147.1 533.3L150.0 536.3L152.9 539.1L155.7 541.7L158.6 544.3L161.4 546.7L164.3 549.0L167.1 551.2L170.0 553.3L172.9 555.2L175.7 556.9L178.6 558.5L181.4 559.8L184.3 561.0L187.1 562.1L190.0 563.0L192.9 563.7L195.7 564.3L198.6 564.8L201.4 565.2L204.3 565.5L207.1 565.6L210.0 565.8L212.9 565.8L215.7 565.7L218.6 565.6L221.4 565.5L224.3 565.3L227.1 565.0L230.0 564.8L232.9 564.4L235.7 564.0L238.6 563.6L241.4 563.1L244.3 562.6L247.1 562.0L250.0 561.4L252.9 560.8L255.7 560.0L258.6 559.3L261.4 558.4L264.3 557.6L267.1 556.8L270.0 556.1L272.9 555.4L275.7 554.6L278.6 553.9L281.4 553.1L284.3 552.3L287.1 551.5L290.0 550.5L292.9 549.6L295.7 548.6L298.6 547.8L301.4 546.9L304.3 546.2L307.1 545.5L310.0 544.8L312.9 544.2L315.7 543.6L318.6 543.1L321.4 542.6L324.3 542.1L327.1 541.7L330.0 541.3L332.9 540.9L335.7 540.5L338.6 540.2L341.4 539.8L344.3 539.5L347.1 539.1L350.0 538.7L352.9 538.3L355.7 537.8L358.6 537.3L361.4 536.7L364.3 535.9L367.1 535.1L370.0 534.1L372.9 532.9L375.7 531.7L378.6 530.4L381.4 529.0L384.3 527.5L387.1 526.1L390.0 524.6L392.9 523.1L395.7 521.6L398.6 520.0L401.4 518.3L404.3 516.5L407.1 514.7L410.0 512.7L412.9 510.6L415.7 508.2L418.6 505.7L421.4 502.9L424.3 499.7L427.1 496.3L430.0 492.5L432.9 488.3L435.7 483.8L438.6 479.0L441.4 473.9L444.3 468.6L447.1 463.1L450.0 457.4L452.9 451.6L455.7 445.4L458.6 439.0L461.4 432.0L464.3 424.5L467.1 416.2L470.0 407.2L470.9 404.2L471.8 401.0L472.8 397.8L473.7 394.5L474.6 391.2L475.5 387.8L476.4 384.3L477.3 380.8L478.3 377.2L479.2 373.6L480.1 370.0L481.0 366.4L481.9 362.7L482.8 359.0L483.8 355.3L484.7 351.6L485.6 347.9L486.5 344.2L487.4 340.5L488.3 336.9L489.3 333.3L490.2 329.7L491.1 326.2L492.0 322.8L492.9 319.4L493.8 316.1L494.8 313.0L495.7 309.9L496.6 307.0L497.5 304.2L498.4 301.6L499.3 299.2L500.3 297.0L501.2 295.0L502.1 293.2L503.0 291.8L503.9 290.6L504.8 289.7L505.8 289.1L506.7 288.9L507.6 289.1L508.5 289.6L509.4 290.5L510.3 291.9L511.3 293.7L512.2 295.9L513.1 298.6L514.0 301.7L514.9 305.3L515.8 309.4L516.8 313.9L517.7 319.0L518.6 324.4L519.5 330.3L520.4 336.7L521.3 343.4L522.3 350.5L523.2 357.9L524.1 365.7L525.0 373.8L525.9 382.0L526.8 390.6L527.8 399.2L528.7 408.0L529.6 416.9L530.5 425.9L531.4 434.8L532.3 443.7L533.3 452.6L534.2 461.4L535.1 470.0L536.0 478.5L536.9 486.8L537.8 494.9L538.8 502.8L539.7 510.4L540.6 517.7L541.5 524.8L542.4 531.5L543.3 538.0L544.3 544.2L545.2 550.0L546.1 555.6L547.0 560.8L547.9 565.8L548.8 570.4L549.8 574.7L550.7 578.8L551.6 582.6L551.6 622.1Z" stroke="#00BFC4"/>
<path d="M64.5 622.1L64.5 306.4L64.9 296.6L65.4 286.7L65.8 276.6L66.3 266.5L66.7 256.3L67.1 246.2L67.6 236.0L68.0 225.8L68.5 215.7L68.9 205.6L69.3 195.7L69.8 185.9L70.2 176.2L70.7 166.7L71.1 157.4L71.5 148.4L72.0 139.6L72.4 131.2L72.9 123.0L73.3 115.2L73.7 107.8L74.2 100.7L74.6 94.1L75.1 87.9L75.5 82.1L75.9 76.8L76.4 71.9L76.8 67.5L77.2 63.6L77.7 60.2L78.1 57.3L78.6 54.8L79.0 52.8L79.4 51.3L79.9 50.3L80.3 49.7L80.8 49.6L81.2 49.9L81.6 50.6L82.1 51.8L82.5 53.4L83.0 55.3L83.4 57.7L83.8 60.4L84.3 63.5L84.7 66.9L85.2 70.7L85.6 74.7L86.0 79.1L86.5 83.7L86.9 88.6L87.4 93.8L87.8 99.2L88.2 104.8L88.7 110.6L89.1 116.5L89.6 122.7L90.0 129.0L90.4 135.4L90.9 142.0L91.3 148.6L91.8 155.4L92.2 162.2L92.6 169.1L93.1 176.1L93.5 183.1L94.0 190.1L94.4 197.1L94.8 204.2L95.3 211.2L95.7 218.2L96.2 225.2L96.6 232.1L97.0 239.0L97.5 245.9L97.9 252.7L98.3 259.4L98.8 266.0L99.2 272.6L99.7 279.1L100.1 285.4L100.5 291.7L101.0 297.9L101.4 304.0L101.9 309.9L102.3 315.8L102.7 321.5L103.2 327.1L103.6 332.6L104.1 338.0L104.5 343.3L104.9 348.4L105.4 353.4L105.8 358.3L106.3 363.1L106.7 367.8L107.1 372.3L107.6 376.8L108.0 381.1L108.5 385.3L108.9 389.5L109.3 393.5L109.8 397.4L110.2 401.2L110.7 404.9L111.1 408.5L111.5 412.1L112.0 415.5L112.4 418.9L112.9 422.1L113.3 425.3L113.7 428.4L114.2 431.5L114.6 434.4L115.1 437.3L115.5 440.2L115.9 442.9L116.4 445.6L116.8 448.2L117.3 450.8L117.7 453.3L118.1 455.8L118.6 458.2L119.0 460.5L119.4 462.8L119.9 465.0L120.3 467.2L120.8 469.3L121.2 471.4L121.6 473.5L122.1 475.4L122.5 477.4L123.0 479.2L123.4 481.1L123.8 482.9L124.3 484.6L124.7 486.3L125.2 488.0L125.6 489.6L126.0 491.2L126.5 492.7L126.9 494.2L127.4 495.7L127.8 497.1L128.2 498.5L128.7 499.8L129.1 501.1L129.6 502.4L130.0 503.6L132.9 510.8L135.7 516.7L138.6 521.6L141.4 525.7L144.3 529.3L147.1 532.6L150.0 535.6L152.9 538.4L155.7 541.1L158.6 543.6L161.4 546.1L164.3 548.5L167.1 550.7L170.0 552.8L172.9 554.7L175.7 556.4L178.6 558.0L181.4 559.4L184.3 560.6L187.1 561.7L190.0 562.6L192.9 563.3L195.7 563.9L198.6 564.4L201.4 564.8L204.3 565.1L207.1 565.2L210.0 565.3L212.9 565.4L215.7 565.3L218.6 565.2L221.4 565.1L224.3 564.9L227.1 564.6L230.0 564.3L232.9 564.0L235.7 563.6L238.6 563.2L241.4 562.7L244.3 562.2L247.1 561.6L250.0 561.0L252.9 560.4L255.7 559.7L258.6 558.9L261.4 558.1L264.3 557.2L267.1 556.5L270.0 555.8L272.9 555.1L275.7 554.3L278.6 553.6L281.4 552.9L284.3 552.1L287.1 551.2L290.0 550.3L292.9 549.3L295.7 548.3L298.6 547.4L301.4 546.6L304.3 545.8L307.1 545.0L310.0 544.4L312.9 543.7L315.7 543.1L318.6 542.5L321.4 542.0L324.3 541.6L327.1 541.1L330.0 540.7L332.9 540.3L335.7 539.9L338.6 539.6L341.4 539.2L344.3 538.9L347.1 538.5L350.0 538.1L352.9 537.7L355.7 537.2L358.6 536.7L361.4 536.1L364.3 535.4L367.1 534.5L370.0 533.5L372.9 532.4L375.7 531.1L378.6 529.8L381.4 528.4L384.3 526.9L387.1 525.4L390.0 523.9L392.9 522.4L395.7 520.8L398.6 519.2L401.4 517.5L404.3 515.7L407.1 513.8L410.0 511.8L412.9 509.7L415.7 507.3L418.6 504.7L421.4 501.9L424.3 498.7L427.1 495.2L430.0 491.3L432.9 487.1L435.7 482.6L438.6 477.7L441.4 472.5L444.3 467.1L447.1 461.6L450.0 455.8L452.9 449.9L455.7 443.8L458.6 437.3L461.4 430.4L464.3 422.8L467.1 414.6L470.0 405.6L470.9 402.5L471.8 399.4L472.8 396.2L473.7 393.0L474.6 389.6L475.5 386.3L476.4 382.8L477.3 379.3L478.3 375.8L479.2 372.3L480.1 368.7L481.0 365.1L481.9 361.4L482.8 357.8L483.8 354.1L484.7 350.5L485.6 346.8L486.5 343.2L487.4 339.5L488.3 335.9L489.3 332.4L490.2 328.8L491.1 325.3L492.0 321.9L492.9 318.6L493.8 315.3L494.8 312.1L495.7 309.0L496.6 306.0L497.5 303.2L498.4 300.6L499.3 298.1L500.3 295.8L501.2 293.7L502.1 291.9L503.0 290.3L503.9 289.0L504.8 288.0L505.8 287.3L506.7 286.9L507.6 286.9L508.5 287.3L509.4 288.1L510.3 289.3L511.3 290.9L512.2 293.0L513.1 295.5L514.0 298.5L514.9 302.0L515.8 306.0L516.8 310.4L517.7 315.3L518.6 320.7L519.5 326.5L520.4 332.8L521.3 339.5L522.3 346.6L523.2 354.0L524.1 361.8L525.0 369.9L525.9 378.2L526.8 386.8L527.8 395.5L528.7 404.4L529.6 413.4L530.5 422.5L531.4 431.5L532.3 440.6L533.3 449.6L534.2 458.5L535.1 467.3L536.0 475.9L536.9 484.3L537.8 492.6L538.8 500.6L539.7 508.3L540.6 515.8L541.5 523.0L542.4 529.9L543.3 536.5L544.3 542.8L545.2 548.8L546.1 554.5L547.0 559.8L547.9 564.9L548.8 569.6L549.8 574.0L550.7 578.2L551.6 582.0L551.6 622.1Z" stroke="#00BFC4"/>
<path d="M64.5 622.1L64.5 303.9L64.9 294.0L65.4 283.9L65.8 273.8L66.3 263.7L66.7 253.5L67.1 243.3L67.6 233.1L68.0 222.9L68.5 212.8L68.9 202.7L69.3 192.8L69.8 183.0L70.2 173.4L70.7 164.0L71.1 154.8L71.5 145.8L72.0 137.1L72.4 128.7L72.9 120.6L73.3 112.9L73.7 105.5L74.2 98.5L74.6 91.9L75.1 85.7L75.5 80.0L75.9 74.7L76.4 69.9L76.8 65.6L77.2 61.7L77.7 58.3L78.1 55.3L78.6 52.9L79.0 50.9L79.4 49.3L79.9 48.3L80.3 47.7L80.8 47.5L81.2 47.8L81.6 48.5L82.1 49.7L82.5 51.2L83.0 53.1L83.4 55.5L83.8 58.2L84.3 61.2L84.7 64.6L85.2 68.3L85.6 72.4L86.0 76.7L86.5 81.3L86.9 86.2L87.4 91.3L87.8 96.7L88.2 102.3L88.7 108.1L89.1 114.1L89.6 120.3L90.0 126.6L90.4 133.0L90.9 139.6L91.3 146.3L91.8 153.1L92.2 160.0L92.6 166.9L93.1 173.9L93.5 180.9L94.0 188.0L94.4 195.0L94.8 202.1L95.3 209.1L95.7 216.2L96.2 223.2L96.6 230.2L97.0 237.1L97.5 243.9L97.9 250.8L98.3 257.5L98.8 264.1L99.2 270.7L99.7 277.2L100.1 283.6L100.5 289.8L101.0 296.0L101.4 302.1L101.9 308.1L102.3 313.9L102.7 319.6L103.2 325.2L103.6 330.7L104.1 336.1L104.5 341.4L104.9 346.5L105.4 351.5L105.8 356.4L106.3 361.2L106.7 365.9L107.1 370.4L107.6 374.9L108.0 379.2L108.5 383.4L108.9 387.5L109.3 391.6L109.8 395.5L110.2 399.3L110.7 403.0L111.1 406.6L111.5 410.2L112.0 413.6L112.4 417.0L112.9 420.3L113.3 423.5L113.7 426.6L114.2 429.7L114.6 432.7L115.1 435.6L115.5 438.4L115.9 441.2L116.4 443.9L116.8 446.6L117.3 449.2L117.7 451.7L118.1 454.2L118.6 456.6L119.0 459.0L119.4 461.3L119.9 463.5L120.3 465.7L120.8 467.9L121.2 470.0L121.6 472.0L122.1 474.0L122.5 476.0L123.0 477.9L123.4 479.8L123.8 481.6L124.3 483.4L124.7 485.1L125.2 486.8L125.6 488.4L126.0 490.0L126.5 491.6L126.9 493.1L127.4 494.5L127.8 496.0L128.2 497.4L128.7 498.7L129.1 500.0L129.6 501.3L130.0 502.6L132.9 509.8L135.7 515.8L138.6 520.8L141.4 525.0L144.3 528.6L147.1 531.8L150.0 534.8L152.9 537.7L155.7 540.4L158.6 543.0L161.4 545.5L164.3 547.9L167.1 550.2L170.0 552.3L172.9 554.2L175.7 556.0L178.6 557.6L181.4 559.0L184.3 560.2L187.1 561.3L190.0 562.2L192.9 562.9L195.7 563.5L198.6 564.0L201.4 564.4L204.3 564.6L207.1 564.8L210.0 564.9L212.9 564.9L215.7 564.9L218.6 564.8L221.4 564.6L224.3 564.4L227.1 564.2L230.0 563.9L232.9 563.6L235.7 563.2L238.6 562.8L241.4 562.3L244.3 561.8L247.1 561.2L250.0 560.6L252.9 560.0L255.7 559.3L258.6 558.5L261.4 557.7L264.3 556.9L267.1 556.1L270.0 555.4L272.9 554.7L275.7 554.1L278.6 553.4L281.4 552.6L284.3 551.8L287.1 551.0L290.0 550.0L292.9 549.0L295.7 548.0L298.6 547.1L301.4 546.2L304.3 545.4L307.1 544.6L310.0 543.9L312.9 543.2L315.7 542.6L318.6 542.0L321.4 541.5L324.3 541.0L327.1 540.5L330.0 540.1L332.9 539.7L335.7 539.3L338.6 539.0L341.4 538.6L344.3 538.3L347.1 537.9L350.0 537.5L352.9 537.1L355.7 536.7L358.6 536.2L361.4 535.6L364.3 534.9L367.1 534.0L370.0 533.0L372.9 531.8L375.7 530.5L378.6 529.2L381.4 527.7L384.3 526.2L387.1 524.7L390.0 523.2L392.9 521.6L395.7 520.1L398.6 518.4L401.4 516.7L404.3 514.9L407.1 513.0L410.0 510.9L412.9 508.7L415.7 506.4L418.6 503.7L421.4 500.9L424.3 497.7L427.1 494.1L430.0 490.2L432.9 485.9L435.7 481.3L438.6 476.3L441.4 471.1L444.3 465.7L447.1 460.0L450.0 454.2L452.9 448.3L455.7 442.1L458.6 435.6L461.4 428.7L464.3 421.2L467.1 412.9L470.0 404.0L470.9 400.9L471.8 397.8L472.8 394.7L473.7 391.4L474.6 388.1L475.5 384.8L476.4 381.3L477.3 377.9L478.3 374.4L479.2 370.9L480.1 367.3L481.0 363.8L481.9 360.2L482.8 356.6L483.8 352.9L484.7 349.3L485.6 345.7L486.5 342.1L487.4 338.5L488.3 335.0L489.3 331.4L490.2 327.9L491.1 324.5L492.0 321.0L492.9 317.7L493.8 314.4L494.8 311.2L495.7 308.1L496.6 305.1L497.5 302.2L498.4 299.5L499.3 297.0L500.3 294.6L501.2 292.4L502.1 290.5L503.0 288.8L503.9 287.4L504.8 286.2L505.8 285.4L506.7 284.9L507.6 284.8L508.5 285.0L509.4 285.6L510.3 286.7L511.3 288.1L512.2 290.1L513.1 292.5L514.0 295.3L514.9 298.7L515.8 302.5L516.8 306.9L517.7 311.7L518.6 317.0L519.5 322.8L520.4 329.0L521.3 335.6L522.3 342.7L523.2 350.1L524.1 357.9L525.0 366.0L525.9 374.4L526.8 383.0L527.8 391.9L528.7 400.8L529.6 409.9L530.5 419.1L531.4 428.2L532.3 437.4L533.3 446.5L534.2 455.6L535.1 464.5L536.0 473.3L536.9 481.9L537.8 490.2L538.8 498.4L539.7 506.3L540.6 513.9L541.5 521.3L542.4 528.3L543.3 535.0L544.3 541.5L545.2 547.6L546.1 553.4L547.0 558.8L547.9 564.0L548.8 568.8L549.8 573.3L550.7 577.6L551.6 581.5L551.6 622.1Z" stroke="#00BFC4"/>
<path d="M64.5 622.1L64.5 301.3L64.9 291.3L65.4 281.2L65.8 271.1L66.3 260.8L66.7 250.6L67.1 240.4L67.6 230.2L68.0 220.0L68.5 209.9L68.9 199.9L69.3 190.0L69.8 180.2L70.2 170.6L70.7 161.3L71.1 152.1L71.5 143.2L72.0 134.5L72.4 126.2L72.9 118.2L73.3 110.5L73.7 103.2L74.2 96.3L74.6 89.7L75.1 83.6L75.5 77.9L75.9 72.7L76.4 67.9L76.8 63.6L77.2 59.7L77.7 56.3L78.1 53.4L78.6 50.9L79.0 48.9L79.4 47.4L79.9 46.3L80.3 45.7L80.8 45.5L81.2 45.8L81.6 46.4L82.1 47.5L82.5 49.0L83.0 50.9L83.4 53.2L83.8 55.9L84.3 58.9L84.7 62.3L85.2 65.9L85.6 70.0L86.0 74.3L86.5 78.9L86.9 83.8L87.4 88.9L87.8 94.3L88.2 99.9L88.7 105.7L89.1 111.7L89.6 117.8L90.0 124.2L90.4 130.7L90.9 137.3L91.3 144.0L91.8 150.8L92.2 157.7L92.6 164.7L93.1 171.7L93.5 178.7L94.0 185.8L94.4 192.9L94.8 200.0L95.3 207.1L95.7 214.2L96.2 221.2L96.6 228.2L97.0 235.1L97.5 242.0L97.9 248.8L98.3 255.6L98.8 262.2L99.2 268.8L99.7 275.3L100.1 281.7L100.5 288.0L101.0 294.2L101.4 300.2L101.9 306.2L102.3 312.0L102.7 317.8L103.2 323.4L103.6 328.9L104.1 334.2L104.5 339.5L104.9 344.6L105.4 349.6L105.8 354.5L106.3 359.3L106.7 364.0L107.1 368.5L107.6 373.0L108.0 377.3L108.5 381.5L108.9 385.6L109.3 389.7L109.8 393.6L110.2 397.4L110.7 401.1L111.1 404.8L111.5 408.3L112.0 411.8L112.4 415.2L112.9 418.5L113.3 421.7L113.7 424.8L114.2 427.9L114.6 430.9L115.1 433.8L115.5 436.7L115.9 439.5L116.4 442.2L116.8 444.9L117.3 447.5L117.7 450.1L118.1 452.6L118.6 455.0L119.0 457.4L119.4 459.7L119.9 462.0L120.3 464.2L120.8 466.4L121.2 468.5L121.6 470.6L122.1 472.6L122.5 474.6L123.0 476.6L123.4 478.4L123.8 480.3L124.3 482.1L124.7 483.8L125.2 485.5L125.6 487.2L126.0 488.8L126.5 490.4L126.9 491.9L127.4 493.4L127.8 494.9L128.2 496.3L128.7 497.7L129.1 499.0L129.6 500.3L130.0 501.5L132.9 508.9L135.7 514.9L138.6 519.9L141.4 524.2L144.3 527.8L147.1 531.1L150.0 534.1L152.9 537.0L155.7 539.7L158.6 542.4L161.4 544.9L164.3 547.3L167.1 549.6L170.0 551.8L172.9 553.7L175.7 555.5L178.6 557.1L181.4 558.6L184.3 559.8L187.1 560.9L190.0 561.8L192.9 562.5L195.7 563.1L198.6 563.6L201.4 564.0L204.3 564.2L207.1 564.4L210.0 564.5L212.9 564.5L215.7 564.4L218.6 564.3L221.4 564.2L224.3 564.0L227.1 563.8L230.0 563.5L232.9 563.1L235.7 562.8L238.6 562.4L241.4 561.9L244.3 561.4L247.1 560.9L250.0 560.3L252.9 559.6L255.7 558.9L258.6 558.1L261.4 557.3L264.3 556.5L267.1 555.8L270.0 555.1L272.9 554.4L275.7 553.8L278.6 553.1L281.4 552.4L284.3 551.6L287.1 550.7L290.0 549.8L292.9 548.7L295.7 547.8L298.6 546.8L301.4 545.9L304.3 545.0L307.1 544.2L310.0 543.5L312.9 542.8L315.7 542.1L318.6 541.5L321.4 540.9L324.3 540.4L327.1 539.9L330.0 539.5L332.9 539.1L335.7 538.7L338.6 538.4L341.4 538.0L344.3 537.7L347.1 537.3L350.0 537.0L352.9 536.6L355.7 536.1L358.6 535.6L361.4 535.1L364.3 534.4L367.1 533.5L370.0 532.4L372.9 531.3L375.7 530.0L378.6 528.6L381.4 527.1L384.3 525.6L387.1 524.0L390.0 522.5L392.9 520.9L395.7 519.3L398.6 517.6L401.4 515.9L404.3 514.1L407.1 512.1L410.0 510.1L412.9 507.8L415.7 505.4L418.6 502.8L421.4 499.9L424.3 496.6L427.1 493.0L430.0 489.1L432.9 484.7L435.7 480.0L438.6 475.0L441.4 469.7L444.3 464.2L447.1 458.5L450.0 452.7L452.9 446.7L455.7 440.5L458.6 434.0L461.4 427.0L464.3 419.5L467.1 411.3L470.0 402.3L470.9 399.3L471.8 396.2L472.8 393.1L473.7 389.9L474.6 386.6L475.5 383.2L476.4 379.9L477.3 376.4L478.3 373.0L479.2 369.5L480.1 366.0L481.0 362.4L481.9 358.9L482.8 355.3L483.8 351.8L484.7 348.2L485.6 344.6L486.5 341.1L487.4 337.5L488.3 334.0L489.3 330.5L490.2 327.0L491.1 323.6L492.0 320.2L492.9 316.8L493.8 313.5L494.8 310.3L495.7 307.2L496.6 304.2L497.5 301.3L498.4 298.5L499.3 295.9L500.3 293.4L501.2 291.2L502.1 289.1L503.0 287.3L503.9 285.8L504.8 284.5L505.8 283.5L506.7 282.9L507.6 282.6L508.5 282.7L509.4 283.2L510.3 284.1L511.3 285.4L512.2 287.2L513.1 289.4L514.0 292.1L514.9 295.4L515.8 299.1L516.8 303.3L517.7 308.1L518.6 313.3L519.5 319.0L520.4 325.1L521.3 331.8L522.3 338.8L523.2 346.3L524.1 354.1L525.0 362.2L525.9 370.6L526.8 379.3L527.8 388.2L528.7 397.2L529.6 406.4L530.5 415.7L531.4 425.0L532.3 434.3L533.3 443.5L534.2 452.7L535.1 461.7L536.0 470.7L536.9 479.4L537.8 487.9L538.8 496.2L539.7 504.3L540.6 512.0L541.5 519.5L542.4 526.7L543.3 533.6L544.3 540.1L545.2 546.3L546.1 552.2L547.0 557.8L547.9 563.1L548.8 568.0L549.8 572.6L550.7 577.0L551.6 581.0L551.6 622.1Z" stroke="#00BFC4"/>
<path d="M64.5 622.1L64.5 298.8L64.9 288.7L65.4 278.5L65.8 268.3L66.3 258.0L66.7 247.7L67.1 237.5L67.6 227.2L68.0 217.1L68.5 207.0L68.9 197.0L69.3 187.1L69.8 177.4L70.2 167.9L70.7 158.5L71.1 149.4L71.5 140.6L72.0 132.0L72.4 123.7L72.9 115.8L73.3 108.1L73.7 100.9L74.2 94.0L74.6 87.5L75.1 81.5L75.5 75.8L75.9 70.6L76.4 65.9L76.8 61.6L77.2 57.7L77.7 54.3L78.1 51.4L78.6 49.0L79.0 47.0L79.4 45.4L79.9 44.3L80.3 43.7L80.8 43.5L81.2 43.7L81.6 44.3L82.1 45.4L82.5 46.9L83.0 48.7L83.4 51.0L83.8 53.6L84.3 56.6L84.7 59.9L85.2 63.6L85.6 67.6L86.0 71.9L86.5 76.4L86.9 81.3L87.4 86.4L87.8 91.8L88.2 97.4L88.7 103.2L89.1 109.2L89.6 115.4L90.0 121.8L90.4 128.3L90.9 134.9L91.3 141.7L91.8 148.5L92.2 155.4L92.6 162.4L93.1 169.5L93.5 176.6L94.0 183.7L94.4 190.8L94.8 197.9L95.3 205.0L95.7 212.1L96.2 219.2L96.6 226.2L97.0 233.2L97.5 240.1L97.9 246.9L98.3 253.7L98.8 260.4L99.2 267.0L99.7 273.4L100.1 279.8L100.5 286.1L101.0 292.3L101.4 298.4L101.9 304.3L102.3 310.2L102.7 315.9L103.2 321.5L103.6 327.0L104.1 332.4L104.5 337.6L104.9 342.7L105.4 347.8L105.8 352.6L106.3 357.4L106.7 362.1L107.1 366.6L107.6 371.1L108.0 375.4L108.5 379.6L108.9 383.7L109.3 387.8L109.8 391.7L110.2 395.5L110.7 399.2L111.1 402.9L111.5 406.4L112.0 409.9L112.4 413.3L112.9 416.6L113.3 419.9L113.7 423.0L114.2 426.1L114.6 429.1L115.1 432.1L115.5 435.0L115.9 437.8L116.4 440.5L116.8 443.2L117.3 445.9L117.7 448.4L118.1 451.0L118.6 453.4L119.0 455.8L119.4 458.2L119.9 460.5L120.3 462.7L120.8 464.9L121.2 467.1L121.6 469.2L122.1 471.2L122.5 473.3L123.0 475.2L123.4 477.1L123.8 479.0L124.3 480.8L124.7 482.6L125.2 484.3L125.6 486.0L126.0 487.6L126.5 489.2L126.9 490.8L127.4 492.3L127.8 493.8L128.2 495.2L128.7 496.6L129.1 497.9L129.6 499.2L130.0 500.5L132.9 508.0L135.7 514.1L138.6 519.1L141.4 523.4L144.3 527.1L147.1 530.4L150.0 533.4L152.9 536.3L155.7 539.1L158.6 541.8L161.4 544.3L164.3 546.8L167.1 549.1L170.0 551.3L172.9 553.3L175.7 555.1L178.6 556.7L181.4 558.2L184.3 559.4L187.1 560.5L190.0 561.4L192.9 562.1L195.7 562.7L198.6 563.2L201.4 563.6L204.3 563.8L207.1 564.0L210.0 564.1L212.9 564.1L215.7 564.0L218.6 563.9L221.4 563.8L224.3 563.6L227.1 563.3L230.0 563.0L232.9 562.7L235.7 562.4L238.6 561.9L241.4 561.5L244.3 561.0L247.1 560.5L250.0 559.9L252.9 559.2L255.7 558.5L258.6 557.8L261.4 557.0L264.3 556.2L267.1 555.4L270.0 554.8L272.9 554.1L275.7 553.5L278.6 552.8L281.4 552.1L284.3 551.3L287.1 550.5L290.0 549.5L292.9 548.5L295.7 547.5L298.6 546.5L301.4 545.5L304.3 544.7L307.1 543.8L310.0 543.0L312.9 542.3L315.7 541.6L318.6 541.0L321.4 540.4L324.3 539.8L327.1 539.3L330.0 538.9L332.9 538.5L335.7 538.1L338.6 537.8L341.4 537.4L344.3 537.1L347.1 536.7L350.0 536.4L352.9 536.0L355.7 535.6L358.6 535.1L361.4 534.6L364.3 533.8L367.1 532.9L370.0 531.9L372.9 530.7L375.7 529.4L378.6 528.0L381.4 526.5L384.3 524.9L387.1 523.3L390.0 521.7L392.9 520.2L395.7 518.6L398.6 516.9L401.4 515.1L404.3 513.2L407.1 511.3L410.0 509.2L412.9 506.9L415.7 504.5L418.6 501.8L421.4 498.8L424.3 495.6L427.1 491.9L430.0 487.9L432.9 483.5L435.7 478.7L438.6 473.6L441.4 468.3L444.3 462.7L447.1 457.0L450.0 451.1L452.9 445.1L455.7 438.8L458.6 432.3L461.4 425.4L464.3 417.8L467.1 409.6L470.0 400.7L470.9 397.7L471.8 394.6L472.8 391.5L473.7 388.3L474.6 385.0L475.5 381.7L476.4 378.4L477.3 375.0L478.3 371.6L479.2 368.1L480.1 364.6L481.0 361.1L481.9 357.6L482.8 354.1L483.8 350.6L484.7 347.1L485.6 343.6L486.5 340.0L487.4 336.5L488.3 333.0L489.3 329.6L490.2 326.1L491.1 322.7L492.0 319.3L492.9 316.0L493.8 312.7L494.8 309.4L495.7 306.3L496.6 303.2L497.5 300.3L498.4 297.4L499.3 294.8L500.3 292.2L501.2 289.9L502.1 287.7L503.0 285.8L503.9 284.2L504.8 282.8L505.8 281.7L506.7 280.9L507.6 280.4L508.5 280.4L509.4 280.7L510.3 281.4L511.3 282.6L512.2 284.3L513.1 286.4L514.0 289.0L514.9 292.1L515.8 295.7L516.8 299.8L517.7 304.4L518.6 309.6L519.5 315.2L520.4 321.3L521.3 327.9L522.3 334.9L523.2 342.4L524.1 350.2L525.0 358.3L525.9 366.8L526.8 375.5L527.8 384.5L528.7 393.6L529.6 402.9L530.5 412.3L531.4 421.7L532.3 431.1L533.3 440.5L534.2 449.8L535.1 459.0L536.0 468.0L536.9 476.9L537.8 485.6L538.8 494.0L539.7 502.2L540.6 510.1L541.5 517.8L542.4 525.1L543.3 532.1L544.3 538.8L545.2 545.1L546.1 551.1L547.0 556.8L547.9 562.2L548.8 567.2L549.8 571.9L550.7 576.3L551.6 580.5L551.6 622.1Z" stroke="#00BFC4"/>
<path d="M64.5 622.1L64.5 296.2L64.9 286.0L65.4 275.8L65.8 265.5L66.3 255.2L66.7 244.9L67.1 234.6L67.6 224.3L68.0 214.2L68.5 204.1L68.9 194.1L69.3 184.3L69.8 174.6L70.2 165.1L70.7 155.8L71.1 146.8L71.5 138.0L72.0 129.4L72.4 121.2L72.9 113.3L73.3 105.8L73.7 98.6L74.2 91.8L74.6 85.3L75.1 79.3L75.5 73.7L75.9 68.6L76.4 63.9L76.8 59.6L77.2 55.8L77.7 52.4L78.1 49.5L78.6 47.0L79.0 45.0L79.4 43.5L79.9 42.3L80.3 41.7L80.8 41.4L81.2 41.6L81.6 42.3L82.1 43.3L82.5 44.7L83.0 46.5L83.4 48.7L83.8 51.3L84.3 54.3L84.7 57.6L85.2 61.2L85.6 65.2L86.0 69.4L86.5 74.0L86.9 78.9L87.4 84.0L87.8 89.4L88.2 95.0L88.7 100.8L89.1 106.8L89.6 113.0L90.0 119.4L90.4 125.9L90.9 132.6L91.3 139.3L91.8 146.2L92.2 153.2L92.6 160.2L93.1 167.3L93.5 174.4L94.0 181.5L94.4 188.7L94.8 195.9L95.3 203.0L95.7 210.1L96.2 217.2L96.6 224.3L97.0 231.2L97.5 238.2L97.9 245.0L98.3 251.8L98.8 258.5L99.2 265.1L99.7 271.6L100.1 278.0L100.5 284.3L101.0 290.5L101.4 296.5L101.9 302.5L102.3 308.3L102.7 314.0L103.2 319.7L103.6 325.1L104.1 330.5L104.5 335.7L104.9 340.9L105.4 345.9L105.8 350.7L106.3 355.5L106.7 360.2L107.1 364.7L107.6 369.2L108.0 373.5L108.5 377.7L108.9 381.8L109.3 385.9L109.8 389.8L110.2 393.6L110.7 397.4L111.1 401.0L111.5 404.6L112.0 408.1L112.4 411.5L112.9 414.8L113.3 418.0L113.7 421.2L114.2 424.3L114.6 427.3L115.1 430.3L115.5 433.2L115.9 436.1L116.4 438.8L116.8 441.5L117.3 444.2L117.7 446.8L118.1 449.3L118.6 451.8L119.0 454.3L119.4 456.6L119.9 459.0L120.3 461.2L120.8 463.5L121.2 465.6L121.6 467.8L122.1 469.9L122.5 471.9L123.0 473.9L123.4 475.8L123.8 477.7L124.3 479.5L124.7 481.3L125.2 483.1L125.6 484.8L126.0 486.4L126.5 488.0L126.9 489.6L127.4 491.2L127.8 492.6L128.2 494.1L128.7 495.5L129.1 496.9L129.6 498.2L130.0 499.5L132.9 507.0L135.7 513.2L138.6 518.3L141.4 522.6L144.3 526.3L147.1 529.6L150.0 532.7L152.9 535.6L155.7 538.4L158.6 541.1L161.4 543.7L164.3 546.2L167.1 548.6L170.0 550.8L172.9 552.8L175.7 554.6L178.6 556.3L181.4 557.7L184.3 559.0L187.1 560.1L190.0 561.0L192.9 561.7L195.7 562.3L198.6 562.8L201.4 563.1L204.3 563.4L207.1 563.6L210.0 563.6L212.9 563.6L215.7 563.6L218.6 563.5L221.4 563.3L224.3 563.1L227.1 562.9L230.0 562.6L232.9 562.3L235.7 561.9L238.6 561.5L241.4 561.1L244.3 560.6L247.1 560.1L250.0 559.5L252.9 558.8L255.7 558.1L258.6 557.4L261.4 556.6L264.3 555.8L267.1 555.1L270.0 554.4L272.9 553.8L275.7 553.2L278.6 552.6L281.4 551.9L284.3 551.1L287.1 550.2L290.0 549.2L292.9 548.2L295.7 547.2L298.6 546.2L301.4 545.2L304.3 544.3L307.1 543.4L310.0 542.6L312.9 541.8L315.7 541.1L318.6 540.4L321.4 539.8L324.3 539.3L327.1 538.8L330.0 538.3L332.9 537.9L335.7 537.5L338.6 537.2L341.4 536.8L344.3 536.5L347.1 536.2L350.0 535.8L352.9 535.4L355.7 535.0L358.6 534.6L361.4 534.0L364.3 533.3L367.1 532.4L370.0 531.3L372.9 530.1L375.7 528.8L378.6 527.4L381.4 525.8L384.3 524.3L387.1 522.6L390.0 521.0L392.9 519.4L395.7 517.8L398.6 516.1L401.4 514.3L404.3 512.4L407.1 510.4L410.0 508.3L412.9 506.0L415.7 503.6L418.6 500.8L421.4 497.8L424.3 494.5L427.1 490.8L430.0 486.8L432.9 482.3L435.7 477.5L438.6 472.3L441.4 466.9L444.3 461.2L447.1 455.4L450.0 449.5L452.9 443.4L455.7 437.2L458.6 430.7L461.4 423.7L464.3 416.2L467.1 408.0L470.0 399.1L470.9 396.1L471.8 393.0L472.8 389.9L473.7 386.7L474.6 383.5L475.5 380.2L476.4 376.9L477.3 373.5L478.3 370.1L479.2 366.7L480.1 363.3L481.0 359.8L481.9 356.4L482.8 352.9L483.8 349.4L484.7 346.0L485.6 342.5L486.5 339.0L487.4 335.5L488.3 332.1L489.3 328.6L490.2 325.2L491.1 321.8L492.0 318.4L492.9 315.1L493.8 311.8L494.8 308.5L495.7 305.4L496.6 302.3L497.5 299.3L498.4 296.4L499.3 293.6L500.3 291.0L501.2 288.6L502.1 286.4L503.0 284.3L503.9 282.6L504.8 281.0L505.8 279.8L506.7 278.9L507.6 278.3L508.5 278.1L509.4 278.3L510.3 278.8L511.3 279.9L512.2 281.4L513.1 283.3L514.0 285.8L514.9 288.7L515.8 292.2L516.8 296.2L517.7 300.8L518.6 305.8L519.5 311.4L520.4 317.5L521.3 324.0L522.3 331.0L523.2 338.5L524.1 346.3L525.0 354.5L525.9 363.0L526.8 371.8L527.8 380.8L528.7 390.0L529.6 399.4L530.5 408.9L531.4 418.4L532.3 427.9L533.3 437.5L534.2 446.9L535.1 456.2L536.0 465.4L536.9 474.5L537.8 483.3L538.8 491.9L539.7 500.2L540.6 508.2L541.5 516.0L542.4 523.5L543.3 530.6L544.3 537.4L545.2 543.9L546.1 550.0L547.0 555.8L547.9 561.3L548.8 566.4L549.8 571.2L550.7 575.7L551.6 579.9L551.6 622.1Z" stroke="#00BFC4"/>
<path d="M64.5 622.1L64.5 293.7L64.9 283.4L65.4 273.1L65.8 262.7L66.3 252.3L66.7 242.0L67.1 231.7L67.6 221.4L68.0 211.2L68.5 201.2L68.9 191.2L69.3 181.4L69.8 171.8L70.2 162.3L70.7 153.1L71.1 144.1L71.5 135.3L72.0 126.9L72.4 118.7L72.9 110.9L73.3 103.4L73.7 96.3L74.2 89.5L74.6 83.2L75.1 77.2L75.5 71.7L75.9 66.5L76.4 61.8L76.8 57.6L77.2 53.8L77.7 50.4L78.1 47.5L78.6 45.1L79.0 43.1L79.4 41.5L79.9 40.4L80.3 39.7L80.8 39.4L81.2 39.6L81.6 40.2L82.1 41.2L82.5 42.5L83.0 44.3L83.4 46.5L83.8 49.1L84.3 52.0L84.7 55.2L85.2 58.8L85.6 62.8L86.0 67.0L86.5 71.6L86.9 76.4L87.4 81.5L87.8 86.9L88.2 92.5L88.7 98.3L89.1 104.4L89.6 110.6L90.0 117.0L90.4 123.5L90.9 130.2L91.3 137.0L91.8 143.9L92.2 150.9L92.6 158.0L93.1 165.1L93.5 172.2L94.0 179.4L94.4 186.6L94.8 193.8L95.3 201.0L95.7 208.1L96.2 215.2L96.6 222.3L97.0 229.3L97.5 236.2L97.9 243.1L98.3 249.9L98.8 256.6L99.2 263.2L99.7 269.7L100.1 276.1L100.5 282.4L101.0 288.6L101.4 294.7L101.9 300.6L102.3 306.5L102.7 312.2L103.2 317.8L103.6 323.3L104.1 328.6L104.5 333.9L104.9 339.0L105.4 344.0L105.8 348.9L106.3 353.6L106.7 358.3L107.1 362.8L107.6 367.3L108.0 371.6L108.5 375.8L108.9 379.9L109.3 384.0L109.8 387.9L110.2 391.7L110.7 395.5L111.1 399.1L111.5 402.7L112.0 406.2L112.4 409.6L112.9 412.9L113.3 416.2L113.7 419.4L114.2 422.5L114.6 425.6L115.1 428.6L115.5 431.5L115.9 434.3L116.4 437.1L116.8 439.9L117.3 442.5L117.7 445.2L118.1 447.7L118.6 450.2L119.0 452.7L119.4 455.1L119.9 457.5L120.3 459.8L120.8 462.0L121.2 464.2L121.6 466.4L122.1 468.5L122.5 470.5L123.0 472.5L123.4 474.5L123.8 476.4L124.3 478.2L124.7 480.1L125.2 481.8L125.6 483.6L126.0 485.2L126.5 486.9L126.9 488.5L127.4 490.0L127.8 491.5L128.2 493.0L128.7 494.4L129.1 495.8L129.6 497.2L130.0 498.5L132.9 506.1L135.7 512.3L138.6 517.5L141.4 521.8L144.3 525.5L147.1 528.9L150.0 532.0L152.9 534.9L155.7 537.8L158.6 540.5L161.4 543.1L164.3 545.7L167.1 548.0L170.0 550.3L172.9 552.3L175.7 554.2L178.6 555.8L181.4 557.3L184.3 558.6L187.1 559.7L190.0 560.6L192.9 561.3L195.7 561.9L198.6 562.4L201.4 562.7L204.3 563.0L207.1 563.1L210.0 563.2L212.9 563.2L215.7 563.2L218.6 563.0L221.4 562.9L224.3 562.7L227.1 562.5L230.0 562.2L232.9 561.9L235.7 561.5L238.6 561.1L241.4 560.7L244.3 560.2L247.1 559.7L250.0 559.1L252.9 558.4L255.7 557.8L258.6 557.0L261.4 556.2L264.3 555.4L267.1 554.7L270.0 554.1L272.9 553.5L275.7 552.9L278.6 552.3L281.4 551.6L284.3 550.9L287.1 550.0L290.0 549.0L292.9 547.9L295.7 546.9L298.6 545.8L301.4 544.9L304.3 543.9L307.1 543.0L310.0 542.1L312.9 541.3L315.7 540.6L318.6 539.9L321.4 539.3L324.3 538.7L327.1 538.2L330.0 537.7L332.9 537.3L335.7 536.9L338.6 536.5L341.4 536.2L344.3 535.9L347.1 535.6L350.0 535.2L352.9 534.9L355.7 534.5L358.6 534.0L361.4 533.5L364.3 532.8L367.1 531.9L370.0 530.8L372.9 529.6L375.7 528.2L378.6 526.8L381.4 525.2L384.3 523.6L387.1 522.0L390.0 520.3L392.9 518.7L395.7 517.0L398.6 515.3L401.4 513.5L404.3 511.6L407.1 509.6L410.0 507.4L412.9 505.1L415.7 502.6L418.6 499.9L421.4 496.8L424.3 493.5L427.1 489.7L430.0 485.6L432.9 481.1L435.7 476.2L438.6 471.0L441.4 465.5L444.3 459.7L447.1 453.9L450.0 447.9L452.9 441.8L455.7 435.5L458.6 429.0L461.4 422.0L464.3 414.5L467.1 406.3L470.0 397.5L470.9 394.5L471.8 391.4L472.8 388.3L473.7 385.2L474.6 382.0L475.5 378.7L476.4 375.4L477.3 372.1L478.3 368.7L479.2 365.3L480.1 361.9L481.0 358.5L481.9 355.1L482.8 351.7L483.8 348.3L484.7 344.8L485.6 341.4L486.5 338.0L487.4 334.5L488.3 331.1L489.3 327.7L490.2 324.3L491.1 320.9L492.0 317.5L492.9 314.2L493.8 310.9L494.8 307.7L495.7 304.5L496.6 301.3L497.5 298.3L498.4 295.4L499.3 292.5L500.3 289.9L501.2 287.3L502.1 285.0L503.0 282.9L503.9 281.0L504.8 279.3L505.8 277.9L506.7 276.9L507.6 276.1L508.5 275.8L509.4 275.8L510.3 276.2L511.3 277.1L512.2 278.5L513.1 280.3L514.0 282.6L514.9 285.4L515.8 288.8L516.8 292.7L517.7 297.1L518.6 302.1L519.5 307.6L520.4 313.6L521.3 320.2L522.3 327.1L523.2 334.6L524.1 342.4L525.0 350.6L525.9 359.2L526.8 368.0L527.8 377.1L528.7 386.4L529.6 395.9L530.5 405.5L531.4 415.1L532.3 424.8L533.3 434.4L534.2 444.0L535.1 453.5L536.0 462.8L536.9 472.0L537.8 480.9L538.8 489.7L539.7 498.2L540.6 506.3L541.5 514.2L542.4 521.8L543.3 529.1L544.3 536.0L545.2 542.6L546.1 548.9L547.0 554.8L547.9 560.4L548.8 565.6L549.8 570.5L550.7 575.1L551.6 579.4L551.6 622.1Z" stroke="#00BFC4"/>
<path d="M64.5 622.1L64.5 291.1L64.9 280.8L65.4 270.4L65.8 259.9L66.3 249.5L66.7 239.1L67.1 228.8L67.6 218.5L68.0 208.3L68.5 198.3L68.9 188.3L69.3 178.6L69.8 168.9L70.2 159.5L70.7 150.4L71.1 141.4L71.5 132.7L72.0 124.3L72.4 116.2L72.9 108.5L73.3 101.1L73.7 94.0L74.2 87.3L74.6 81.0L75.1 75.1L75.5 69.6L75.9 64.5L76.4 59.8L76.8 55.6L77.2 51.8L77.7 48.5L78.1 45.6L78.6 43.1L79.0 41.1L79.4 39.5L79.9 38.4L80.3 37.7L80.8 37.4L81.2 37.5L81.6 38.1L82.1 39.0L82.5 40.4L83.0 42.1L83.4 44.3L83.8 46.8L84.3 49.7L84.7 52.9L85.2 56.5L85.6 60.4L86.0 64.6L86.5 69.1L86.9 74.0L87.4 79.1L87.8 84.4L88.2 90.1L88.7 95.9L89.1 101.9L89.6 108.2L90.0 114.6L90.4 121.2L90.9 127.9L91.3 134.7L91.8 141.6L92.2 148.6L92.6 155.7L93.1 162.9L93.5 170.1L94.0 177.3L94.4 184.5L94.8 191.7L95.3 198.9L95.7 206.1L96.2 213.2L96.6 220.3L97.0 227.3L97.5 234.3L97.9 241.2L98.3 248.0L98.8 254.7L99.2 261.3L99.7 267.8L100.1 274.3L100.5 280.6L101.0 286.7L101.4 292.8L101.9 298.8L102.3 304.6L102.7 310.3L103.2 315.9L103.6 321.4L104.1 326.7L104.5 332.0L104.9 337.1L105.4 342.1L105.8 347.0L106.3 351.7L106.7 356.4L107.1 360.9L107.6 365.3L108.0 369.7L108.5 373.9L108.9 378.0L109.3 382.1L109.8 386.0L110.2 389.8L110.7 393.6L111.1 397.2L111.5 400.8L112.0 404.3L112.4 407.8L112.9 411.1L113.3 414.4L113.7 417.6L114.2 420.7L114.6 423.8L115.1 426.8L115.5 429.7L115.9 432.6L116.4 435.4L116.8 438.2L117.3 440.9L117.7 443.5L118.1 446.1L118.6 448.7L119.0 451.1L119.4 453.6L119.9 455.9L120.3 458.3L120.8 460.5L121.2 462.8L121.6 464.9L122.1 467.1L122.5 469.1L123.0 471.2L123.4 473.1L123.8 475.1L124.3 477.0L124.7 478.8L125.2 480.6L125.6 482.3L126.0 484.1L126.5 485.7L126.9 487.3L127.4 488.9L127.8 490.4L128.2 491.9L128.7 493.4L129.1 494.8L129.6 496.1L130.0 497.4L132.9 505.1L135.7 511.5L138.6 516.7L141.4 521.0L144.3 524.8L147.1 528.1L150.0 531.3L152.9 534.2L155.7 537.1L158.6 539.9L161.4 542.5L164.3 545.1L167.1 547.5L170.0 549.8L172.9 551.8L175.7 553.7L178.6 555.4L181.4 556.9L184.3 558.2L187.1 559.3L190.0 560.2L192.9 560.9L195.7 561.5L198.6 562.0L201.4 562.3L204.3 562.6L207.1 562.7L210.0 562.8L212.9 562.8L215.7 562.7L218.6 562.6L221.4 562.5L224.3 562.3L227.1 562.0L230.0 561.8L232.9 561.4L235.7 561.1L238.6 560.7L241.4 560.3L244.3 559.8L247.1 559.3L250.0 558.7L252.9 558.1L255.7 557.4L258.6 556.6L261.4 555.9L264.3 555.1L267.1 554.4L270.0 553.8L272.9 553.2L275.7 552.6L278.6 552.0L281.4 551.4L284.3 550.6L287.1 549.7L290.0 548.7L292.9 547.6L295.7 546.6L298.6 545.5L301.4 544.5L304.3 543.5L307.1 542.6L310.0 541.7L312.9 540.9L315.7 540.1L318.6 539.4L321.4 538.7L324.3 538.1L327.1 537.6L330.0 537.1L332.9 536.7L335.7 536.3L338.6 535.9L341.4 535.6L344.3 535.3L347.1 535.0L350.0 534.7L352.9 534.3L355.7 533.9L358.6 533.5L361.4 533.0L364.3 532.2L367.1 531.3L370.0 530.3L372.9 529.0L375.7 527.6L378.6 526.1L381.4 524.6L384.3 522.9L387.1 521.3L390.0 519.6L392.9 518.0L395.7 516.3L398.6 514.5L401.4 512.7L404.3 510.7L407.1 508.7L410.0 506.5L412.9 504.2L415.7 501.7L418.6 498.9L421.4 495.8L424.3 492.4L427.1 488.6L430.0 484.5L432.9 479.9L435.7 474.9L438.6 469.6L441.4 464.0L444.3 458.3L447.1 452.3L450.0 446.3L452.9 440.2L455.7 433.9L458.6 427.3L461.4 420.4L464.3 412.8L467.1 404.7L470.0 395.9L470.9 392.9L471.8 389.8L472.8 386.8L473.7 383.6L474.6 380.4L475.5 377.2L476.4 373.9L477.3 370.6L478.3 367.3L479.2 364.0L480.1 360.6L481.0 357.2L481.9 353.9L482.8 350.5L483.8 347.1L484.7 343.7L485.6 340.3L486.5 336.9L487.4 333.5L488.3 330.1L489.3 326.8L490.2 323.4L491.1 320.0L492.0 316.7L492.9 313.3L493.8 310.0L494.8 306.8L495.7 303.6L496.6 300.4L497.5 297.3L498.4 294.3L499.3 291.4L500.3 288.7L501.2 286.1L502.1 283.6L503.0 281.4L503.9 279.4L504.8 277.6L505.8 276.1L506.7 274.9L507.6 274.0L508.5 273.5L509.4 273.3L510.3 273.6L511.3 274.4L512.2 275.5L513.1 277.2L514.0 279.4L514.9 282.1L515.8 285.4L516.8 289.2L517.7 293.5L518.6 298.4L519.5 303.8L520.4 309.8L521.3 316.3L522.3 323.2L523.2 330.7L524.1 338.5L525.0 346.8L525.9 355.4L526.8 364.3L527.8 373.4L528.7 382.8L529.6 392.4L530.5 402.1L531.4 411.8L532.3 421.6L533.3 431.4L534.2 441.1L535.1 450.7L536.0 460.2L536.9 469.5L537.8 478.6L538.8 487.5L539.7 496.1L540.6 504.5L541.5 512.5L542.4 520.2L543.3 527.6L544.3 534.7L545.2 541.4L546.1 547.8L547.0 553.8L547.9 559.5L548.8 564.8L549.8 569.8L550.7 574.5L551.6 578.9L551.6 622.1Z" stroke="#00BFC4"/>
<path d="M64.5 622.1L64.5 288.6L64.9 278.1L65.4 267.6L65.8 257.2L66.3 246.7L66.7 236.3L67.1 225.9L67.6 215.6L68.0 205.4L68.5 195.4L68.9 185.4L69.3 175.7L69.8 166.1L70.2 156.8L70.7 147.6L71.1 138.7L71.5 130.1L72.0 121.8L72.4 113.8L72.9 106.1L73.3 98.7L73.7 91.7L74.2 85.0L74.6 78.8L75.1 72.9L75.5 67.5L75.9 62.4L76.4 57.8L76.8 53.6L77.2 49.9L77.7 46.5L78.1 43.6L78.6 41.2L79.0 39.2L79.4 37.6L79.9 36.4L80.3 35.7L80.8 35.4L81.2 35.5L81.6 36.0L82.1 36.9L82.5 38.2L83.0 39.9L83.4 42.0L83.8 44.5L84.3 47.4L84.7 50.6L85.2 54.1L85.6 58.0L86.0 62.2L86.5 66.7L86.9 71.5L87.4 76.6L87.8 82.0L88.2 87.6L88.7 93.4L89.1 99.5L89.6 105.8L90.0 112.2L90.4 118.8L90.9 125.5L91.3 132.4L91.8 139.3L92.2 146.4L92.6 153.5L93.1 160.7L93.5 167.9L94.0 175.1L94.4 182.4L94.8 189.6L95.3 196.9L95.7 204.1L96.2 211.2L96.6 218.3L97.0 225.4L97.5 232.4L97.9 239.3L98.3 246.1L98.8 252.8L99.2 259.4L99.7 266.0L100.1 272.4L100.5 278.7L101.0 284.9L101.4 291.0L101.9 296.9L102.3 302.7L102.7 308.5L103.2 314.1L103.6 319.5L104.1 324.9L104.5 330.1L104.9 335.2L105.4 340.2L105.8 345.1L106.3 349.8L106.7 354.5L107.1 359.0L107.6 363.4L108.0 367.8L108.5 372.0L108.9 376.1L109.3 380.1L109.8 384.1L110.2 387.9L110.7 391.7L111.1 395.4L111.5 399.0L112.0 402.5L112.4 405.9L112.9 409.3L113.3 412.6L113.7 415.8L114.2 418.9L114.6 422.0L115.1 425.0L115.5 428.0L115.9 430.9L116.4 433.7L116.8 436.5L117.3 439.2L117.7 441.9L118.1 444.5L118.6 447.1L119.0 449.6L119.4 452.0L119.9 454.4L120.3 456.8L120.8 459.1L121.2 461.3L121.6 463.5L122.1 465.7L122.5 467.8L123.0 469.8L123.4 471.8L123.8 473.8L124.3 475.7L124.7 477.5L125.2 479.4L125.6 481.1L126.0 482.9L126.5 484.5L126.9 486.2L127.4 487.8L127.8 489.3L128.2 490.8L128.7 492.3L129.1 493.7L129.6 495.1L130.0 496.4L132.9 504.2L135.7 510.6L138.6 515.8L141.4 520.2L144.3 524.0L147.1 527.4L150.0 530.6L152.9 533.6L155.7 536.4L158.6 539.2L161.4 541.9L164.3 544.5L167.1 547.0L170.0 549.3L172.9 551.4L175.7 553.3L178.6 555.0L181.4 556.5L184.3 557.8L187.1 558.9L190.0 559.8L192.9 560.5L195.7 561.1L198.6 561.6L201.4 561.9L204.3 562.2L207.1 562.3L210.0 562.4L212.9 562.4L215.7 562.3L218.6 562.2L221.4 562.0L224.3 561.8L227.1 561.6L230.0 561.3L232.9 561.0L235.7 560.7L238.6 560.3L241.4 559.9L244.3 559.4L247.1 558.9L250.0 558.3L252.9 557.7L255.7 557.0L258.6 556.3L261.4 555.5L264.3 554.7L267.1 553.8L270.0 552.9L272.9 551.9L275.7 550.9L278.6 549.8L281.4 548.8L284.3 547.7L287.1 546.6L290.0 545.5L292.9 544.4L295.7 543.3L298.6 542.2L301.4 541.2L304.3 540.1L307.1 539.2L310.0 538.2L312.9 537.4L315.7 536.6L318.6 535.8L321.4 535.2L324.3 534.5L327.1 534.0L330.0 533.5L332.9 533.1L335.7 532.7L338.6 532.3L341.4 532.0L344.3 531.7L347.1 531.4L350.0 531.1L352.9 530.8L355.7 530.4L358.6 529.9L361.4 529.4L364.3 528.9L367.1 528.2L370.0 527.4L372.9 526.5L375.7 525.5L378.6 524.4L381.4 523.2L384.3 521.8L387.1 520.4L390.0 518.9L392.9 517.2L395.7 515.5L398.6 513.7L401.4 511.9L404.3 509.9L407.1 507.8L410.0 505.7L412.9 503.3L415.7 500.7L418.6 497.9L421.4 494.8L424.3 491.4L427.1 487.6L430.0 483.3L432.9 478.7L435.7 473.6L438.6 468.3L441.4 462.6L444.3 456.8L447.1 450.8L450.0 444.7L452.9 438.6L455.7 432.2L458.6 425.7L461.4 418.7L464.3 411.2L467.1 403.0L470.0 394.2L470.9 391.3L471.8 388.3L472.8 385.2L473.7 382.1L474.6 378.9L475.5 375.7L476.4 372.4L477.3 369.2L478.3 365.9L479.2 362.6L480.1 359.3L481.0 355.9L481.9 352.6L482.8 349.3L483.8 345.9L484.7 342.6L485.6 339.2L486.5 335.9L487.4 332.5L488.3 329.2L489.3 325.8L490.2 322.5L491.1 319.1L492.0 315.8L492.9 312.5L493.8 309.2L494.8 305.9L495.7 302.6L496.6 299.5L497.5 296.3L498.4 293.3L499.3 290.3L500.3 287.5L501.2 284.8L502.1 282.2L503.0 279.9L503.9 277.7L504.8 275.8L505.8 274.2L506.7 272.9L507.6 271.8L508.5 271.2L509.4 270.9L510.3 271.0L511.3 271.6L512.2 272.6L513.1 274.2L514.0 276.2L514.9 278.8L515.8 281.9L516.8 285.6L517.7 289.9L518.6 294.7L519.5 300.1L520.4 306.0L521.3 312.4L522.3 319.4L523.2 326.8L524.1 334.6L525.0 342.9L525.9 351.6L526.8 360.5L527.8 369.8L528.7 379.2L529.6 388.9L530.5 398.7L531.4 408.5L532.3 418.5L533.3 428.4L534.2 438.2L535.1 448.0L536.0 457.6L536.9 467.0L537.8 476.3L538.8 485.3L539.7 494.1L540.6 502.6L541.5 510.7L542.4 518.6L543.3 526.1L544.3 533.3L545.2 540.2L546.1 546.7L547.0 552.8L547.9 558.6L548.8 564.0L549.8 569.1L550.7 573.9L551.6 578.3L551.6 622.1Z" stroke="#00BFC4"/>
<path d="M79.9 50.7L80.3 50.1L80.8 50.0L81.2 50.3L81.6 51.2" stroke="#F8766D" stroke-width="1.3"/>
<path d="M79.4 73.2L79.9 72.3L80.3 72.0L80.8 72.2L81.2 72.8" stroke="#F8766D" stroke-width="1.3"/>
<path d="M503.0 286.9L503.9 285.3L504.8 284.1L505.8 283.2L506.7 282.7L507.6 282.6L508.5 282.9L509.4 283.6L510.3 284.8L511.3 286.5L512.2 288.7" stroke="#F8766D" stroke-width="1.3"/>
<path d="M501.2 302.2L502.1 300.9L503.0 300.1L503.9 299.6L504.8 299.4L505.8 299.7L506.7 300.3L507.6 301.4L508.5 302.9" stroke="#F8766D" stroke-width="1.3"/>
<path d="M392.9 531.1L395.7 529.8L398.6 528.5L401.4 527.1L404.3 525.6L407.1 524.0L410.0 522.3L412.9 520.4L415.7 518.4L418.6 516.2L421.4 513.8L424.3 511.1L427.1 508.2L430.0 505.0L432.9 501.5L435.7 497.7L438.6 493.6L441.4 489.3L444.3 484.7L447.1 479.8L450.0 474.6" stroke="#F8766D" stroke-width="1" opacity="0.7"/>
</g>
<rect x="40.50" y="4.10" width="534.60" height="646.80" fill="none" stroke="#7F7F7F" stroke-width="1.3"/>
<path d="M35.3 622.1H40.5M35.3 474.9H40.5M35.3 327.7H40.5M35.3 180.5H40.5M35.3 33.3H40.5M59.0 650.9V655.7M183.8 650.9V655.7M308.6 650.9V655.7M433.5 650.9V655.7M558.3 650.9V655.7" stroke="#111" stroke-width="2.0" fill="none"/>
<g font-size="13.8" fill="#000" stroke="#000" stroke-width="0.25">
<text x="32.4" y="627.5" text-anchor="end">0</text>
<path d="M29.87 480.30H28.66V472.57C28.37 472.85 27.96 473.16 27.51 473.41C27.02 473.68 26.55 473.90 26.24 474.03V472.86C26.95 472.55 27.56 472.15 28.02 471.70C28.50 471.24 28.90 470.80 29.09 470.42H29.87Z"/>
<text x="32.4" y="333.1" text-anchor="end">2</text>
<text x="32.4" y="185.9" text-anchor="end">3</text>
<text x="32.4" y="38.7" text-anchor="end">4</text>
<text x="59.0" y="669.4" text-anchor="middle">0.00</text>
<text x="183.8" y="669.4" text-anchor="middle">0.25</text>
<text x="308.6" y="669.4" text-anchor="middle">0.50</text>
<text x="433.5" y="669.4" text-anchor="middle">0.75</text>
<path d="M550.01 669.40H548.80V661.67C548.51 661.95 548.11 662.26 547.66 662.51C547.16 662.78 546.69 663.00 546.38 663.13V661.96C547.10 661.65 547.70 661.25 548.16 660.80C548.65 660.34 549.05 659.90 549.24 659.52H550.01Z"/>
<text x="552.55" y="669.4">.00</text>
</g>
<text x="307.8" y="690.2" text-anchor="middle" font-size="19.2" font-weight="bold">Beta</text>
<text transform="translate(18.1 327.5) rotate(-90)" text-anchor="middle" font-size="19.2" font-weight="bold">Density</text>
<text x="594.6" y="306.6" font-size="16.6">Time point</text>
<rect x="594.3" y="312.9" width="22.4" height="21.8" fill="none" stroke="#F8766D" stroke-width="1.8"/>
<rect x="594.3" y="337.3" width="22.4" height="22.8" fill="none" stroke="#00BFC4" stroke-width="1.8"/>
<g font-size="13.8" stroke="#000" stroke-width="0.2">
<text x="621.2" y="329.6">LH+2</text>
<text x="621.2" y="353.7">LH+8</text>
</g>
</svg>
</body></html>
